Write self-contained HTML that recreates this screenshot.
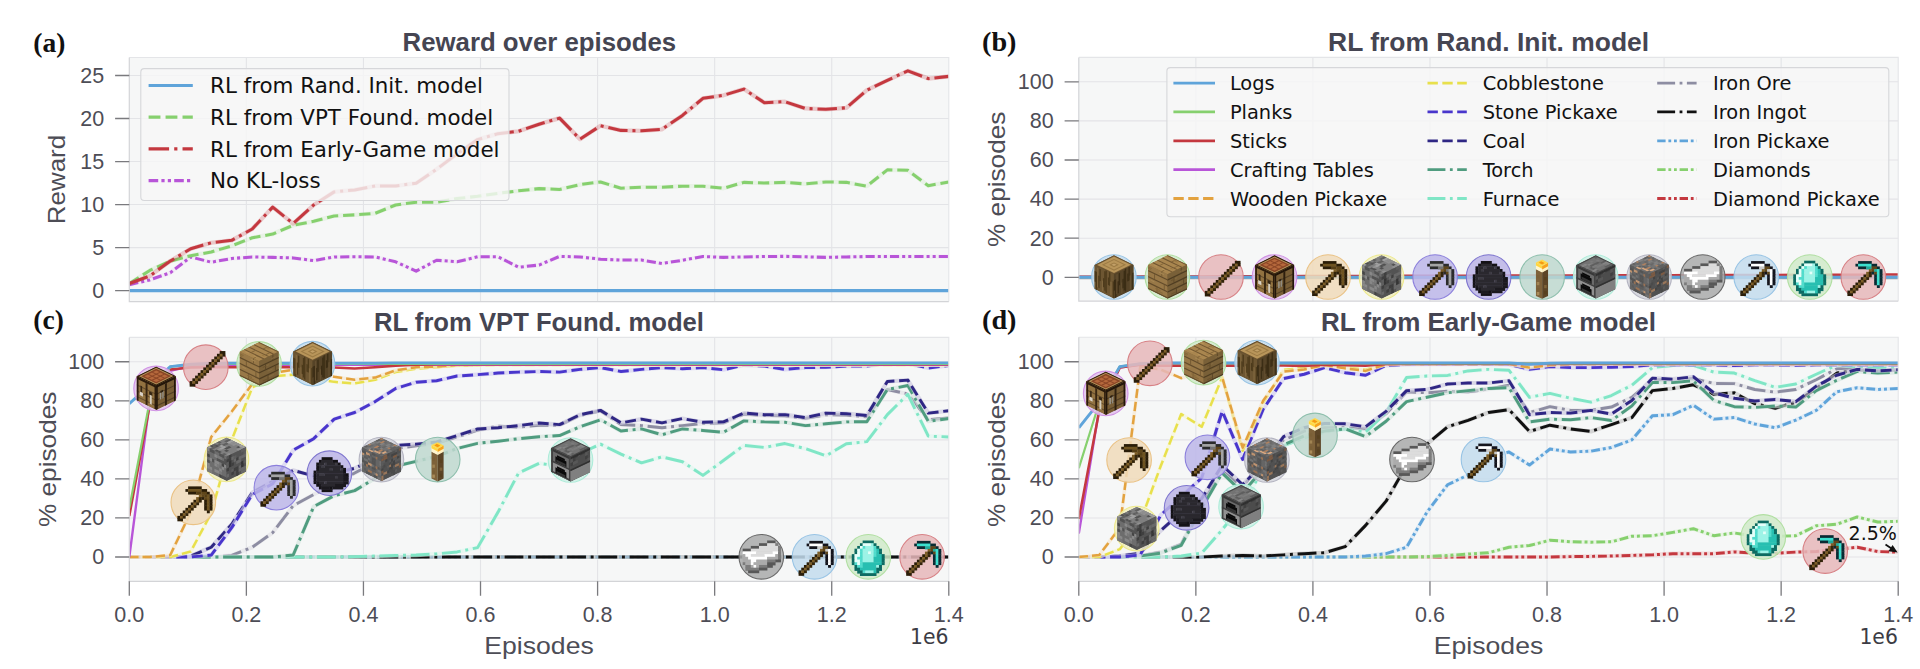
<!DOCTYPE html>
<html lang="en"><head><meta charset="utf-8"><title>RL fine-tuning results</title>
<style>html,body{margin:0;padding:0;background:#fff}svg{display:block}</style></head>
<body>
<svg width="1920" height="669" viewBox="0 0 1920 669">
<defs>
<clipPath id="ca"><rect x="129.3" y="57.5" width="819.5" height="244.1"/></clipPath>
<clipPath id="cb"><rect x="1078.8" y="57.4" width="819.4" height="243.8"/></clipPath>
<clipPath id="cc"><rect x="129.3" y="337.4" width="819.5" height="243.9"/></clipPath>
<clipPath id="cd"><rect x="1078.8" y="337.3" width="819.4" height="244"/></clipPath>
<g id="i-logs"><polygon points="0,-21.6 19.45,-12.1 19.45,11.7 0,21.4 -19.25,11.7 -19.25,-12.1" fill="#624d2d"/><g transform="matrix(1.2031 -0.5938 1.2031 0.5813 -19.250 -12.100)"><rect x="0" y="0" width="16.08" height="16.08" fill="#6b5330"/><rect x="1" y="1" width="14.08" height="14.08" fill="#b8955a"/><rect x="3" y="3" width="10.08" height="10.08" fill="#9c7b45"/><rect x="4" y="4" width="8.08" height="8.08" fill="#b8955a"/><rect x="6" y="6" width="4.08" height="4.08" fill="#9c7b45"/><rect x="7" y="7" width="2.08" height="2.08" fill="#c2a068"/></g><g transform="matrix(1.2031 0.5813 0.0000 1.4875 -19.250 -12.100)"><rect x="0" y="0" width="16.08" height="16.08" fill="#6d5632"/><rect x="0" y="4" width="1.08" height="7.08" fill="#4c3a1b"/><rect x="1" y="4" width="1.08" height="12.08" fill="#4c3a1b"/><rect x="2" y="1" width="1.08" height="13.08" fill="#80673f"/><rect x="3" y="6" width="1.08" height="8.08" fill="#4c3a1b"/><rect x="4" y="1" width="1.08" height="8.08" fill="#4c3a1b"/><rect x="6" y="8" width="1.08" height="7.08" fill="#80673f"/><rect x="7" y="6" width="1.08" height="6.08" fill="#4c3a1b"/><rect x="8" y="1" width="1.08" height="13.08" fill="#4c3a1b"/><rect x="9" y="0" width="1.08" height="15.08" fill="#4c3a1b"/><rect x="11" y="4" width="1.08" height="5.08" fill="#4c3a1b"/><rect x="12" y="0" width="1.08" height="9.08" fill="#4c3a1b"/><rect x="13" y="6" width="1.08" height="9.08" fill="#80673f"/><rect x="15" y="5" width="1.08" height="11.08" fill="#4c3a1b"/></g><g transform="matrix(1.2156 -0.5813 0.0000 1.5125 0.000 -2.800)"><rect x="0" y="0" width="16.08" height="16.08" fill="#554327"/><rect x="0" y="4" width="1.08" height="7.08" fill="#3b2d15"/><rect x="1" y="4" width="1.08" height="12.08" fill="#3b2d15"/><rect x="2" y="1" width="1.08" height="13.08" fill="#645031"/><rect x="3" y="6" width="1.08" height="8.08" fill="#3b2d15"/><rect x="4" y="1" width="1.08" height="8.08" fill="#3b2d15"/><rect x="6" y="8" width="1.08" height="7.08" fill="#645031"/><rect x="7" y="6" width="1.08" height="6.08" fill="#3b2d15"/><rect x="8" y="1" width="1.08" height="13.08" fill="#3b2d15"/><rect x="9" y="0" width="1.08" height="15.08" fill="#3b2d15"/><rect x="11" y="4" width="1.08" height="5.08" fill="#3b2d15"/><rect x="12" y="0" width="1.08" height="9.08" fill="#3b2d15"/><rect x="13" y="6" width="1.08" height="9.08" fill="#645031"/><rect x="15" y="5" width="1.08" height="11.08" fill="#3b2d15"/></g></g>
<g id="i-planks"><polygon points="0,-21.6 19.45,-12.1 19.45,11.7 0,21.4 -19.25,11.7 -19.25,-12.1" fill="#886c3f"/><g transform="matrix(1.2031 -0.5938 1.2031 0.5813 -19.250 -12.100)"><rect x="0" y="0" width="16.08" height="16.08" fill="#a9864f"/><rect x="3.4" y="0" width="0.88" height="16.08" fill="#6f5530"/><rect x="7.4" y="0" width="0.88" height="16.08" fill="#6f5530"/><rect x="11.4" y="0" width="0.88" height="16.08" fill="#6f5530"/><rect x="15.4" y="0" width="0.88" height="16.08" fill="#6f5530"/><rect x="0" y="11" width="3.48" height="0.68" fill="#7d6036"/><rect x="4" y="5" width="3.48" height="0.68" fill="#7d6036"/><rect x="8" y="13" width="3.48" height="0.68" fill="#7d6036"/><rect x="12" y="7" width="3.48" height="0.68" fill="#7d6036"/><rect x="2" y="2" width="0.78" height="3.08" fill="#b8945a"/><rect x="14" y="7" width="0.78" height="3.08" fill="#977642"/><rect x="6" y="12" width="0.78" height="2.08" fill="#977642"/><rect x="13" y="0" width="0.78" height="3.08" fill="#b8945a"/><rect x="14" y="11" width="0.78" height="3.08" fill="#b8945a"/><rect x="2" y="9" width="0.78" height="3.08" fill="#b8945a"/></g><g transform="matrix(1.2031 0.5813 0.0000 1.4875 -19.250 -12.100)"><rect x="0" y="0" width="16.08" height="16.08" fill="#987847"/><rect x="0" y="3.4" width="16.08" height="0.88" fill="#634c2b"/><rect x="0" y="7.4" width="16.08" height="0.88" fill="#634c2b"/><rect x="0" y="11.4" width="16.08" height="0.88" fill="#634c2b"/><rect x="0" y="15.4" width="16.08" height="0.88" fill="#634c2b"/><rect x="11" y="0" width="0.68" height="3.48" fill="#705630"/><rect x="5" y="4" width="0.68" height="3.48" fill="#705630"/><rect x="13" y="8" width="0.68" height="3.48" fill="#705630"/><rect x="7" y="12" width="0.68" height="3.48" fill="#705630"/><rect x="0" y="2" width="2.08" height="0.78" fill="#876a3b"/><rect x="2" y="9" width="3.08" height="0.78" fill="#a58551"/><rect x="9" y="1" width="4.08" height="0.78" fill="#a58551"/><rect x="6" y="13" width="4.08" height="0.78" fill="#876a3b"/><rect x="8" y="14" width="4.08" height="0.78" fill="#876a3b"/><rect x="0" y="1" width="3.08" height="0.78" fill="#876a3b"/></g><g transform="matrix(1.2156 -0.5813 0.0000 1.5125 0.000 -2.800)"><rect x="0" y="0" width="16.08" height="16.08" fill="#796038"/><rect x="0" y="3.4" width="16.08" height="0.88" fill="#4f3d22"/><rect x="0" y="7.4" width="16.08" height="0.88" fill="#4f3d22"/><rect x="0" y="11.4" width="16.08" height="0.88" fill="#4f3d22"/><rect x="0" y="15.4" width="16.08" height="0.88" fill="#4f3d22"/><rect x="11" y="0" width="0.68" height="3.48" fill="#5a4526"/><rect x="5" y="4" width="0.68" height="3.48" fill="#5a4526"/><rect x="13" y="8" width="0.68" height="3.48" fill="#5a4526"/><rect x="7" y="12" width="0.68" height="3.48" fill="#5a4526"/><rect x="3" y="5" width="3.08" height="0.78" fill="#6c542f"/><rect x="10" y="2" width="4.08" height="0.78" fill="#846a40"/><rect x="7" y="9" width="4.08" height="0.78" fill="#846a40"/><rect x="3" y="14" width="4.08" height="0.78" fill="#6c542f"/><rect x="6" y="5" width="2.08" height="0.78" fill="#846a40"/><rect x="8" y="13" width="4.08" height="0.78" fill="#846a40"/></g></g>
<g id="i-sticks"><rect x="13.88" y="-16.14" width="5.71" height="3.18" fill="#2a1d08"/><rect x="11.15" y="-13.42" width="2.98" height="3.18" fill="#2a1d08"/><rect x="13.88" y="-13.42" width="2.98" height="3.18" fill="#7d5e27"/><rect x="16.62" y="-13.42" width="2.98" height="2.83" fill="#2a1d08"/><rect x="8.43" y="-10.69" width="2.98" height="3.18" fill="#2a1d08"/><rect x="11.15" y="-10.69" width="2.98" height="3.18" fill="#7d5e27"/><rect x="13.88" y="-10.69" width="2.98" height="2.83" fill="#33240a"/><rect x="5.7" y="-7.96" width="2.98" height="3.18" fill="#2a1d08"/><rect x="8.43" y="-7.96" width="2.98" height="3.18" fill="#7d5e27"/><rect x="11.15" y="-7.96" width="2.98" height="2.83" fill="#33240a"/><rect x="2.96" y="-5.22" width="2.98" height="3.18" fill="#2a1d08"/><rect x="5.7" y="-5.22" width="2.98" height="3.18" fill="#7d5e27"/><rect x="8.43" y="-5.22" width="2.98" height="2.83" fill="#33240a"/><rect x="0.24" y="-2.49" width="2.98" height="3.18" fill="#2a1d08"/><rect x="2.96" y="-2.49" width="2.98" height="3.18" fill="#7d5e27"/><rect x="5.7" y="-2.49" width="2.98" height="2.83" fill="#33240a"/><rect x="-2.49" y="0.24" width="2.98" height="3.18" fill="#2a1d08"/><rect x="0.24" y="0.24" width="2.98" height="3.18" fill="#7d5e27"/><rect x="2.96" y="0.24" width="2.98" height="2.83" fill="#33240a"/><rect x="-5.22" y="2.96" width="2.98" height="3.18" fill="#2a1d08"/><rect x="-2.49" y="2.96" width="2.98" height="3.18" fill="#7d5e27"/><rect x="0.24" y="2.96" width="2.98" height="2.83" fill="#33240a"/><rect x="-7.96" y="5.7" width="2.98" height="3.18" fill="#2a1d08"/><rect x="-5.22" y="5.7" width="2.98" height="3.18" fill="#7d5e27"/><rect x="-2.49" y="5.7" width="2.98" height="2.83" fill="#33240a"/><rect x="-10.69" y="8.43" width="2.98" height="3.18" fill="#2a1d08"/><rect x="-7.96" y="8.43" width="2.98" height="3.18" fill="#7d5e27"/><rect x="-5.22" y="8.43" width="2.98" height="2.83" fill="#33240a"/><rect x="-13.42" y="11.15" width="2.98" height="3.18" fill="#2a1d08"/><rect x="-10.69" y="11.15" width="2.98" height="3.18" fill="#7d5e27"/><rect x="-7.96" y="11.15" width="2.98" height="2.83" fill="#33240a"/><rect x="-16.14" y="13.88" width="2.98" height="3.18" fill="#2a1d08"/><rect x="-13.42" y="13.88" width="2.98" height="3.18" fill="#7d5e27"/><rect x="-10.69" y="13.88" width="2.98" height="2.83" fill="#33240a"/><rect x="-16.14" y="16.62" width="5.71" height="2.83" fill="#2a1d08"/></g>
<g id="i-crafting"><polygon points="0,-21.6 19.45,-12.1 19.45,11.7 0,21.4 -19.25,11.7 -19.25,-12.1" fill="#83663a"/><g transform="matrix(1.2031 -0.5938 1.2031 0.5813 -19.250 -12.100)"><rect x="0" y="0" width="16.08" height="16.08" fill="#2e1d0d"/><rect x="0.9" y="0.9" width="14.28" height="14.28" fill="#b8955a"/><rect x="1.8" y="1.8" width="12.48" height="12.48" fill="#8a4526"/><rect x="3.1" y="3.1" width="9.88" height="9.88" fill="#b5683c"/><rect x="3.1" y="5.9" width="9.88" height="0.88" fill="#8a4526"/><rect x="5.9" y="3.1" width="0.88" height="9.88" fill="#8a4526"/><rect x="3.1" y="9.3" width="9.88" height="0.88" fill="#8a4526"/><rect x="9.3" y="3.1" width="0.88" height="9.88" fill="#8a4526"/></g><g transform="matrix(1.2031 0.5813 0.0000 1.4875 -19.250 -12.100)"><rect x="0" y="0" width="16.08" height="16.08" fill="#927240"/><rect x="0" y="0" width="16.08" height="1.58" fill="#2b1b0c"/><rect x="0" y="5.4" width="16.08" height="0.78" fill="#644d2d"/><rect x="0" y="9.4" width="16.08" height="0.78" fill="#644d2d"/><rect x="0" y="13.2" width="16.08" height="0.78" fill="#644d2d"/><rect x="0" y="0" width="1.38" height="16.08" fill="#2b1b0c"/><rect x="14.7" y="0" width="1.38" height="16.08" fill="#2b1b0c"/><rect x="7.3" y="1.5" width="1.58" height="14.58" fill="#372511"/><rect x="3" y="5" width="1.38" height="4.28" fill="#372714"/><rect x="2.4" y="9.2" width="2.68" height="2.48" fill="#dad3c7"/><rect x="10.2" y="6" width="2.68" height="2.28" fill="#372714"/><rect x="10.8" y="8.2" width="1.58" height="6.08" fill="#d4cdbf"/></g><g transform="matrix(1.2156 -0.5813 0.0000 1.5125 0.000 -2.800)"><rect x="0" y="0" width="16.08" height="16.08" fill="#785d35"/><rect x="0" y="0" width="16.08" height="1.58" fill="#23160a"/><rect x="0" y="5.4" width="16.08" height="0.78" fill="#523f25"/><rect x="0" y="9.4" width="16.08" height="0.78" fill="#523f25"/><rect x="0" y="13.2" width="16.08" height="0.78" fill="#523f25"/><rect x="0" y="0" width="1.38" height="16.08" fill="#23160a"/><rect x="14.7" y="0" width="1.38" height="16.08" fill="#23160a"/><rect x="7.3" y="1.5" width="1.58" height="14.58" fill="#2d1e0e"/><rect x="3" y="6" width="1.28" height="4.58" fill="#9c978c"/><rect x="5" y="6" width="1.28" height="4.58" fill="#8f8a7f"/><rect x="3.6" y="5" width="2.08" height="1.28" fill="#2d2011"/></g></g>
<g id="i-wpick"><rect x="-5.2" y="-15.92" width="13.65" height="3.13" fill="#2a1d08"/><rect x="-7.88" y="-13.24" width="2.93" height="2.78" fill="#2a1d08"/><rect x="-5.2" y="-13.24" width="13.65" height="3.13" fill="#6f5421"/><rect x="8.2" y="-13.24" width="5.61" height="3.13" fill="#2a1d08"/><rect x="-5.2" y="-10.56" width="8.29" height="2.78" fill="#2a1d08"/><rect x="2.84" y="-10.56" width="5.61" height="3.13" fill="#543e16"/><rect x="8.2" y="-10.56" width="5.61" height="3.13" fill="#5f461a"/><rect x="13.56" y="-10.56" width="2.93" height="3.13" fill="#2a1d08"/><rect x="5.52" y="-7.88" width="2.93" height="3.13" fill="#7d5e27"/><rect x="8.2" y="-7.88" width="2.93" height="3.13" fill="#5f461a"/><rect x="10.88" y="-7.88" width="2.93" height="3.13" fill="#543e16"/><rect x="13.56" y="-7.88" width="2.93" height="3.13" fill="#6f5421"/><rect x="16.24" y="-7.88" width="2.93" height="3.13" fill="#2a1d08"/><rect x="2.84" y="-5.2" width="2.93" height="3.13" fill="#7d5e27"/><rect x="5.52" y="-5.2" width="2.93" height="3.13" fill="#33240a"/><rect x="8.2" y="-5.2" width="2.93" height="2.78" fill="#2a1d08"/><rect x="10.88" y="-5.2" width="2.93" height="3.13" fill="#5f461a"/><rect x="13.56" y="-5.2" width="2.93" height="3.13" fill="#6f5421"/><rect x="16.24" y="-5.2" width="2.93" height="3.13" fill="#2a1d08"/><rect x="0.16" y="-2.52" width="2.93" height="3.13" fill="#2a1d08"/><rect x="2.84" y="-2.52" width="2.93" height="3.13" fill="#7d5e27"/><rect x="5.52" y="-2.52" width="2.93" height="2.78" fill="#33240a"/><rect x="10.88" y="-2.52" width="2.93" height="3.13" fill="#2a1d08"/><rect x="13.56" y="-2.52" width="2.93" height="3.13" fill="#6f5421"/><rect x="16.24" y="-2.52" width="2.93" height="3.13" fill="#2a1d08"/><rect x="-2.52" y="0.16" width="2.93" height="3.13" fill="#2a1d08"/><rect x="0.16" y="0.16" width="2.93" height="3.13" fill="#7d5e27"/><rect x="2.84" y="0.16" width="2.93" height="2.78" fill="#33240a"/><rect x="10.88" y="0.16" width="2.93" height="3.13" fill="#2a1d08"/><rect x="13.56" y="0.16" width="2.93" height="3.13" fill="#6f5421"/><rect x="16.24" y="0.16" width="2.93" height="3.13" fill="#2a1d08"/><rect x="-5.2" y="2.84" width="2.93" height="3.13" fill="#2a1d08"/><rect x="-2.52" y="2.84" width="2.93" height="3.13" fill="#7d5e27"/><rect x="0.16" y="2.84" width="2.93" height="2.78" fill="#33240a"/><rect x="10.88" y="2.84" width="2.93" height="3.13" fill="#2a1d08"/><rect x="13.56" y="2.84" width="2.93" height="3.13" fill="#6f5421"/><rect x="16.24" y="2.84" width="2.93" height="3.13" fill="#2a1d08"/><rect x="-7.88" y="5.52" width="2.93" height="3.13" fill="#2a1d08"/><rect x="-5.2" y="5.52" width="2.93" height="3.13" fill="#7d5e27"/><rect x="-2.52" y="5.52" width="2.93" height="2.78" fill="#33240a"/><rect x="10.88" y="5.52" width="2.93" height="2.78" fill="#2a1d08"/><rect x="13.56" y="5.52" width="2.93" height="3.13" fill="#6f5421"/><rect x="16.24" y="5.52" width="2.93" height="2.78" fill="#2a1d08"/><rect x="-10.56" y="8.2" width="2.93" height="3.13" fill="#2a1d08"/><rect x="-7.88" y="8.2" width="2.93" height="3.13" fill="#7d5e27"/><rect x="-5.2" y="8.2" width="2.93" height="2.78" fill="#33240a"/><rect x="13.56" y="8.2" width="2.93" height="2.78" fill="#2a1d08"/><rect x="-13.24" y="10.88" width="2.93" height="3.13" fill="#2a1d08"/><rect x="-10.56" y="10.88" width="2.93" height="3.13" fill="#7d5e27"/><rect x="-7.88" y="10.88" width="2.93" height="2.78" fill="#33240a"/><rect x="-15.92" y="13.56" width="2.93" height="3.13" fill="#2a1d08"/><rect x="-13.24" y="13.56" width="2.93" height="3.13" fill="#7d5e27"/><rect x="-10.56" y="13.56" width="2.93" height="2.78" fill="#33240a"/><rect x="-15.92" y="16.24" width="5.61" height="2.78" fill="#2a1d08"/></g>
<g id="i-cobble"><polygon points="0,-21.6 19.45,-12.1 19.45,11.7 0,21.4 -19.25,11.7 -19.25,-12.1" fill="#626262"/><g transform="matrix(1.2031 -0.5938 1.2031 0.5813 -19.250 -12.100)"><rect x="0" y="0" width="16.08" height="16.08" fill="#7f7f7f"/><rect x="0" y="0" width="2.08" height="2.08" fill="#a1a1a1"/><rect x="2" y="0" width="2.08" height="2.08" fill="#515151"/><rect x="4" y="0" width="2.08" height="2.08" fill="#606060"/><rect x="8" y="0" width="2.08" height="2.08" fill="#606060"/><rect x="0" y="2" width="4.08" height="2.08" fill="#606060"/><rect x="4" y="2" width="2.08" height="2.08" fill="#515151"/><rect x="6" y="2" width="2.08" height="2.08" fill="#606060"/><rect x="12" y="2" width="4.08" height="2.08" fill="#606060"/><rect x="6" y="4" width="2.08" height="2.08" fill="#a1a1a1"/><rect x="8" y="4" width="2.08" height="2.08" fill="#606060"/><rect x="10" y="4" width="2.08" height="2.08" fill="#606060"/><rect x="12" y="4" width="4.08" height="2.08" fill="#a1a1a1"/><rect x="0" y="6" width="2.08" height="2.08" fill="#515151"/><rect x="2" y="6" width="2.08" height="2.08" fill="#909090"/><rect x="4" y="6" width="4.08" height="2.08" fill="#a1a1a1"/><rect x="12" y="6" width="2.08" height="2.08" fill="#909090"/><rect x="14" y="6" width="2.08" height="2.08" fill="#909090"/><rect x="0" y="8" width="2.08" height="2.08" fill="#515151"/><rect x="6" y="8" width="2.08" height="2.08" fill="#515151"/><rect x="8" y="8" width="2.08" height="2.08" fill="#515151"/><rect x="12" y="8" width="4.08" height="2.08" fill="#909090"/><rect x="4" y="10" width="2.08" height="2.08" fill="#515151"/><rect x="14" y="10" width="2.08" height="2.08" fill="#909090"/><rect x="0" y="12" width="2.08" height="2.08" fill="#606060"/><rect x="12" y="12" width="2.08" height="2.08" fill="#515151"/><rect x="14" y="12" width="2.08" height="2.08" fill="#a1a1a1"/><rect x="2" y="14" width="2.08" height="2.08" fill="#909090"/><rect x="10" y="14" width="4.08" height="2.08" fill="#909090"/><rect x="14" y="14" width="2.08" height="2.08" fill="#a1a1a1"/></g><g transform="matrix(1.2031 0.5813 0.0000 1.4875 -19.250 -12.100)"><rect x="0" y="0" width="16.08" height="16.08" fill="#6d6d6d"/><rect x="0" y="0" width="2.08" height="2.08" fill="#898989"/><rect x="2" y="0" width="4.08" height="2.08" fill="#525252"/><rect x="10" y="0" width="2.08" height="2.08" fill="#525252"/><rect x="12" y="0" width="2.08" height="2.08" fill="#525252"/><rect x="6" y="2" width="2.08" height="2.08" fill="#898989"/><rect x="8" y="2" width="4.08" height="2.08" fill="#7a7a7a"/><rect x="14" y="2" width="2.08" height="2.08" fill="#525252"/><rect x="0" y="4" width="2.08" height="2.08" fill="#454545"/><rect x="8" y="4" width="4.08" height="2.08" fill="#525252"/><rect x="12" y="4" width="4.08" height="2.08" fill="#525252"/><rect x="2" y="6" width="2.08" height="2.08" fill="#898989"/><rect x="4" y="6" width="2.08" height="2.08" fill="#525252"/><rect x="6" y="6" width="4.08" height="2.08" fill="#898989"/><rect x="10" y="6" width="2.08" height="2.08" fill="#7a7a7a"/><rect x="12" y="6" width="2.08" height="2.08" fill="#454545"/><rect x="14" y="6" width="2.08" height="2.08" fill="#898989"/><rect x="0" y="8" width="2.08" height="2.08" fill="#525252"/><rect x="6" y="8" width="2.08" height="2.08" fill="#898989"/><rect x="8" y="8" width="2.08" height="2.08" fill="#7a7a7a"/><rect x="12" y="8" width="2.08" height="2.08" fill="#898989"/><rect x="0" y="10" width="2.08" height="2.08" fill="#898989"/><rect x="10" y="10" width="2.08" height="2.08" fill="#898989"/><rect x="0" y="12" width="2.08" height="2.08" fill="#898989"/><rect x="2" y="12" width="2.08" height="2.08" fill="#898989"/><rect x="6" y="12" width="4.08" height="2.08" fill="#898989"/><rect x="10" y="12" width="2.08" height="2.08" fill="#7a7a7a"/><rect x="0" y="14" width="4.08" height="2.08" fill="#7a7a7a"/><rect x="10" y="14" width="2.08" height="2.08" fill="#454545"/><rect x="12" y="14" width="4.08" height="2.08" fill="#525252"/></g><g transform="matrix(1.2156 -0.5813 0.0000 1.5125 0.000 -2.800)"><rect x="0" y="0" width="16.08" height="16.08" fill="#535353"/><rect x="2" y="0" width="2.08" height="2.08" fill="#3f3f3f"/><rect x="12" y="0" width="4.08" height="2.08" fill="#5e5e5e"/><rect x="0" y="2" width="4.08" height="2.08" fill="#3f3f3f"/><rect x="4" y="2" width="2.08" height="2.08" fill="#696969"/><rect x="6" y="2" width="2.08" height="2.08" fill="#5e5e5e"/><rect x="14" y="2" width="2.08" height="2.08" fill="#5e5e5e"/><rect x="0" y="4" width="2.08" height="2.08" fill="#5e5e5e"/><rect x="2" y="4" width="2.08" height="2.08" fill="#353535"/><rect x="6" y="4" width="2.08" height="2.08" fill="#696969"/><rect x="8" y="4" width="2.08" height="2.08" fill="#3f3f3f"/><rect x="10" y="4" width="2.08" height="2.08" fill="#696969"/><rect x="12" y="4" width="4.08" height="2.08" fill="#696969"/><rect x="0" y="6" width="2.08" height="2.08" fill="#5e5e5e"/><rect x="2" y="6" width="2.08" height="2.08" fill="#353535"/><rect x="4" y="6" width="2.08" height="2.08" fill="#3f3f3f"/><rect x="8" y="6" width="4.08" height="2.08" fill="#696969"/><rect x="0" y="8" width="2.08" height="2.08" fill="#3f3f3f"/><rect x="12" y="8" width="2.08" height="2.08" fill="#353535"/><rect x="14" y="8" width="2.08" height="2.08" fill="#5e5e5e"/><rect x="4" y="10" width="2.08" height="2.08" fill="#5e5e5e"/><rect x="6" y="10" width="4.08" height="2.08" fill="#3f3f3f"/><rect x="10" y="10" width="2.08" height="2.08" fill="#696969"/><rect x="12" y="10" width="2.08" height="2.08" fill="#353535"/><rect x="0" y="12" width="2.08" height="2.08" fill="#696969"/><rect x="4" y="12" width="2.08" height="2.08" fill="#3f3f3f"/><rect x="8" y="12" width="2.08" height="2.08" fill="#3f3f3f"/><rect x="10" y="12" width="2.08" height="2.08" fill="#696969"/><rect x="12" y="12" width="4.08" height="2.08" fill="#696969"/><rect x="8" y="14" width="2.08" height="2.08" fill="#3f3f3f"/><rect x="12" y="14" width="4.08" height="2.08" fill="#696969"/></g></g>
<g id="i-spick"><rect x="-5.2" y="-15.92" width="13.65" height="3.13" fill="#2b2b2b"/><rect x="-7.88" y="-13.24" width="2.93" height="2.78" fill="#2b2b2b"/><rect x="-5.2" y="-13.24" width="13.65" height="3.13" fill="#a4a4a4"/><rect x="8.2" y="-13.24" width="5.61" height="3.13" fill="#2b2b2b"/><rect x="-5.2" y="-10.56" width="8.29" height="2.78" fill="#2b2b2b"/><rect x="2.84" y="-10.56" width="5.61" height="3.13" fill="#747474"/><rect x="8.2" y="-10.56" width="5.61" height="3.13" fill="#5f461a"/><rect x="13.56" y="-10.56" width="2.93" height="3.13" fill="#2b2b2b"/><rect x="5.52" y="-7.88" width="2.93" height="3.13" fill="#7d5e27"/><rect x="8.2" y="-7.88" width="2.93" height="3.13" fill="#5f461a"/><rect x="10.88" y="-7.88" width="2.93" height="3.13" fill="#747474"/><rect x="13.56" y="-7.88" width="2.93" height="3.13" fill="#a4a4a4"/><rect x="16.24" y="-7.88" width="2.93" height="3.13" fill="#2b2b2b"/><rect x="2.84" y="-5.2" width="2.93" height="3.13" fill="#7d5e27"/><rect x="5.52" y="-5.2" width="2.93" height="3.13" fill="#33240a"/><rect x="8.2" y="-5.2" width="2.93" height="2.78" fill="#2b2b2b"/><rect x="10.88" y="-5.2" width="2.93" height="3.13" fill="#5f461a"/><rect x="13.56" y="-5.2" width="2.93" height="3.13" fill="#a4a4a4"/><rect x="16.24" y="-5.2" width="2.93" height="3.13" fill="#2b2b2b"/><rect x="0.16" y="-2.52" width="2.93" height="3.13" fill="#2a1d08"/><rect x="2.84" y="-2.52" width="2.93" height="3.13" fill="#7d5e27"/><rect x="5.52" y="-2.52" width="2.93" height="2.78" fill="#33240a"/><rect x="10.88" y="-2.52" width="2.93" height="3.13" fill="#2b2b2b"/><rect x="13.56" y="-2.52" width="2.93" height="3.13" fill="#a4a4a4"/><rect x="16.24" y="-2.52" width="2.93" height="3.13" fill="#2b2b2b"/><rect x="-2.52" y="0.16" width="2.93" height="3.13" fill="#2a1d08"/><rect x="0.16" y="0.16" width="2.93" height="3.13" fill="#7d5e27"/><rect x="2.84" y="0.16" width="2.93" height="2.78" fill="#33240a"/><rect x="10.88" y="0.16" width="2.93" height="3.13" fill="#2b2b2b"/><rect x="13.56" y="0.16" width="2.93" height="3.13" fill="#a4a4a4"/><rect x="16.24" y="0.16" width="2.93" height="3.13" fill="#2b2b2b"/><rect x="-5.2" y="2.84" width="2.93" height="3.13" fill="#2a1d08"/><rect x="-2.52" y="2.84" width="2.93" height="3.13" fill="#7d5e27"/><rect x="0.16" y="2.84" width="2.93" height="2.78" fill="#33240a"/><rect x="10.88" y="2.84" width="2.93" height="3.13" fill="#2b2b2b"/><rect x="13.56" y="2.84" width="2.93" height="3.13" fill="#a4a4a4"/><rect x="16.24" y="2.84" width="2.93" height="3.13" fill="#2b2b2b"/><rect x="-7.88" y="5.52" width="2.93" height="3.13" fill="#2a1d08"/><rect x="-5.2" y="5.52" width="2.93" height="3.13" fill="#7d5e27"/><rect x="-2.52" y="5.52" width="2.93" height="2.78" fill="#33240a"/><rect x="10.88" y="5.52" width="2.93" height="2.78" fill="#2b2b2b"/><rect x="13.56" y="5.52" width="2.93" height="3.13" fill="#a4a4a4"/><rect x="16.24" y="5.52" width="2.93" height="2.78" fill="#2b2b2b"/><rect x="-10.56" y="8.2" width="2.93" height="3.13" fill="#2a1d08"/><rect x="-7.88" y="8.2" width="2.93" height="3.13" fill="#7d5e27"/><rect x="-5.2" y="8.2" width="2.93" height="2.78" fill="#33240a"/><rect x="13.56" y="8.2" width="2.93" height="2.78" fill="#2b2b2b"/><rect x="-13.24" y="10.88" width="2.93" height="3.13" fill="#2a1d08"/><rect x="-10.56" y="10.88" width="2.93" height="3.13" fill="#7d5e27"/><rect x="-7.88" y="10.88" width="2.93" height="2.78" fill="#33240a"/><rect x="-15.92" y="13.56" width="2.93" height="3.13" fill="#2a1d08"/><rect x="-13.24" y="13.56" width="2.93" height="3.13" fill="#7d5e27"/><rect x="-10.56" y="13.56" width="2.93" height="2.78" fill="#33240a"/><rect x="-15.92" y="16.24" width="5.61" height="2.78" fill="#2a1d08"/></g>
<g id="i-coal"><rect x="-7.78" y="-16.02" width="10.97" height="3.13" fill="#141216"/><rect x="-10.46" y="-13.34" width="2.93" height="3.13" fill="#141216"/><rect x="-7.78" y="-13.34" width="10.97" height="3.13" fill="#2a282e"/><rect x="2.94" y="-13.34" width="5.61" height="3.13" fill="#141216"/><rect x="-13.14" y="-10.66" width="2.93" height="3.13" fill="#141216"/><rect x="-10.46" y="-10.66" width="5.61" height="3.13" fill="#2a282e"/><rect x="-5.1" y="-10.66" width="2.93" height="3.13" fill="#3c3a42"/><rect x="-2.42" y="-10.66" width="8.29" height="3.13" fill="#2a282e"/><rect x="5.62" y="-10.66" width="2.93" height="3.13" fill="#3c3a42"/><rect x="8.3" y="-10.66" width="2.93" height="3.13" fill="#141216"/><rect x="-13.14" y="-7.98" width="2.93" height="3.13" fill="#141216"/><rect x="-10.46" y="-7.98" width="2.93" height="3.13" fill="#2a282e"/><rect x="-7.78" y="-7.98" width="2.93" height="3.13" fill="#3c3a42"/><rect x="-5.1" y="-7.98" width="16.33" height="3.13" fill="#2a282e"/><rect x="10.98" y="-7.98" width="2.93" height="3.13" fill="#141216"/><rect x="-13.14" y="-5.3" width="2.93" height="3.13" fill="#141216"/><rect x="-10.46" y="-5.3" width="10.97" height="3.13" fill="#2a282e"/><rect x="0.26" y="-5.3" width="2.93" height="3.13" fill="#3c3a42"/><rect x="2.94" y="-5.3" width="8.29" height="3.13" fill="#2a282e"/><rect x="10.98" y="-5.3" width="2.93" height="3.13" fill="#3c3a42"/><rect x="13.66" y="-5.3" width="2.93" height="3.13" fill="#141216"/><rect x="-15.82" y="-2.62" width="2.93" height="3.13" fill="#141216"/><rect x="-13.14" y="-2.62" width="27.05" height="3.13" fill="#2a282e"/><rect x="13.66" y="-2.62" width="2.93" height="3.13" fill="#141216"/><rect x="-15.82" y="0.06" width="2.93" height="3.13" fill="#141216"/><rect x="-13.14" y="0.06" width="2.93" height="3.13" fill="#2a282e"/><rect x="-10.46" y="0.06" width="5.61" height="3.13" fill="#3c3a42"/><rect x="-5.1" y="0.06" width="19.01" height="3.13" fill="#2a282e"/><rect x="13.66" y="0.06" width="2.93" height="3.13" fill="#1c1a1f"/><rect x="16.34" y="0.06" width="2.93" height="3.13" fill="#141216"/><rect x="-15.82" y="2.74" width="2.93" height="3.13" fill="#141216"/><rect x="-13.14" y="2.74" width="19.01" height="3.13" fill="#2a282e"/><rect x="5.62" y="2.74" width="2.93" height="3.13" fill="#3c3a42"/><rect x="8.3" y="2.74" width="5.61" height="3.13" fill="#2a282e"/><rect x="13.66" y="2.74" width="5.61" height="3.13" fill="#1c1a1f"/><rect x="-15.82" y="5.42" width="2.93" height="3.13" fill="#141216"/><rect x="-13.14" y="5.42" width="27.05" height="3.13" fill="#2a282e"/><rect x="13.66" y="5.42" width="5.61" height="3.13" fill="#1c1a1f"/><rect x="-15.82" y="8.1" width="2.93" height="2.78" fill="#141216"/><rect x="-13.14" y="8.1" width="2.93" height="3.13" fill="#1c1a1f"/><rect x="-10.46" y="8.1" width="5.61" height="3.13" fill="#2a282e"/><rect x="-5.1" y="8.1" width="2.93" height="3.13" fill="#3c3a42"/><rect x="-2.42" y="8.1" width="16.33" height="3.13" fill="#2a282e"/><rect x="13.66" y="8.1" width="5.61" height="3.13" fill="#1c1a1f"/><rect x="-13.14" y="10.78" width="2.93" height="2.78" fill="#141216"/><rect x="-10.46" y="10.78" width="2.93" height="3.13" fill="#1c1a1f"/><rect x="-7.78" y="10.78" width="13.65" height="3.13" fill="#2a282e"/><rect x="5.62" y="10.78" width="10.97" height="3.13" fill="#1c1a1f"/><rect x="-10.46" y="13.46" width="2.93" height="2.78" fill="#141216"/><rect x="-7.78" y="13.46" width="8.29" height="3.13" fill="#1c1a1f"/><rect x="0.26" y="13.46" width="2.93" height="3.13" fill="#141216"/><rect x="2.94" y="13.46" width="10.97" height="2.78" fill="#1c1a1f"/><rect x="-7.78" y="16.14" width="10.97" height="2.78" fill="#141216"/></g>
<g id="i-torch"><polygon points="-6.2,-8 0,-5 0,21.8 -6.2,19" fill="#7e623a"/><polygon points="0,-5 5.9,-8 5.9,19 0,21.8" fill="#5c4527"/><rect x="-5.4" y="-2" width="2.6" height="3.2" fill="#7a5f36"/><rect x="-5.4" y="5" width="2.6" height="3.2" fill="#a08352"/><rect x="-5.4" y="11" width="2.6" height="3.2" fill="#7a5f36"/><rect x="-5.4" y="15" width="2.6" height="3.2" fill="#a88a58"/><rect x="2" y="0" width="2.6" height="3.2" fill="#57411f"/><rect x="2" y="8" width="2.6" height="3.2" fill="#7d6238"/><rect x="2" y="14" width="2.6" height="3.2" fill="#57411f"/><polygon points="-6.2,-14.5 0,-10.9 0,-4.6 -6.2,-7.8" fill="#fff6cf"/><polygon points="0,-10.9 5.9,-14.2 5.9,-7.8 0,-4.6" fill="#fff0c0"/><polygon points="-6.2,-14.5 0,-10.9 0,-8.2 -6.2,-11.4" fill="#ffd640"/><polygon points="0,-10.9 5.9,-14.2 5.9,-10.8 0,-7.6" fill="#f6a21c"/><polygon points="0,-17.4 5.9,-14.2 0,-10.9 -6.2,-14.5" fill="#ffd84a"/><polygon points="-1,-15.8 2.6,-14 0,-12.4 -3.4,-14.2" fill="#f59a12"/></g>
<g id="i-furnace"><polygon points="0,-21.6 19.45,-12.1 19.45,11.7 0,21.4 -19.25,11.7 -19.25,-12.1" fill="#606060"/><g transform="matrix(1.2031 -0.5938 1.2031 0.5813 -19.250 -12.100)"><rect x="0" y="0" width="16.08" height="16.08" fill="#474747"/><rect x="1" y="1" width="14.08" height="14.08" fill="#737373"/><rect x="13.25" y="1" width="1.83" height="1.83" fill="#5e5e5e"/><rect x="1" y="2.75" width="1.83" height="1.83" fill="#868686"/><rect x="2.75" y="2.75" width="1.83" height="1.83" fill="#868686"/><rect x="8" y="2.75" width="1.83" height="1.83" fill="#7c7c7c"/><rect x="4.5" y="4.5" width="1.83" height="1.83" fill="#868686"/><rect x="6.25" y="4.5" width="1.83" height="1.83" fill="#7c7c7c"/><rect x="11.5" y="4.5" width="1.83" height="1.83" fill="#7c7c7c"/><rect x="1" y="6.25" width="1.83" height="1.83" fill="#7c7c7c"/><rect x="4.5" y="6.25" width="3.58" height="1.83" fill="#5e5e5e"/><rect x="8" y="6.25" width="3.58" height="1.83" fill="#5e5e5e"/><rect x="2.75" y="8" width="1.83" height="1.83" fill="#5e5e5e"/><rect x="4.5" y="8" width="1.83" height="1.83" fill="#7c7c7c"/><rect x="6.25" y="8" width="1.83" height="1.83" fill="#7c7c7c"/><rect x="11.5" y="8" width="1.83" height="1.83" fill="#5e5e5e"/><rect x="13.25" y="8" width="1.83" height="1.83" fill="#5e5e5e"/><rect x="2.75" y="9.75" width="1.83" height="1.83" fill="#5e5e5e"/><rect x="6.25" y="9.75" width="1.83" height="1.83" fill="#7c7c7c"/><rect x="8" y="9.75" width="3.58" height="1.83" fill="#7c7c7c"/><rect x="11.5" y="9.75" width="1.83" height="1.83" fill="#868686"/><rect x="13.25" y="9.75" width="1.83" height="1.83" fill="#868686"/><rect x="1" y="11.5" width="3.58" height="1.83" fill="#868686"/><rect x="11.5" y="11.5" width="1.83" height="1.83" fill="#7c7c7c"/><rect x="13.25" y="11.5" width="1.83" height="1.83" fill="#868686"/><rect x="2.75" y="13.25" width="1.83" height="1.83" fill="#5e5e5e"/><rect x="9.75" y="13.25" width="1.83" height="1.83" fill="#5e5e5e"/><rect x="11.5" y="13.25" width="3.58" height="1.83" fill="#5e5e5e"/></g><g transform="matrix(1.2031 0.5813 0.0000 1.4875 -19.250 -12.100)"><rect x="0" y="0" width="16.08" height="16.08" fill="#6b6b6b"/><rect x="0" y="0" width="16.08" height="1.68" fill="#383838"/><rect x="0" y="0" width="1.48" height="16.08" fill="#424242"/><rect x="14.6" y="0" width="1.48" height="16.08" fill="#424242"/><rect x="0" y="8" width="16.08" height="1.28" fill="#3e3e3e"/><rect x="1.4" y="9.2" width="13.28" height="6.88" fill="#919191"/><rect x="0" y="15" width="16.08" height="1.08" fill="#424242"/><rect x="3.5" y="4.2" width="9.08" height="3.68" fill="#0a0a0a"/><rect x="4.8" y="3" width="6.48" height="1.48" fill="#0a0a0a"/><rect x="4.2" y="6.2" width="7.68" height="1.68" fill="#343434"/><rect x="3.5" y="11.6" width="9.08" height="3.68" fill="#0a0a0a"/><rect x="4.8" y="10.4" width="6.48" height="1.48" fill="#0a0a0a"/><rect x="4.4" y="13.8" width="7.28" height="1.48" fill="#343434"/></g><g transform="matrix(1.2156 -0.5813 0.0000 1.5125 0.000 -2.800)"><rect x="0" y="0" width="16.08" height="16.08" fill="#4c4c4c"/><rect x="0" y="0" width="2.08" height="2.08" fill="#575757"/><rect x="2" y="0" width="4.08" height="2.08" fill="#3f3f3f"/><rect x="6" y="0" width="2.08" height="2.08" fill="#575757"/><rect x="8" y="0" width="4.08" height="2.08" fill="#3f3f3f"/><rect x="12" y="0" width="2.08" height="2.08" fill="#575757"/><rect x="14" y="0" width="2.08" height="2.08" fill="#575757"/><rect x="0" y="2" width="2.08" height="2.08" fill="#575757"/><rect x="2" y="2" width="2.08" height="2.08" fill="#3f3f3f"/><rect x="12" y="2" width="2.08" height="2.08" fill="#575757"/><rect x="0" y="4" width="2.08" height="2.08" fill="#3f3f3f"/><rect x="2" y="4" width="4.08" height="2.08" fill="#575757"/><rect x="12" y="4" width="2.08" height="2.08" fill="#3f3f3f"/><rect x="14" y="6" width="2.08" height="2.08" fill="#575757"/><rect x="0" y="9.2" width="16.08" height="6.88" fill="#808080"/><rect x="0" y="8.2" width="16.08" height="1.08" fill="#313131"/><rect x="0" y="0" width="16.08" height="1.48" fill="#303030"/></g></g>
<g id="i-ore"><polygon points="0,-21.6 19.45,-12.1 19.45,11.7 0,21.4 -19.25,11.7 -19.25,-12.1" fill="#5b5b5b"/><g transform="matrix(1.2031 -0.5938 1.2031 0.5813 -19.250 -12.100)"><rect x="0" y="0" width="16.08" height="16.08" fill="#737373"/><rect x="1.6" y="0" width="1.68" height="1.68" fill="#606060"/><rect x="4.8" y="0" width="1.68" height="1.68" fill="#b08260"/><rect x="6.4" y="0" width="3.28" height="1.68" fill="#828282"/><rect x="11.2" y="0" width="3.28" height="1.68" fill="#606060"/><rect x="14.4" y="0" width="1.68" height="1.68" fill="#b08260"/><rect x="3.2" y="1.6" width="1.68" height="1.68" fill="#696969"/><rect x="4.8" y="1.6" width="1.68" height="1.68" fill="#696969"/><rect x="9.6" y="1.6" width="3.28" height="1.68" fill="#828282"/><rect x="12.8" y="1.6" width="1.68" height="1.68" fill="#696969"/><rect x="1.6" y="3.2" width="1.68" height="1.68" fill="#828282"/><rect x="8" y="3.2" width="3.28" height="1.68" fill="#696969"/><rect x="11.2" y="3.2" width="3.28" height="1.68" fill="#b08260"/><rect x="14.4" y="3.2" width="1.68" height="1.68" fill="#696969"/><rect x="0" y="4.8" width="1.68" height="1.68" fill="#d9a880"/><rect x="1.6" y="4.8" width="1.68" height="1.68" fill="#606060"/><rect x="4.8" y="4.8" width="3.28" height="1.68" fill="#b08260"/><rect x="8" y="4.8" width="1.68" height="1.68" fill="#696969"/><rect x="9.6" y="4.8" width="1.68" height="1.68" fill="#828282"/><rect x="11.2" y="4.8" width="1.68" height="1.68" fill="#828282"/><rect x="12.8" y="4.8" width="1.68" height="1.68" fill="#696969"/><rect x="0" y="6.4" width="1.68" height="1.68" fill="#d9a880"/><rect x="1.6" y="6.4" width="1.68" height="1.68" fill="#828282"/><rect x="3.2" y="6.4" width="1.68" height="1.68" fill="#606060"/><rect x="6.4" y="6.4" width="1.68" height="1.68" fill="#606060"/><rect x="1.6" y="8" width="1.68" height="1.68" fill="#d9a880"/><rect x="3.2" y="8" width="1.68" height="1.68" fill="#606060"/><rect x="4.8" y="8" width="1.68" height="1.68" fill="#696969"/><rect x="6.4" y="8" width="1.68" height="1.68" fill="#828282"/><rect x="8" y="8" width="1.68" height="1.68" fill="#696969"/><rect x="9.6" y="8" width="1.68" height="1.68" fill="#696969"/><rect x="11.2" y="8" width="3.28" height="1.68" fill="#828282"/><rect x="14.4" y="8" width="1.68" height="1.68" fill="#696969"/><rect x="1.6" y="9.6" width="1.68" height="1.68" fill="#d9a880"/><rect x="3.2" y="9.6" width="3.28" height="1.68" fill="#b08260"/><rect x="9.6" y="9.6" width="3.28" height="1.68" fill="#828282"/><rect x="0" y="11.2" width="1.68" height="1.68" fill="#696969"/><rect x="1.6" y="11.2" width="1.68" height="1.68" fill="#d9a880"/><rect x="4.8" y="11.2" width="1.68" height="1.68" fill="#606060"/><rect x="9.6" y="11.2" width="1.68" height="1.68" fill="#b08260"/><rect x="11.2" y="11.2" width="1.68" height="1.68" fill="#696969"/><rect x="12.8" y="11.2" width="1.68" height="1.68" fill="#828282"/><rect x="14.4" y="11.2" width="1.68" height="1.68" fill="#b08260"/><rect x="0" y="12.8" width="3.28" height="1.68" fill="#606060"/><rect x="3.2" y="12.8" width="3.28" height="1.68" fill="#d9a880"/><rect x="6.4" y="12.8" width="1.68" height="1.68" fill="#606060"/><rect x="9.6" y="12.8" width="1.68" height="1.68" fill="#606060"/><rect x="11.2" y="12.8" width="3.28" height="1.68" fill="#606060"/><rect x="14.4" y="12.8" width="1.68" height="1.68" fill="#828282"/><rect x="0" y="14.4" width="3.28" height="1.68" fill="#696969"/><rect x="9.6" y="14.4" width="3.28" height="1.68" fill="#606060"/><rect x="12.8" y="14.4" width="3.28" height="1.68" fill="#606060"/></g><g transform="matrix(1.2031 0.5813 0.0000 1.4875 -19.250 -12.100)"><rect x="0" y="0" width="16.08" height="16.08" fill="#656565"/><rect x="0" y="0" width="3.28" height="1.68" fill="#5c5c5c"/><rect x="8" y="0" width="3.28" height="1.68" fill="#545454"/><rect x="11.2" y="0" width="3.28" height="1.68" fill="#5c5c5c"/><rect x="14.4" y="0" width="1.68" height="1.68" fill="#5c5c5c"/><rect x="0" y="1.6" width="1.68" height="1.68" fill="#545454"/><rect x="1.6" y="1.6" width="1.68" height="1.68" fill="#545454"/><rect x="3.2" y="1.6" width="3.28" height="1.68" fill="#be9370"/><rect x="6.4" y="1.6" width="1.68" height="1.68" fill="#5c5c5c"/><rect x="11.2" y="1.6" width="1.68" height="1.68" fill="#9a7254"/><rect x="12.8" y="1.6" width="1.68" height="1.68" fill="#5c5c5c"/><rect x="14.4" y="1.6" width="1.68" height="1.68" fill="#5c5c5c"/><rect x="0" y="3.2" width="1.68" height="1.68" fill="#be9370"/><rect x="4.8" y="3.2" width="1.68" height="1.68" fill="#5c5c5c"/><rect x="8" y="3.2" width="3.28" height="1.68" fill="#545454"/><rect x="14.4" y="3.2" width="1.68" height="1.68" fill="#727272"/><rect x="0" y="4.8" width="1.68" height="1.68" fill="#727272"/><rect x="1.6" y="4.8" width="3.28" height="1.68" fill="#5c5c5c"/><rect x="4.8" y="4.8" width="1.68" height="1.68" fill="#727272"/><rect x="8" y="4.8" width="1.68" height="1.68" fill="#545454"/><rect x="9.6" y="4.8" width="1.68" height="1.68" fill="#545454"/><rect x="14.4" y="4.8" width="1.68" height="1.68" fill="#727272"/><rect x="0" y="6.4" width="1.68" height="1.68" fill="#5c5c5c"/><rect x="1.6" y="6.4" width="3.28" height="1.68" fill="#727272"/><rect x="4.8" y="6.4" width="3.28" height="1.68" fill="#5c5c5c"/><rect x="8" y="6.4" width="3.28" height="1.68" fill="#545454"/><rect x="0" y="8" width="1.68" height="1.68" fill="#545454"/><rect x="1.6" y="8" width="3.28" height="1.68" fill="#545454"/><rect x="4.8" y="8" width="3.28" height="1.68" fill="#be9370"/><rect x="8" y="8" width="1.68" height="1.68" fill="#727272"/><rect x="9.6" y="8" width="1.68" height="1.68" fill="#5c5c5c"/><rect x="11.2" y="8" width="1.68" height="1.68" fill="#9a7254"/><rect x="12.8" y="8" width="1.68" height="1.68" fill="#545454"/><rect x="14.4" y="8" width="1.68" height="1.68" fill="#5c5c5c"/><rect x="0" y="9.6" width="1.68" height="1.68" fill="#727272"/><rect x="1.6" y="9.6" width="1.68" height="1.68" fill="#545454"/><rect x="3.2" y="9.6" width="1.68" height="1.68" fill="#9a7254"/><rect x="4.8" y="9.6" width="1.68" height="1.68" fill="#545454"/><rect x="8" y="9.6" width="3.28" height="1.68" fill="#545454"/><rect x="12.8" y="9.6" width="3.28" height="1.68" fill="#727272"/><rect x="8" y="11.2" width="3.28" height="1.68" fill="#5c5c5c"/><rect x="14.4" y="11.2" width="1.68" height="1.68" fill="#727272"/><rect x="1.6" y="12.8" width="1.68" height="1.68" fill="#5c5c5c"/><rect x="4.8" y="12.8" width="3.28" height="1.68" fill="#9a7254"/><rect x="9.6" y="12.8" width="1.68" height="1.68" fill="#727272"/><rect x="11.2" y="12.8" width="1.68" height="1.68" fill="#be9370"/><rect x="3.2" y="14.4" width="3.28" height="1.68" fill="#545454"/><rect x="6.4" y="14.4" width="1.68" height="1.68" fill="#5c5c5c"/><rect x="9.6" y="14.4" width="3.28" height="1.68" fill="#545454"/><rect x="12.8" y="14.4" width="3.28" height="1.68" fill="#727272"/></g><g transform="matrix(1.2156 -0.5813 0.0000 1.5125 0.000 -2.800)"><rect x="0" y="0" width="16.08" height="16.08" fill="#515151"/><rect x="0" y="0" width="1.68" height="1.68" fill="#5b5b5b"/><rect x="1.6" y="0" width="3.28" height="1.68" fill="#7c5b44"/><rect x="4.8" y="0" width="1.68" height="1.68" fill="#4a4a4a"/><rect x="11.2" y="0" width="1.68" height="1.68" fill="#5b5b5b"/><rect x="14.4" y="0" width="1.68" height="1.68" fill="#7c5b44"/><rect x="0" y="1.6" width="1.68" height="1.68" fill="#7c5b44"/><rect x="1.6" y="1.6" width="3.28" height="1.68" fill="#7c5b44"/><rect x="8" y="1.6" width="3.28" height="1.68" fill="#444444"/><rect x="11.2" y="1.6" width="1.68" height="1.68" fill="#444444"/><rect x="0" y="3.2" width="3.28" height="1.68" fill="#5b5b5b"/><rect x="3.2" y="3.2" width="1.68" height="1.68" fill="#444444"/><rect x="9.6" y="3.2" width="3.28" height="1.68" fill="#7c5b44"/><rect x="12.8" y="3.2" width="1.68" height="1.68" fill="#5b5b5b"/><rect x="14.4" y="3.2" width="1.68" height="1.68" fill="#5b5b5b"/><rect x="0" y="4.8" width="1.68" height="1.68" fill="#5b5b5b"/><rect x="6.4" y="4.8" width="1.68" height="1.68" fill="#5b5b5b"/><rect x="8" y="4.8" width="1.68" height="1.68" fill="#444444"/><rect x="9.6" y="4.8" width="3.28" height="1.68" fill="#5b5b5b"/><rect x="12.8" y="4.8" width="1.68" height="1.68" fill="#444444"/><rect x="1.6" y="6.4" width="1.68" height="1.68" fill="#4a4a4a"/><rect x="6.4" y="6.4" width="1.68" height="1.68" fill="#4a4a4a"/><rect x="9.6" y="6.4" width="1.68" height="1.68" fill="#444444"/><rect x="11.2" y="6.4" width="3.28" height="1.68" fill="#5b5b5b"/><rect x="14.4" y="6.4" width="1.68" height="1.68" fill="#5b5b5b"/><rect x="0" y="8" width="1.68" height="1.68" fill="#444444"/><rect x="4.8" y="8" width="1.68" height="1.68" fill="#5b5b5b"/><rect x="6.4" y="8" width="1.68" height="1.68" fill="#99765a"/><rect x="8" y="8" width="3.28" height="1.68" fill="#444444"/><rect x="0" y="9.6" width="1.68" height="1.68" fill="#7c5b44"/><rect x="6.4" y="9.6" width="3.28" height="1.68" fill="#444444"/><rect x="9.6" y="9.6" width="1.68" height="1.68" fill="#5b5b5b"/><rect x="11.2" y="9.6" width="3.28" height="1.68" fill="#99765a"/><rect x="14.4" y="9.6" width="1.68" height="1.68" fill="#5b5b5b"/><rect x="1.6" y="11.2" width="3.28" height="1.68" fill="#99765a"/><rect x="4.8" y="11.2" width="1.68" height="1.68" fill="#444444"/><rect x="6.4" y="11.2" width="3.28" height="1.68" fill="#4a4a4a"/><rect x="14.4" y="11.2" width="1.68" height="1.68" fill="#7c5b44"/><rect x="0" y="12.8" width="1.68" height="1.68" fill="#99765a"/><rect x="8" y="12.8" width="3.28" height="1.68" fill="#4a4a4a"/><rect x="11.2" y="12.8" width="1.68" height="1.68" fill="#5b5b5b"/><rect x="0" y="14.4" width="1.68" height="1.68" fill="#99765a"/><rect x="9.6" y="14.4" width="1.68" height="1.68" fill="#4a4a4a"/></g></g>
<g id="i-ingot"><rect x="5.84" y="-16.32" width="8.41" height="3.17" fill="#585858"/><rect x="-2.32" y="-13.6" width="8.41" height="3.17" fill="#585858"/><rect x="5.84" y="-13.6" width="8.41" height="3.17" fill="#dcdcdc"/><rect x="14" y="-13.6" width="2.97" height="3.17" fill="#7c7c7c"/><rect x="-10.48" y="-10.88" width="8.41" height="3.17" fill="#585858"/><rect x="-2.32" y="-10.88" width="19.29" height="3.17" fill="#dcdcdc"/><rect x="16.72" y="-10.88" width="2.97" height="3.17" fill="#7c7c7c"/><rect x="-18.64" y="-8.16" width="8.41" height="3.17" fill="#585858"/><rect x="-10.48" y="-8.16" width="27.45" height="3.17" fill="#dcdcdc"/><rect x="16.72" y="-8.16" width="2.97" height="3.17" fill="#7c7c7c"/><rect x="-18.64" y="-5.44" width="13.85" height="3.17" fill="#ffffff"/><rect x="-5.04" y="-5.44" width="16.57" height="3.17" fill="#dcdcdc"/><rect x="11.28" y="-5.44" width="5.69" height="3.17" fill="#ffffff"/><rect x="16.72" y="-5.44" width="2.97" height="3.17" fill="#7c7c7c"/><rect x="-18.64" y="-2.72" width="2.97" height="3.17" fill="#ababab"/><rect x="-15.92" y="-2.72" width="5.69" height="3.17" fill="#ffffff"/><rect x="-10.48" y="-2.72" width="13.85" height="3.17" fill="#dcdcdc"/><rect x="3.12" y="-2.72" width="11.13" height="3.17" fill="#ffffff"/><rect x="14" y="-2.72" width="2.97" height="3.17" fill="#ababab"/><rect x="16.72" y="-2.72" width="2.97" height="3.17" fill="#7c7c7c"/><rect x="-18.64" y="0" width="5.69" height="3.17" fill="#ababab"/><rect x="-13.2" y="0" width="19.29" height="3.17" fill="#ffffff"/><rect x="5.84" y="0" width="11.13" height="3.17" fill="#ababab"/><rect x="16.72" y="0" width="2.97" height="3.17" fill="#7c7c7c"/><rect x="-18.64" y="2.72" width="8.41" height="3.17" fill="#ababab"/><rect x="-10.48" y="2.72" width="5.69" height="3.17" fill="#ffffff"/><rect x="-5.04" y="2.72" width="11.13" height="3.17" fill="#ababab"/><rect x="5.84" y="2.72" width="8.41" height="3.17" fill="#7c7c7c"/><rect x="14" y="2.72" width="5.69" height="2.82" fill="#585858"/><rect x="-18.64" y="5.44" width="2.97" height="2.82" fill="#7c7c7c"/><rect x="-15.92" y="5.44" width="5.69" height="3.17" fill="#ababab"/><rect x="-10.48" y="5.44" width="2.97" height="3.17" fill="#ffffff"/><rect x="-7.76" y="5.44" width="13.85" height="3.17" fill="#ababab"/><rect x="5.84" y="5.44" width="8.41" height="3.17" fill="#585858"/><rect x="-15.92" y="8.16" width="5.69" height="3.17" fill="#7c7c7c"/><rect x="-10.48" y="8.16" width="2.97" height="3.17" fill="#ababab"/><rect x="-7.76" y="8.16" width="2.97" height="3.17" fill="#ffffff"/><rect x="-5.04" y="8.16" width="2.97" height="3.17" fill="#ababab"/><rect x="-2.32" y="8.16" width="8.41" height="3.17" fill="#7c7c7c"/><rect x="5.84" y="8.16" width="5.69" height="2.82" fill="#585858"/><rect x="-15.92" y="10.88" width="13.85" height="3.17" fill="#7c7c7c"/><rect x="-2.32" y="10.88" width="8.41" height="2.82" fill="#585858"/><rect x="-13.2" y="13.6" width="11.13" height="2.82" fill="#585858"/></g>
<g id="i-ipick"><rect x="-5.2" y="-15.92" width="13.65" height="3.13" fill="#14141c"/><rect x="-7.88" y="-13.24" width="2.93" height="2.78" fill="#14141c"/><rect x="-5.2" y="-13.24" width="13.65" height="3.13" fill="#ffffff"/><rect x="8.2" y="-13.24" width="5.61" height="3.13" fill="#14141c"/><rect x="-5.2" y="-10.56" width="8.29" height="2.78" fill="#14141c"/><rect x="2.84" y="-10.56" width="5.61" height="3.13" fill="#c9c9c9"/><rect x="8.2" y="-10.56" width="5.61" height="3.13" fill="#5f461a"/><rect x="13.56" y="-10.56" width="2.93" height="3.13" fill="#14141c"/><rect x="5.52" y="-7.88" width="2.93" height="3.13" fill="#7d5e27"/><rect x="8.2" y="-7.88" width="2.93" height="3.13" fill="#5f461a"/><rect x="10.88" y="-7.88" width="2.93" height="3.13" fill="#c9c9c9"/><rect x="13.56" y="-7.88" width="2.93" height="3.13" fill="#ffffff"/><rect x="16.24" y="-7.88" width="2.93" height="3.13" fill="#14141c"/><rect x="2.84" y="-5.2" width="2.93" height="3.13" fill="#7d5e27"/><rect x="5.52" y="-5.2" width="2.93" height="3.13" fill="#33240a"/><rect x="8.2" y="-5.2" width="2.93" height="2.78" fill="#14141c"/><rect x="10.88" y="-5.2" width="2.93" height="3.13" fill="#5f461a"/><rect x="13.56" y="-5.2" width="2.93" height="3.13" fill="#ffffff"/><rect x="16.24" y="-5.2" width="2.93" height="3.13" fill="#14141c"/><rect x="0.16" y="-2.52" width="2.93" height="3.13" fill="#2a1d08"/><rect x="2.84" y="-2.52" width="2.93" height="3.13" fill="#7d5e27"/><rect x="5.52" y="-2.52" width="2.93" height="2.78" fill="#33240a"/><rect x="10.88" y="-2.52" width="2.93" height="3.13" fill="#14141c"/><rect x="13.56" y="-2.52" width="2.93" height="3.13" fill="#ffffff"/><rect x="16.24" y="-2.52" width="2.93" height="3.13" fill="#14141c"/><rect x="-2.52" y="0.16" width="2.93" height="3.13" fill="#2a1d08"/><rect x="0.16" y="0.16" width="2.93" height="3.13" fill="#7d5e27"/><rect x="2.84" y="0.16" width="2.93" height="2.78" fill="#33240a"/><rect x="10.88" y="0.16" width="2.93" height="3.13" fill="#14141c"/><rect x="13.56" y="0.16" width="2.93" height="3.13" fill="#ffffff"/><rect x="16.24" y="0.16" width="2.93" height="3.13" fill="#14141c"/><rect x="-5.2" y="2.84" width="2.93" height="3.13" fill="#2a1d08"/><rect x="-2.52" y="2.84" width="2.93" height="3.13" fill="#7d5e27"/><rect x="0.16" y="2.84" width="2.93" height="2.78" fill="#33240a"/><rect x="10.88" y="2.84" width="2.93" height="3.13" fill="#14141c"/><rect x="13.56" y="2.84" width="2.93" height="3.13" fill="#ffffff"/><rect x="16.24" y="2.84" width="2.93" height="3.13" fill="#14141c"/><rect x="-7.88" y="5.52" width="2.93" height="3.13" fill="#2a1d08"/><rect x="-5.2" y="5.52" width="2.93" height="3.13" fill="#7d5e27"/><rect x="-2.52" y="5.52" width="2.93" height="2.78" fill="#33240a"/><rect x="10.88" y="5.52" width="2.93" height="2.78" fill="#14141c"/><rect x="13.56" y="5.52" width="2.93" height="3.13" fill="#ffffff"/><rect x="16.24" y="5.52" width="2.93" height="2.78" fill="#14141c"/><rect x="-10.56" y="8.2" width="2.93" height="3.13" fill="#2a1d08"/><rect x="-7.88" y="8.2" width="2.93" height="3.13" fill="#7d5e27"/><rect x="-5.2" y="8.2" width="2.93" height="2.78" fill="#33240a"/><rect x="13.56" y="8.2" width="2.93" height="2.78" fill="#14141c"/><rect x="-13.24" y="10.88" width="2.93" height="3.13" fill="#2a1d08"/><rect x="-10.56" y="10.88" width="2.93" height="3.13" fill="#7d5e27"/><rect x="-7.88" y="10.88" width="2.93" height="2.78" fill="#33240a"/><rect x="-15.92" y="13.56" width="2.93" height="3.13" fill="#2a1d08"/><rect x="-13.24" y="13.56" width="2.93" height="3.13" fill="#7d5e27"/><rect x="-10.56" y="13.56" width="2.93" height="2.78" fill="#33240a"/><rect x="-15.92" y="16.24" width="5.61" height="2.78" fill="#2a1d08"/></g>
<g id="i-diamond"><rect x="-5.64" y="-16.28" width="11.13" height="3.17" fill="#0c6b62"/><rect x="-8.36" y="-13.56" width="2.97" height="3.17" fill="#0c6b62"/><rect x="-5.64" y="-13.56" width="8.41" height="3.17" fill="#e4fffa"/><rect x="2.52" y="-13.56" width="2.97" height="3.17" fill="#9cf3e7"/><rect x="5.24" y="-13.56" width="2.97" height="3.17" fill="#0c6b62"/><rect x="-11.08" y="-10.84" width="2.97" height="3.17" fill="#0c6b62"/><rect x="-8.36" y="-10.84" width="2.97" height="3.17" fill="#e4fffa"/><rect x="-5.64" y="-10.84" width="2.97" height="3.17" fill="#4fdccd"/><rect x="-2.92" y="-10.84" width="8.41" height="3.17" fill="#9cf3e7"/><rect x="5.24" y="-10.84" width="2.97" height="3.17" fill="#4fdccd"/><rect x="7.96" y="-10.84" width="2.97" height="3.17" fill="#0c6b62"/><rect x="-13.8" y="-8.12" width="2.97" height="3.17" fill="#0c6b62"/><rect x="-11.08" y="-8.12" width="2.97" height="3.17" fill="#e4fffa"/><rect x="-8.36" y="-8.12" width="2.97" height="3.17" fill="#4fdccd"/><rect x="-5.64" y="-8.12" width="11.13" height="3.17" fill="#9cf3e7"/><rect x="5.24" y="-8.12" width="2.97" height="3.17" fill="#4fdccd"/><rect x="7.96" y="-8.12" width="2.97" height="3.17" fill="#27bfb1"/><rect x="10.68" y="-8.12" width="2.97" height="3.17" fill="#0c6b62"/><rect x="-13.8" y="-5.4" width="2.97" height="3.17" fill="#0c6b62"/><rect x="-11.08" y="-5.4" width="2.97" height="3.17" fill="#e4fffa"/><rect x="-8.36" y="-5.4" width="2.97" height="3.17" fill="#4fdccd"/><rect x="-5.64" y="-5.4" width="5.69" height="3.17" fill="#9cf3e7"/><rect x="-0.2" y="-5.4" width="2.97" height="3.17" fill="#e4fffa"/><rect x="2.52" y="-5.4" width="2.97" height="3.17" fill="#9cf3e7"/><rect x="5.24" y="-5.4" width="2.97" height="3.17" fill="#4fdccd"/><rect x="7.96" y="-5.4" width="2.97" height="3.17" fill="#27bfb1"/><rect x="10.68" y="-5.4" width="2.97" height="3.17" fill="#0c6b62"/><rect x="-16.52" y="-2.68" width="2.97" height="3.17" fill="#0c6b62"/><rect x="-13.8" y="-2.68" width="5.69" height="3.17" fill="#e4fffa"/><rect x="-8.36" y="-2.68" width="2.97" height="3.17" fill="#4fdccd"/><rect x="-5.64" y="-2.68" width="11.13" height="3.17" fill="#9cf3e7"/><rect x="5.24" y="-2.68" width="2.97" height="3.17" fill="#4fdccd"/><rect x="7.96" y="-2.68" width="5.69" height="3.17" fill="#27bfb1"/><rect x="13.4" y="-2.68" width="2.97" height="3.17" fill="#0c6b62"/><rect x="-16.52" y="0.04" width="2.97" height="3.17" fill="#0c6b62"/><rect x="-13.8" y="0.04" width="2.97" height="3.17" fill="#e4fffa"/><rect x="-11.08" y="0.04" width="5.69" height="3.17" fill="#4fdccd"/><rect x="-5.64" y="0.04" width="11.13" height="3.17" fill="#9cf3e7"/><rect x="5.24" y="0.04" width="8.41" height="3.17" fill="#27bfb1"/><rect x="13.4" y="0.04" width="2.97" height="3.17" fill="#0c6b62"/><rect x="-16.52" y="2.76" width="2.97" height="3.17" fill="#0c6b62"/><rect x="-13.8" y="2.76" width="5.69" height="3.17" fill="#e4fffa"/><rect x="-8.36" y="2.76" width="2.97" height="3.17" fill="#4fdccd"/><rect x="-5.64" y="2.76" width="11.13" height="3.17" fill="#9cf3e7"/><rect x="5.24" y="2.76" width="8.41" height="3.17" fill="#27bfb1"/><rect x="13.4" y="2.76" width="2.97" height="3.17" fill="#0c6b62"/><rect x="-16.52" y="5.48" width="2.97" height="2.82" fill="#0c6b62"/><rect x="-13.8" y="5.48" width="2.97" height="3.17" fill="#4fdccd"/><rect x="-11.08" y="5.48" width="2.97" height="3.17" fill="#e4fffa"/><rect x="-8.36" y="5.48" width="2.97" height="3.17" fill="#4fdccd"/><rect x="-5.64" y="5.48" width="19.29" height="3.17" fill="#27bfb1"/><rect x="13.4" y="5.48" width="2.97" height="2.82" fill="#0c6b62"/><rect x="-13.8" y="8.2" width="2.97" height="3.17" fill="#0c6b62"/><rect x="-11.08" y="8.2" width="5.69" height="3.17" fill="#4fdccd"/><rect x="-5.64" y="8.2" width="13.85" height="3.17" fill="#27bfb1"/><rect x="7.96" y="8.2" width="2.97" height="3.17" fill="#9cf3e7"/><rect x="10.68" y="8.2" width="2.97" height="3.17" fill="#0c6b62"/><rect x="-13.8" y="10.92" width="5.69" height="3.17" fill="#0c6b62"/><rect x="-8.36" y="10.92" width="16.57" height="3.17" fill="#27bfb1"/><rect x="7.96" y="10.92" width="5.69" height="3.17" fill="#0c6b62"/><rect x="-11.08" y="13.64" width="5.69" height="3.17" fill="#0c6b62"/><rect x="-5.64" y="13.64" width="2.97" height="3.17" fill="#4fdccd"/><rect x="-2.92" y="13.64" width="8.41" height="3.17" fill="#9cf3e7"/><rect x="5.24" y="13.64" width="2.97" height="3.17" fill="#27bfb1"/><rect x="7.96" y="13.64" width="2.97" height="2.82" fill="#0c6b62"/><rect x="-8.36" y="16.36" width="16.57" height="2.82" fill="#0c6b62"/></g>
<g id="i-dpick"><rect x="-5.2" y="-15.92" width="13.65" height="3.13" fill="#0a2b33"/><rect x="-7.88" y="-13.24" width="2.93" height="2.78" fill="#0a2b33"/><rect x="-5.2" y="-13.24" width="13.65" height="3.13" fill="#3be0cf"/><rect x="8.2" y="-13.24" width="5.61" height="3.13" fill="#0a2b33"/><rect x="-5.2" y="-10.56" width="8.29" height="2.78" fill="#0a2b33"/><rect x="2.84" y="-10.56" width="5.61" height="3.13" fill="#20a99b"/><rect x="8.2" y="-10.56" width="5.61" height="3.13" fill="#5f461a"/><rect x="13.56" y="-10.56" width="2.93" height="3.13" fill="#0a2b33"/><rect x="5.52" y="-7.88" width="2.93" height="3.13" fill="#7d5e27"/><rect x="8.2" y="-7.88" width="2.93" height="3.13" fill="#5f461a"/><rect x="10.88" y="-7.88" width="2.93" height="3.13" fill="#20a99b"/><rect x="13.56" y="-7.88" width="2.93" height="3.13" fill="#3be0cf"/><rect x="16.24" y="-7.88" width="2.93" height="3.13" fill="#0a2b33"/><rect x="2.84" y="-5.2" width="2.93" height="3.13" fill="#7d5e27"/><rect x="5.52" y="-5.2" width="2.93" height="3.13" fill="#33240a"/><rect x="8.2" y="-5.2" width="2.93" height="2.78" fill="#0a2b33"/><rect x="10.88" y="-5.2" width="2.93" height="3.13" fill="#5f461a"/><rect x="13.56" y="-5.2" width="2.93" height="3.13" fill="#3be0cf"/><rect x="16.24" y="-5.2" width="2.93" height="3.13" fill="#0a2b33"/><rect x="0.16" y="-2.52" width="2.93" height="3.13" fill="#2a1d08"/><rect x="2.84" y="-2.52" width="2.93" height="3.13" fill="#7d5e27"/><rect x="5.52" y="-2.52" width="2.93" height="2.78" fill="#33240a"/><rect x="10.88" y="-2.52" width="2.93" height="3.13" fill="#0a2b33"/><rect x="13.56" y="-2.52" width="2.93" height="3.13" fill="#3be0cf"/><rect x="16.24" y="-2.52" width="2.93" height="3.13" fill="#0a2b33"/><rect x="-2.52" y="0.16" width="2.93" height="3.13" fill="#2a1d08"/><rect x="0.16" y="0.16" width="2.93" height="3.13" fill="#7d5e27"/><rect x="2.84" y="0.16" width="2.93" height="2.78" fill="#33240a"/><rect x="10.88" y="0.16" width="2.93" height="3.13" fill="#0a2b33"/><rect x="13.56" y="0.16" width="2.93" height="3.13" fill="#3be0cf"/><rect x="16.24" y="0.16" width="2.93" height="3.13" fill="#0a2b33"/><rect x="-5.2" y="2.84" width="2.93" height="3.13" fill="#2a1d08"/><rect x="-2.52" y="2.84" width="2.93" height="3.13" fill="#7d5e27"/><rect x="0.16" y="2.84" width="2.93" height="2.78" fill="#33240a"/><rect x="10.88" y="2.84" width="2.93" height="3.13" fill="#0a2b33"/><rect x="13.56" y="2.84" width="2.93" height="3.13" fill="#3be0cf"/><rect x="16.24" y="2.84" width="2.93" height="3.13" fill="#0a2b33"/><rect x="-7.88" y="5.52" width="2.93" height="3.13" fill="#2a1d08"/><rect x="-5.2" y="5.52" width="2.93" height="3.13" fill="#7d5e27"/><rect x="-2.52" y="5.52" width="2.93" height="2.78" fill="#33240a"/><rect x="10.88" y="5.52" width="2.93" height="2.78" fill="#0a2b33"/><rect x="13.56" y="5.52" width="2.93" height="3.13" fill="#3be0cf"/><rect x="16.24" y="5.52" width="2.93" height="2.78" fill="#0a2b33"/><rect x="-10.56" y="8.2" width="2.93" height="3.13" fill="#2a1d08"/><rect x="-7.88" y="8.2" width="2.93" height="3.13" fill="#7d5e27"/><rect x="-5.2" y="8.2" width="2.93" height="2.78" fill="#33240a"/><rect x="13.56" y="8.2" width="2.93" height="2.78" fill="#0a2b33"/><rect x="-13.24" y="10.88" width="2.93" height="3.13" fill="#2a1d08"/><rect x="-10.56" y="10.88" width="2.93" height="3.13" fill="#7d5e27"/><rect x="-7.88" y="10.88" width="2.93" height="2.78" fill="#33240a"/><rect x="-15.92" y="13.56" width="2.93" height="3.13" fill="#2a1d08"/><rect x="-13.24" y="13.56" width="2.93" height="3.13" fill="#7d5e27"/><rect x="-10.56" y="13.56" width="2.93" height="2.78" fill="#33240a"/><rect x="-15.92" y="16.24" width="5.61" height="2.78" fill="#2a1d08"/></g>
</defs>
<rect width="1920" height="669" fill="#ffffff"/>
<rect x="129.3" y="57.5" width="819.5" height="244.1" fill="#f6f7f7"/>
<path d="M246.37 57.5V301.6M363.44 57.5V301.6M480.51 57.5V301.6M597.59 57.5V301.6M714.66 57.5V301.6M831.73 57.5V301.6M129.3 290.6H948.8M129.3 247.58H948.8M129.3 204.56H948.8M129.3 161.54H948.8M129.3 118.52H948.8M129.3 75.5H948.8" stroke="#e3e4e7" stroke-width="1.1" fill="none"/>
<g clip-path="url(#ca)">
<polyline points="129.3,284.66 149.79,279.93 170.28,272.7 190.76,256.96 211.25,262.21 231.74,258.51 252.23,256.96 272.71,257.39 293.2,257.9 313.69,260.66 334.18,256.96 354.66,256.79 375.15,256.96 395.64,261.78 416.12,271.15 436.61,260.23 457.1,261.78 477.59,256.79 498.07,256.79 518.56,267.2 539.05,265.05 559.54,256.36 580.03,256.96 600.51,259.2 621,260.06 641.49,260.06 661.97,263.5 682.46,260.23 702.95,256.53 723.44,257.39 743.92,256.96 764.41,256.53 784.9,256.36 805.39,256.79 825.88,257.39 846.36,256.96 866.85,256.53 887.34,256.53 907.83,256.53 928.31,256.53 948.8,256.53" fill="none" stroke="#b855d8" stroke-opacity="0.06" stroke-width="4.25" stroke-linejoin="round"/><polyline points="129.3,284.66 149.79,279.93 170.28,272.7 190.76,256.96 211.25,262.21 231.74,258.51 252.23,256.96 272.71,257.39 293.2,257.9 313.69,260.66 334.18,256.96 354.66,256.79 375.15,256.96 395.64,261.78 416.12,271.15 436.61,260.23 457.1,261.78 477.59,256.79 498.07,256.79 518.56,267.2 539.05,265.05 559.54,256.36 580.03,256.96 600.51,259.2 621,260.06 641.49,260.06 661.97,263.5 682.46,260.23 702.95,256.53 723.44,257.39 743.92,256.96 764.41,256.53 784.9,256.36 805.39,256.79 825.88,257.39 846.36,256.96 866.85,256.53 887.34,256.53 907.83,256.53 928.31,256.53 948.8,256.53" fill="none" stroke="#b855d8" stroke-width="3.05" stroke-dasharray="9.15 3.05 3.05 3.05 3.05 3.05" stroke-linejoin="round"/>
<polyline points="129.3,283.63 149.79,270.47 170.28,261.09 190.76,255.67 211.25,251.97 231.74,245.86 252.23,237.77 272.71,234.07 293.2,225.3 313.69,221.34 334.18,215.92 354.66,214.88 375.15,213.34 395.64,204.99 416.12,202.15 436.61,202.15 457.1,198.54 477.59,196.3 498.07,193.37 518.56,190.79 539.05,188.64 559.54,189.42 580.03,184.6 600.51,181.93 621,188.3 641.49,187.18 661.97,187.18 682.46,186.15 702.95,186.15 723.44,188.3 743.92,182.36 764.41,183.05 784.9,182.36 805.39,183.91 825.88,181.93 846.36,182.36 866.85,186.15 887.34,169.89 907.83,170.32 928.31,185.72 948.8,181.93" fill="none" stroke="#86d06e" stroke-opacity="0.12" stroke-width="4.25" stroke-linejoin="round"/><polyline points="129.3,283.63 149.79,270.47 170.28,261.09 190.76,255.67 211.25,251.97 231.74,245.86 252.23,237.77 272.71,234.07 293.2,225.3 313.69,221.34 334.18,215.92 354.66,214.88 375.15,213.34 395.64,204.99 416.12,202.15 436.61,202.15 457.1,198.54 477.59,196.3 498.07,193.37 518.56,190.79 539.05,188.64 559.54,189.42 580.03,184.6 600.51,181.93 621,188.3 641.49,187.18 661.97,187.18 682.46,186.15 702.95,186.15 723.44,188.3 743.92,182.36 764.41,183.05 784.9,182.36 805.39,183.91 825.88,181.93 846.36,182.36 866.85,186.15 887.34,169.89 907.83,170.32 928.31,185.72 948.8,181.93" fill="none" stroke="#86d06e" stroke-width="3.05" stroke-dasharray="11.29 4.88" stroke-linejoin="round"/>
<polyline points="129.3,283.63 149.79,275.97 170.28,261.09 190.76,248.7 211.25,242.76 231.74,240.35 252.23,229 272.71,207.14 293.2,223.57 313.69,204.99 334.18,191.91 354.66,189.93 375.15,185.98 395.64,185.98 416.12,183.14 436.61,169.28 457.1,153.8 477.59,139.6 498.07,133.66 518.56,131.25 539.05,124.2 559.54,118.09 580.03,139.17 600.51,125.75 621,130.39 641.49,130.82 661.97,129.28 682.46,115.42 702.95,98.3 723.44,95.29 743.92,89.09 764.41,102.69 784.9,101.66 805.39,108.45 825.88,109.31 846.36,107.77 866.85,90.21 887.34,80.32 907.83,70.85 928.31,78.6 948.8,76.36" fill="none" stroke="#c4383f" stroke-opacity="0.24" stroke-width="4.25" stroke-linejoin="round"/><polyline points="129.3,283.63 149.79,275.97 170.28,261.09 190.76,248.7 211.25,242.76 231.74,240.35 252.23,229 272.71,207.14 293.2,223.57 313.69,204.99 334.18,191.91 354.66,189.93 375.15,185.98 395.64,185.98 416.12,183.14 436.61,169.28 457.1,153.8 477.59,139.6 498.07,133.66 518.56,131.25 539.05,124.2 559.54,118.09 580.03,139.17 600.51,125.75 621,130.39 641.49,130.82 661.97,129.28 682.46,115.42 702.95,98.3 723.44,95.29 743.92,89.09 764.41,102.69 784.9,101.66 805.39,108.45 825.88,109.31 846.36,107.77 866.85,90.21 887.34,80.32 907.83,70.85 928.31,78.6 948.8,76.36" fill="none" stroke="#c4383f" stroke-width="3.05" stroke-dasharray="19.52 4.88 3.05 4.88" stroke-linejoin="round"/>
<polyline points="129.3,290.6 149.79,290.6 170.28,290.6 190.76,290.6 211.25,290.6 231.74,290.6 252.23,290.6 272.71,290.6 293.2,290.6 313.69,290.6 334.18,290.6 354.66,290.6 375.15,290.6 395.64,290.6 416.12,290.6 436.61,290.6 457.1,290.6 477.59,290.6 498.07,290.6 518.56,290.6 539.05,290.6 559.54,290.6 580.03,290.6 600.51,290.6 621,290.6 641.49,290.6 661.97,290.6 682.46,290.6 702.95,290.6 723.44,290.6 743.92,290.6 764.41,290.6 784.9,290.6 805.39,290.6 825.88,290.6 846.36,290.6 866.85,290.6 887.34,290.6 907.83,290.6 928.31,290.6 948.8,290.6" fill="none" stroke="#5fa4da" stroke-width="3.05" stroke-linejoin="round"/>
</g>
<path d="M129.3 57.5H948.8V301.6" fill="none" stroke="#e4e5e8" stroke-width="1.1"/>
<path d="M129.3 57.5V301.6H948.8" fill="none" stroke="#d3d4d7" stroke-width="1.2"/>
<path d="M115.1 290.6H129.3M115.1 247.58H129.3M115.1 204.56H129.3M115.1 161.54H129.3M115.1 118.52H129.3M115.1 75.5H129.3" stroke="#7a7a7e" stroke-width="1.3" fill="none"/>
<text x="104.1" y="297.9" text-anchor="end" font-family="'Liberation Sans', sans-serif" font-size="21.5" fill="#4d4d56">0</text>
<text x="104.1" y="254.88" text-anchor="end" font-family="'Liberation Sans', sans-serif" font-size="21.5" fill="#4d4d56">5</text>
<text x="104.1" y="211.86" text-anchor="end" font-family="'Liberation Sans', sans-serif" font-size="21.5" fill="#4d4d56">10</text>
<text x="104.1" y="168.84" text-anchor="end" font-family="'Liberation Sans', sans-serif" font-size="21.5" fill="#4d4d56">15</text>
<text x="104.1" y="125.82" text-anchor="end" font-family="'Liberation Sans', sans-serif" font-size="21.5" fill="#4d4d56">20</text>
<text x="104.1" y="82.8" text-anchor="end" font-family="'Liberation Sans', sans-serif" font-size="21.5" fill="#4d4d56">25</text>
<text transform="translate(64.5 179.55) rotate(-90)" text-anchor="middle" textLength="89.2" lengthAdjust="spacingAndGlyphs" font-family="'Liberation Sans', sans-serif" font-size="24.5" fill="#4d4d56">Reward</text>
<rect x="140.8" y="68.6" width="368.2" height="131.9" rx="3.5" fill="#f6f7f7" fill-opacity="0.82" stroke="#d6d7da" stroke-width="1.1"/>
<path d="M148.6 85.5H192.8" stroke="#5fa4da" stroke-width="3.2" fill="none"/>
<text x="210.1" y="93.1" font-family="'DejaVu Sans', 'Liberation Sans', sans-serif" font-size="21.4" fill="#111">RL from Rand. Init. model</text>
<path d="M148.6 117.2H192.8" stroke="#86d06e" stroke-width="3.2" stroke-dasharray="11.84 5.12" fill="none"/>
<text x="210.1" y="124.8" font-family="'DejaVu Sans', 'Liberation Sans', sans-serif" font-size="21.4" fill="#111">RL from VPT Found. model</text>
<path d="M148.6 148.9H192.8" stroke="#c4383f" stroke-width="3.2" stroke-dasharray="20.48 5.12 3.2 5.12" fill="none"/>
<text x="210.1" y="156.5" font-family="'DejaVu Sans', 'Liberation Sans', sans-serif" font-size="21.4" fill="#111">RL from Early-Game model</text>
<path d="M148.6 180.6H192.8" stroke="#b855d8" stroke-width="3.2" stroke-dasharray="9.6 3.2 3.2 3.2 3.2 3.2" fill="none"/>
<text x="210.1" y="188.2" font-family="'DejaVu Sans', 'Liberation Sans', sans-serif" font-size="21.4" fill="#111">No KL-loss</text>
<text x="539.4" y="51.4" text-anchor="middle" textLength="273.6" lengthAdjust="spacingAndGlyphs" font-family="'Liberation Sans', sans-serif" font-weight="bold" font-size="25" fill="#454552">Reward over episodes</text>
<text x="33.3" y="51.7" textLength="32.1" lengthAdjust="spacingAndGlyphs" font-family="'Liberation Serif', serif" font-weight="bold" font-size="27.8" fill="#111">(a)</text>
<rect x="1078.8" y="57.4" width="819.4" height="243.8" fill="#f6f7f7"/>
<path d="M1195.86 57.4V301.2M1312.91 57.4V301.2M1429.97 57.4V301.2M1547.03 57.4V301.2M1664.09 57.4V301.2M1781.14 57.4V301.2M1078.8 277.3H1898.2M1078.8 238.2H1898.2M1078.8 199.1H1898.2M1078.8 160H1898.2M1078.8 120.9H1898.2M1078.8 81.8H1898.2" stroke="#e3e4e7" stroke-width="1.1" fill="none"/>
<g clip-path="url(#cb)">
<polyline points="1078.8,277.3 1099.28,277.3 1119.77,277.3 1140.25,277.3 1160.74,277.3 1181.22,277.3 1201.71,277.3 1222.19,277.3 1242.68,277.3 1263.16,277.3 1283.65,277.3 1304.13,277.3 1324.62,277.3 1345.11,277.3 1365.59,277.3 1386.08,277.3 1406.56,277.3 1427.05,277.3 1447.53,277.3 1468.01,277.3 1488.5,277.3 1508.99,277.3 1529.47,277.3 1549.95,277.3 1570.44,277.3 1590.93,277.3 1611.41,277.3 1631.89,277.3 1652.38,277.3 1672.87,277.3 1693.35,277.3 1713.84,277.3 1734.32,277.3 1754.81,277.3 1775.29,277.3 1795.78,277.3 1816.26,277.3 1836.74,277.3 1857.23,277.3 1877.72,277.3 1898.2,277.3" fill="none" stroke="#ffffff" stroke-opacity="0.55" stroke-width="4.35" stroke-linejoin="round"/><polyline points="1078.8,277.3 1099.28,277.3 1119.77,277.3 1140.25,277.3 1160.74,277.3 1181.22,277.3 1201.71,277.3 1222.19,277.3 1242.68,277.3 1263.16,277.3 1283.65,277.3 1304.13,277.3 1324.62,277.3 1345.11,277.3 1365.59,277.3 1386.08,277.3 1406.56,277.3 1427.05,277.3 1447.53,277.3 1468.01,277.3 1488.5,277.3 1508.99,277.3 1529.47,277.3 1549.95,277.3 1570.44,277.3 1590.93,277.3 1611.41,277.3 1631.89,277.3 1652.38,277.3 1672.87,277.3 1693.35,277.3 1713.84,277.3 1734.32,277.3 1754.81,277.3 1775.29,277.3 1795.78,277.3 1816.26,277.3 1836.74,277.3 1857.23,277.3 1877.72,277.3 1898.2,277.3" fill="none" stroke="#c4383f" stroke-opacity="0.16" stroke-width="4.15" stroke-linejoin="round"/><polyline points="1078.8,277.3 1099.28,277.3 1119.77,277.3 1140.25,277.3 1160.74,277.3 1181.22,277.3 1201.71,277.3 1222.19,277.3 1242.68,277.3 1263.16,277.3 1283.65,277.3 1304.13,277.3 1324.62,277.3 1345.11,277.3 1365.59,277.3 1386.08,277.3 1406.56,277.3 1427.05,277.3 1447.53,277.3 1468.01,277.3 1488.5,277.3 1508.99,277.3 1529.47,277.3 1549.95,277.3 1570.44,277.3 1590.93,277.3 1611.41,277.3 1631.89,277.3 1652.38,277.3 1672.87,277.3 1693.35,277.3 1713.84,277.3 1734.32,277.3 1754.81,277.3 1775.29,277.3 1795.78,277.3 1816.26,277.3 1836.74,277.3 1857.23,277.3 1877.72,277.3 1898.2,277.3" fill="none" stroke="#c4383f" stroke-width="2.95" stroke-dasharray="8.85 2.95 2.95 2.95 2.95 2.95" stroke-linejoin="round"/>
<polyline points="1078.8,277.3 1099.28,277.3 1119.77,277.3 1140.25,277.3 1160.74,277.3 1181.22,277.3 1201.71,277.3 1222.19,277.3 1242.68,277.3 1263.16,277.3 1283.65,277.3 1304.13,277.3 1324.62,277.3 1345.11,277.3 1365.59,277.3 1386.08,277.3 1406.56,277.3 1427.05,277.3 1447.53,277.3 1468.01,277.3 1488.5,277.3 1508.99,277.3 1529.47,277.3 1549.95,277.3 1570.44,277.3 1590.93,277.3 1611.41,277.3 1631.89,277.3 1652.38,277.3 1672.87,277.3 1693.35,277.3 1713.84,277.3 1734.32,277.3 1754.81,277.3 1775.29,277.3 1795.78,277.3 1816.26,277.3 1836.74,277.3 1857.23,277.3 1877.72,277.3 1898.2,277.3" fill="none" stroke="#ffffff" stroke-opacity="0.55" stroke-width="4.35" stroke-linejoin="round"/><polyline points="1078.8,277.3 1099.28,277.3 1119.77,277.3 1140.25,277.3 1160.74,277.3 1181.22,277.3 1201.71,277.3 1222.19,277.3 1242.68,277.3 1263.16,277.3 1283.65,277.3 1304.13,277.3 1324.62,277.3 1345.11,277.3 1365.59,277.3 1386.08,277.3 1406.56,277.3 1427.05,277.3 1447.53,277.3 1468.01,277.3 1488.5,277.3 1508.99,277.3 1529.47,277.3 1549.95,277.3 1570.44,277.3 1590.93,277.3 1611.41,277.3 1631.89,277.3 1652.38,277.3 1672.87,277.3 1693.35,277.3 1713.84,277.3 1734.32,277.3 1754.81,277.3 1775.29,277.3 1795.78,277.3 1816.26,277.3 1836.74,277.3 1857.23,277.3 1877.72,277.3 1898.2,277.3" fill="none" stroke="#86d06e" stroke-opacity="0.16" stroke-width="4.15" stroke-linejoin="round"/><polyline points="1078.8,277.3 1099.28,277.3 1119.77,277.3 1140.25,277.3 1160.74,277.3 1181.22,277.3 1201.71,277.3 1222.19,277.3 1242.68,277.3 1263.16,277.3 1283.65,277.3 1304.13,277.3 1324.62,277.3 1345.11,277.3 1365.59,277.3 1386.08,277.3 1406.56,277.3 1427.05,277.3 1447.53,277.3 1468.01,277.3 1488.5,277.3 1508.99,277.3 1529.47,277.3 1549.95,277.3 1570.44,277.3 1590.93,277.3 1611.41,277.3 1631.89,277.3 1652.38,277.3 1672.87,277.3 1693.35,277.3 1713.84,277.3 1734.32,277.3 1754.81,277.3 1775.29,277.3 1795.78,277.3 1816.26,277.3 1836.74,277.3 1857.23,277.3 1877.72,277.3 1898.2,277.3" fill="none" stroke="#86d06e" stroke-width="2.95" stroke-dasharray="8.85 2.95 2.95 2.95 2.95 2.95" stroke-linejoin="round"/>
<polyline points="1078.8,277.3 1099.28,277.3 1119.77,277.3 1140.25,277.3 1160.74,277.3 1181.22,277.3 1201.71,277.3 1222.19,277.3 1242.68,277.3 1263.16,277.3 1283.65,277.3 1304.13,277.3 1324.62,277.3 1345.11,277.3 1365.59,277.3 1386.08,277.3 1406.56,277.3 1427.05,277.3 1447.53,277.3 1468.01,277.3 1488.5,277.3 1508.99,277.3 1529.47,277.3 1549.95,277.3 1570.44,277.3 1590.93,277.3 1611.41,277.3 1631.89,277.3 1652.38,277.3 1672.87,277.3 1693.35,277.3 1713.84,277.3 1734.32,277.3 1754.81,277.3 1775.29,277.3 1795.78,277.3 1816.26,277.3 1836.74,277.3 1857.23,277.3 1877.72,277.3 1898.2,277.3" fill="none" stroke="#ffffff" stroke-opacity="0.55" stroke-width="4.35" stroke-linejoin="round"/><polyline points="1078.8,277.3 1099.28,277.3 1119.77,277.3 1140.25,277.3 1160.74,277.3 1181.22,277.3 1201.71,277.3 1222.19,277.3 1242.68,277.3 1263.16,277.3 1283.65,277.3 1304.13,277.3 1324.62,277.3 1345.11,277.3 1365.59,277.3 1386.08,277.3 1406.56,277.3 1427.05,277.3 1447.53,277.3 1468.01,277.3 1488.5,277.3 1508.99,277.3 1529.47,277.3 1549.95,277.3 1570.44,277.3 1590.93,277.3 1611.41,277.3 1631.89,277.3 1652.38,277.3 1672.87,277.3 1693.35,277.3 1713.84,277.3 1734.32,277.3 1754.81,277.3 1775.29,277.3 1795.78,277.3 1816.26,277.3 1836.74,277.3 1857.23,277.3 1877.72,277.3 1898.2,277.3" fill="none" stroke="#5fa4da" stroke-opacity="0.16" stroke-width="4.15" stroke-linejoin="round"/><polyline points="1078.8,277.3 1099.28,277.3 1119.77,277.3 1140.25,277.3 1160.74,277.3 1181.22,277.3 1201.71,277.3 1222.19,277.3 1242.68,277.3 1263.16,277.3 1283.65,277.3 1304.13,277.3 1324.62,277.3 1345.11,277.3 1365.59,277.3 1386.08,277.3 1406.56,277.3 1427.05,277.3 1447.53,277.3 1468.01,277.3 1488.5,277.3 1508.99,277.3 1529.47,277.3 1549.95,277.3 1570.44,277.3 1590.93,277.3 1611.41,277.3 1631.89,277.3 1652.38,277.3 1672.87,277.3 1693.35,277.3 1713.84,277.3 1734.32,277.3 1754.81,277.3 1775.29,277.3 1795.78,277.3 1816.26,277.3 1836.74,277.3 1857.23,277.3 1877.72,277.3 1898.2,277.3" fill="none" stroke="#5fa4da" stroke-width="2.95" stroke-dasharray="8.85 2.95 2.95 2.95 2.95 2.95" stroke-linejoin="round"/>
<polyline points="1078.8,277.3 1099.28,277.3 1119.77,277.3 1140.25,277.3 1160.74,277.3 1181.22,277.3 1201.71,277.3 1222.19,277.3 1242.68,277.3 1263.16,277.3 1283.65,277.3 1304.13,277.3 1324.62,277.3 1345.11,277.3 1365.59,277.3 1386.08,277.3 1406.56,277.3 1427.05,277.3 1447.53,277.3 1468.01,277.3 1488.5,277.3 1508.99,277.3 1529.47,277.3 1549.95,277.3 1570.44,277.3 1590.93,277.3 1611.41,277.3 1631.89,277.3 1652.38,277.3 1672.87,277.3 1693.35,277.3 1713.84,277.3 1734.32,277.3 1754.81,277.3 1775.29,277.3 1795.78,277.3 1816.26,277.3 1836.74,277.3 1857.23,277.3 1877.72,277.3 1898.2,277.3" fill="none" stroke="#ffffff" stroke-opacity="0.55" stroke-width="4.35" stroke-linejoin="round"/><polyline points="1078.8,277.3 1099.28,277.3 1119.77,277.3 1140.25,277.3 1160.74,277.3 1181.22,277.3 1201.71,277.3 1222.19,277.3 1242.68,277.3 1263.16,277.3 1283.65,277.3 1304.13,277.3 1324.62,277.3 1345.11,277.3 1365.59,277.3 1386.08,277.3 1406.56,277.3 1427.05,277.3 1447.53,277.3 1468.01,277.3 1488.5,277.3 1508.99,277.3 1529.47,277.3 1549.95,277.3 1570.44,277.3 1590.93,277.3 1611.41,277.3 1631.89,277.3 1652.38,277.3 1672.87,277.3 1693.35,277.3 1713.84,277.3 1734.32,277.3 1754.81,277.3 1775.29,277.3 1795.78,277.3 1816.26,277.3 1836.74,277.3 1857.23,277.3 1877.72,277.3 1898.2,277.3" fill="none" stroke="#111111" stroke-opacity="0.16" stroke-width="4.15" stroke-linejoin="round"/><polyline points="1078.8,277.3 1099.28,277.3 1119.77,277.3 1140.25,277.3 1160.74,277.3 1181.22,277.3 1201.71,277.3 1222.19,277.3 1242.68,277.3 1263.16,277.3 1283.65,277.3 1304.13,277.3 1324.62,277.3 1345.11,277.3 1365.59,277.3 1386.08,277.3 1406.56,277.3 1427.05,277.3 1447.53,277.3 1468.01,277.3 1488.5,277.3 1508.99,277.3 1529.47,277.3 1549.95,277.3 1570.44,277.3 1590.93,277.3 1611.41,277.3 1631.89,277.3 1652.38,277.3 1672.87,277.3 1693.35,277.3 1713.84,277.3 1734.32,277.3 1754.81,277.3 1775.29,277.3 1795.78,277.3 1816.26,277.3 1836.74,277.3 1857.23,277.3 1877.72,277.3 1898.2,277.3" fill="none" stroke="#111111" stroke-width="2.95" stroke-dasharray="18.88 4.72 2.95 4.72" stroke-linejoin="round"/>
<polyline points="1078.8,277.3 1099.28,277.3 1119.77,277.3 1140.25,277.3 1160.74,277.3 1181.22,277.3 1201.71,277.3 1222.19,277.3 1242.68,277.3 1263.16,277.3 1283.65,277.3 1304.13,277.3 1324.62,277.3 1345.11,277.3 1365.59,277.3 1386.08,277.3 1406.56,277.3 1427.05,277.3 1447.53,277.3 1468.01,277.3 1488.5,277.3 1508.99,277.3 1529.47,277.3 1549.95,277.3 1570.44,277.3 1590.93,277.3 1611.41,277.3 1631.89,277.3 1652.38,277.3 1672.87,277.3 1693.35,277.3 1713.84,277.3 1734.32,277.3 1754.81,277.3 1775.29,277.3 1795.78,277.3 1816.26,277.3 1836.74,277.3 1857.23,277.3 1877.72,277.3 1898.2,277.3" fill="none" stroke="#ffffff" stroke-opacity="0.55" stroke-width="4.35" stroke-linejoin="round"/><polyline points="1078.8,277.3 1099.28,277.3 1119.77,277.3 1140.25,277.3 1160.74,277.3 1181.22,277.3 1201.71,277.3 1222.19,277.3 1242.68,277.3 1263.16,277.3 1283.65,277.3 1304.13,277.3 1324.62,277.3 1345.11,277.3 1365.59,277.3 1386.08,277.3 1406.56,277.3 1427.05,277.3 1447.53,277.3 1468.01,277.3 1488.5,277.3 1508.99,277.3 1529.47,277.3 1549.95,277.3 1570.44,277.3 1590.93,277.3 1611.41,277.3 1631.89,277.3 1652.38,277.3 1672.87,277.3 1693.35,277.3 1713.84,277.3 1734.32,277.3 1754.81,277.3 1775.29,277.3 1795.78,277.3 1816.26,277.3 1836.74,277.3 1857.23,277.3 1877.72,277.3 1898.2,277.3" fill="none" stroke="#8d8da2" stroke-opacity="0.16" stroke-width="4.15" stroke-linejoin="round"/><polyline points="1078.8,277.3 1099.28,277.3 1119.77,277.3 1140.25,277.3 1160.74,277.3 1181.22,277.3 1201.71,277.3 1222.19,277.3 1242.68,277.3 1263.16,277.3 1283.65,277.3 1304.13,277.3 1324.62,277.3 1345.11,277.3 1365.59,277.3 1386.08,277.3 1406.56,277.3 1427.05,277.3 1447.53,277.3 1468.01,277.3 1488.5,277.3 1508.99,277.3 1529.47,277.3 1549.95,277.3 1570.44,277.3 1590.93,277.3 1611.41,277.3 1631.89,277.3 1652.38,277.3 1672.87,277.3 1693.35,277.3 1713.84,277.3 1734.32,277.3 1754.81,277.3 1775.29,277.3 1795.78,277.3 1816.26,277.3 1836.74,277.3 1857.23,277.3 1877.72,277.3 1898.2,277.3" fill="none" stroke="#8d8da2" stroke-width="2.95" stroke-dasharray="18.88 4.72 2.95 4.72" stroke-linejoin="round"/>
<polyline points="1078.8,277.3 1099.28,277.3 1119.77,277.3 1140.25,277.3 1160.74,277.3 1181.22,277.3 1201.71,277.3 1222.19,277.3 1242.68,277.3 1263.16,277.3 1283.65,277.3 1304.13,277.3 1324.62,277.3 1345.11,277.3 1365.59,277.3 1386.08,277.3 1406.56,277.3 1427.05,277.3 1447.53,277.3 1468.01,277.3 1488.5,277.3 1508.99,277.3 1529.47,277.3 1549.95,277.3 1570.44,277.3 1590.93,277.3 1611.41,277.3 1631.89,277.3 1652.38,277.3 1672.87,277.3 1693.35,277.3 1713.84,277.3 1734.32,277.3 1754.81,277.3 1775.29,277.3 1795.78,277.3 1816.26,277.3 1836.74,277.3 1857.23,277.3 1877.72,277.3 1898.2,277.3" fill="none" stroke="#ffffff" stroke-opacity="0.55" stroke-width="4.35" stroke-linejoin="round"/><polyline points="1078.8,277.3 1099.28,277.3 1119.77,277.3 1140.25,277.3 1160.74,277.3 1181.22,277.3 1201.71,277.3 1222.19,277.3 1242.68,277.3 1263.16,277.3 1283.65,277.3 1304.13,277.3 1324.62,277.3 1345.11,277.3 1365.59,277.3 1386.08,277.3 1406.56,277.3 1427.05,277.3 1447.53,277.3 1468.01,277.3 1488.5,277.3 1508.99,277.3 1529.47,277.3 1549.95,277.3 1570.44,277.3 1590.93,277.3 1611.41,277.3 1631.89,277.3 1652.38,277.3 1672.87,277.3 1693.35,277.3 1713.84,277.3 1734.32,277.3 1754.81,277.3 1775.29,277.3 1795.78,277.3 1816.26,277.3 1836.74,277.3 1857.23,277.3 1877.72,277.3 1898.2,277.3" fill="none" stroke="#80e6c6" stroke-opacity="0.16" stroke-width="4.15" stroke-linejoin="round"/><polyline points="1078.8,277.3 1099.28,277.3 1119.77,277.3 1140.25,277.3 1160.74,277.3 1181.22,277.3 1201.71,277.3 1222.19,277.3 1242.68,277.3 1263.16,277.3 1283.65,277.3 1304.13,277.3 1324.62,277.3 1345.11,277.3 1365.59,277.3 1386.08,277.3 1406.56,277.3 1427.05,277.3 1447.53,277.3 1468.01,277.3 1488.5,277.3 1508.99,277.3 1529.47,277.3 1549.95,277.3 1570.44,277.3 1590.93,277.3 1611.41,277.3 1631.89,277.3 1652.38,277.3 1672.87,277.3 1693.35,277.3 1713.84,277.3 1734.32,277.3 1754.81,277.3 1775.29,277.3 1795.78,277.3 1816.26,277.3 1836.74,277.3 1857.23,277.3 1877.72,277.3 1898.2,277.3" fill="none" stroke="#80e6c6" stroke-width="2.95" stroke-dasharray="18.88 4.72 2.95 4.72" stroke-linejoin="round"/>
<polyline points="1078.8,277.3 1099.28,277.3 1119.77,277.3 1140.25,277.3 1160.74,277.3 1181.22,277.3 1201.71,277.3 1222.19,277.3 1242.68,277.3 1263.16,277.3 1283.65,277.3 1304.13,277.3 1324.62,277.3 1345.11,277.3 1365.59,277.3 1386.08,277.3 1406.56,277.3 1427.05,277.3 1447.53,277.3 1468.01,277.3 1488.5,277.3 1508.99,277.3 1529.47,277.3 1549.95,277.3 1570.44,277.3 1590.93,277.3 1611.41,277.3 1631.89,277.3 1652.38,277.3 1672.87,277.3 1693.35,277.3 1713.84,277.3 1734.32,277.3 1754.81,277.3 1775.29,277.3 1795.78,277.3 1816.26,277.3 1836.74,277.3 1857.23,277.3 1877.72,277.3 1898.2,277.3" fill="none" stroke="#ffffff" stroke-opacity="0.55" stroke-width="4.35" stroke-linejoin="round"/><polyline points="1078.8,277.3 1099.28,277.3 1119.77,277.3 1140.25,277.3 1160.74,277.3 1181.22,277.3 1201.71,277.3 1222.19,277.3 1242.68,277.3 1263.16,277.3 1283.65,277.3 1304.13,277.3 1324.62,277.3 1345.11,277.3 1365.59,277.3 1386.08,277.3 1406.56,277.3 1427.05,277.3 1447.53,277.3 1468.01,277.3 1488.5,277.3 1508.99,277.3 1529.47,277.3 1549.95,277.3 1570.44,277.3 1590.93,277.3 1611.41,277.3 1631.89,277.3 1652.38,277.3 1672.87,277.3 1693.35,277.3 1713.84,277.3 1734.32,277.3 1754.81,277.3 1775.29,277.3 1795.78,277.3 1816.26,277.3 1836.74,277.3 1857.23,277.3 1877.72,277.3 1898.2,277.3" fill="none" stroke="#4f9c7f" stroke-opacity="0.16" stroke-width="4.15" stroke-linejoin="round"/><polyline points="1078.8,277.3 1099.28,277.3 1119.77,277.3 1140.25,277.3 1160.74,277.3 1181.22,277.3 1201.71,277.3 1222.19,277.3 1242.68,277.3 1263.16,277.3 1283.65,277.3 1304.13,277.3 1324.62,277.3 1345.11,277.3 1365.59,277.3 1386.08,277.3 1406.56,277.3 1427.05,277.3 1447.53,277.3 1468.01,277.3 1488.5,277.3 1508.99,277.3 1529.47,277.3 1549.95,277.3 1570.44,277.3 1590.93,277.3 1611.41,277.3 1631.89,277.3 1652.38,277.3 1672.87,277.3 1693.35,277.3 1713.84,277.3 1734.32,277.3 1754.81,277.3 1775.29,277.3 1795.78,277.3 1816.26,277.3 1836.74,277.3 1857.23,277.3 1877.72,277.3 1898.2,277.3" fill="none" stroke="#4f9c7f" stroke-width="2.95" stroke-dasharray="18.88 4.72 2.95 4.72" stroke-linejoin="round"/>
<polyline points="1078.8,277.3 1099.28,277.3 1119.77,277.3 1140.25,277.3 1160.74,277.3 1181.22,277.3 1201.71,277.3 1222.19,277.3 1242.68,277.3 1263.16,277.3 1283.65,277.3 1304.13,277.3 1324.62,277.3 1345.11,277.3 1365.59,277.3 1386.08,277.3 1406.56,277.3 1427.05,277.3 1447.53,277.3 1468.01,277.3 1488.5,277.3 1508.99,277.3 1529.47,277.3 1549.95,277.3 1570.44,277.3 1590.93,277.3 1611.41,277.3 1631.89,277.3 1652.38,277.3 1672.87,277.3 1693.35,277.3 1713.84,277.3 1734.32,277.3 1754.81,277.3 1775.29,277.3 1795.78,277.3 1816.26,277.3 1836.74,277.3 1857.23,277.3 1877.72,277.3 1898.2,277.3" fill="none" stroke="#ffffff" stroke-opacity="0.55" stroke-width="4.35" stroke-linejoin="round"/><polyline points="1078.8,277.3 1099.28,277.3 1119.77,277.3 1140.25,277.3 1160.74,277.3 1181.22,277.3 1201.71,277.3 1222.19,277.3 1242.68,277.3 1263.16,277.3 1283.65,277.3 1304.13,277.3 1324.62,277.3 1345.11,277.3 1365.59,277.3 1386.08,277.3 1406.56,277.3 1427.05,277.3 1447.53,277.3 1468.01,277.3 1488.5,277.3 1508.99,277.3 1529.47,277.3 1549.95,277.3 1570.44,277.3 1590.93,277.3 1611.41,277.3 1631.89,277.3 1652.38,277.3 1672.87,277.3 1693.35,277.3 1713.84,277.3 1734.32,277.3 1754.81,277.3 1775.29,277.3 1795.78,277.3 1816.26,277.3 1836.74,277.3 1857.23,277.3 1877.72,277.3 1898.2,277.3" fill="none" stroke="#2f2784" stroke-opacity="0.16" stroke-width="4.15" stroke-linejoin="round"/><polyline points="1078.8,277.3 1099.28,277.3 1119.77,277.3 1140.25,277.3 1160.74,277.3 1181.22,277.3 1201.71,277.3 1222.19,277.3 1242.68,277.3 1263.16,277.3 1283.65,277.3 1304.13,277.3 1324.62,277.3 1345.11,277.3 1365.59,277.3 1386.08,277.3 1406.56,277.3 1427.05,277.3 1447.53,277.3 1468.01,277.3 1488.5,277.3 1508.99,277.3 1529.47,277.3 1549.95,277.3 1570.44,277.3 1590.93,277.3 1611.41,277.3 1631.89,277.3 1652.38,277.3 1672.87,277.3 1693.35,277.3 1713.84,277.3 1734.32,277.3 1754.81,277.3 1775.29,277.3 1795.78,277.3 1816.26,277.3 1836.74,277.3 1857.23,277.3 1877.72,277.3 1898.2,277.3" fill="none" stroke="#2f2784" stroke-width="2.95" stroke-dasharray="10.92 4.72" stroke-linejoin="round"/>
<polyline points="1078.8,277.3 1099.28,277.3 1119.77,277.3 1140.25,277.3 1160.74,277.3 1181.22,277.3 1201.71,277.3 1222.19,277.3 1242.68,277.3 1263.16,277.3 1283.65,277.3 1304.13,277.3 1324.62,277.3 1345.11,277.3 1365.59,277.3 1386.08,277.3 1406.56,277.3 1427.05,277.3 1447.53,277.3 1468.01,277.3 1488.5,277.3 1508.99,277.3 1529.47,277.3 1549.95,277.3 1570.44,277.3 1590.93,277.3 1611.41,277.3 1631.89,277.3 1652.38,277.3 1672.87,277.3 1693.35,277.3 1713.84,277.3 1734.32,277.3 1754.81,277.3 1775.29,277.3 1795.78,277.3 1816.26,277.3 1836.74,277.3 1857.23,277.3 1877.72,277.3 1898.2,277.3" fill="none" stroke="#ffffff" stroke-opacity="0.55" stroke-width="4.35" stroke-linejoin="round"/><polyline points="1078.8,277.3 1099.28,277.3 1119.77,277.3 1140.25,277.3 1160.74,277.3 1181.22,277.3 1201.71,277.3 1222.19,277.3 1242.68,277.3 1263.16,277.3 1283.65,277.3 1304.13,277.3 1324.62,277.3 1345.11,277.3 1365.59,277.3 1386.08,277.3 1406.56,277.3 1427.05,277.3 1447.53,277.3 1468.01,277.3 1488.5,277.3 1508.99,277.3 1529.47,277.3 1549.95,277.3 1570.44,277.3 1590.93,277.3 1611.41,277.3 1631.89,277.3 1652.38,277.3 1672.87,277.3 1693.35,277.3 1713.84,277.3 1734.32,277.3 1754.81,277.3 1775.29,277.3 1795.78,277.3 1816.26,277.3 1836.74,277.3 1857.23,277.3 1877.72,277.3 1898.2,277.3" fill="none" stroke="#4936cc" stroke-opacity="0.16" stroke-width="4.15" stroke-linejoin="round"/><polyline points="1078.8,277.3 1099.28,277.3 1119.77,277.3 1140.25,277.3 1160.74,277.3 1181.22,277.3 1201.71,277.3 1222.19,277.3 1242.68,277.3 1263.16,277.3 1283.65,277.3 1304.13,277.3 1324.62,277.3 1345.11,277.3 1365.59,277.3 1386.08,277.3 1406.56,277.3 1427.05,277.3 1447.53,277.3 1468.01,277.3 1488.5,277.3 1508.99,277.3 1529.47,277.3 1549.95,277.3 1570.44,277.3 1590.93,277.3 1611.41,277.3 1631.89,277.3 1652.38,277.3 1672.87,277.3 1693.35,277.3 1713.84,277.3 1734.32,277.3 1754.81,277.3 1775.29,277.3 1795.78,277.3 1816.26,277.3 1836.74,277.3 1857.23,277.3 1877.72,277.3 1898.2,277.3" fill="none" stroke="#4936cc" stroke-width="2.95" stroke-dasharray="10.92 4.72" stroke-linejoin="round"/>
<polyline points="1078.8,277.3 1099.28,277.3 1119.77,277.3 1140.25,277.3 1160.74,277.3 1181.22,277.3 1201.71,277.3 1222.19,277.3 1242.68,277.3 1263.16,277.3 1283.65,277.3 1304.13,277.3 1324.62,277.3 1345.11,277.3 1365.59,277.3 1386.08,277.3 1406.56,277.3 1427.05,277.3 1447.53,277.3 1468.01,277.3 1488.5,277.3 1508.99,277.3 1529.47,277.3 1549.95,277.3 1570.44,277.3 1590.93,277.3 1611.41,277.3 1631.89,277.3 1652.38,277.3 1672.87,277.3 1693.35,277.3 1713.84,277.3 1734.32,277.3 1754.81,277.3 1775.29,277.3 1795.78,277.3 1816.26,277.3 1836.74,277.3 1857.23,277.3 1877.72,277.3 1898.2,277.3" fill="none" stroke="#ffffff" stroke-opacity="0.55" stroke-width="3.9" stroke-linejoin="round"/><polyline points="1078.8,277.3 1099.28,277.3 1119.77,277.3 1140.25,277.3 1160.74,277.3 1181.22,277.3 1201.71,277.3 1222.19,277.3 1242.68,277.3 1263.16,277.3 1283.65,277.3 1304.13,277.3 1324.62,277.3 1345.11,277.3 1365.59,277.3 1386.08,277.3 1406.56,277.3 1427.05,277.3 1447.53,277.3 1468.01,277.3 1488.5,277.3 1508.99,277.3 1529.47,277.3 1549.95,277.3 1570.44,277.3 1590.93,277.3 1611.41,277.3 1631.89,277.3 1652.38,277.3 1672.87,277.3 1693.35,277.3 1713.84,277.3 1734.32,277.3 1754.81,277.3 1775.29,277.3 1795.78,277.3 1816.26,277.3 1836.74,277.3 1857.23,277.3 1877.72,277.3 1898.2,277.3" fill="none" stroke="#e8e04c" stroke-opacity="0.16" stroke-width="3.7" stroke-linejoin="round"/><polyline points="1078.8,277.3 1099.28,277.3 1119.77,277.3 1140.25,277.3 1160.74,277.3 1181.22,277.3 1201.71,277.3 1222.19,277.3 1242.68,277.3 1263.16,277.3 1283.65,277.3 1304.13,277.3 1324.62,277.3 1345.11,277.3 1365.59,277.3 1386.08,277.3 1406.56,277.3 1427.05,277.3 1447.53,277.3 1468.01,277.3 1488.5,277.3 1508.99,277.3 1529.47,277.3 1549.95,277.3 1570.44,277.3 1590.93,277.3 1611.41,277.3 1631.89,277.3 1652.38,277.3 1672.87,277.3 1693.35,277.3 1713.84,277.3 1734.32,277.3 1754.81,277.3 1775.29,277.3 1795.78,277.3 1816.26,277.3 1836.74,277.3 1857.23,277.3 1877.72,277.3 1898.2,277.3" fill="none" stroke="#e8e04c" stroke-width="2.5" stroke-dasharray="9.25 4" stroke-linejoin="round"/>
<polyline points="1078.8,277.3 1099.28,277.3 1119.77,277.3 1140.25,277.3 1160.74,277.3 1181.22,277.3 1201.71,277.3 1222.19,277.3 1242.68,277.3 1263.16,277.3 1283.65,277.3 1304.13,277.3 1324.62,277.3 1345.11,277.3 1365.59,277.3 1386.08,277.3 1406.56,277.3 1427.05,277.3 1447.53,277.3 1468.01,277.3 1488.5,277.3 1508.99,277.3 1529.47,277.3 1549.95,277.3 1570.44,277.3 1590.93,277.3 1611.41,277.3 1631.89,277.3 1652.38,277.3 1672.87,277.3 1693.35,277.3 1713.84,277.3 1734.32,277.3 1754.81,277.3 1775.29,277.3 1795.78,277.3 1816.26,277.3 1836.74,277.3 1857.23,277.3 1877.72,277.3 1898.2,277.3" fill="none" stroke="#ffffff" stroke-opacity="0.55" stroke-width="3.9" stroke-linejoin="round"/><polyline points="1078.8,277.3 1099.28,277.3 1119.77,277.3 1140.25,277.3 1160.74,277.3 1181.22,277.3 1201.71,277.3 1222.19,277.3 1242.68,277.3 1263.16,277.3 1283.65,277.3 1304.13,277.3 1324.62,277.3 1345.11,277.3 1365.59,277.3 1386.08,277.3 1406.56,277.3 1427.05,277.3 1447.53,277.3 1468.01,277.3 1488.5,277.3 1508.99,277.3 1529.47,277.3 1549.95,277.3 1570.44,277.3 1590.93,277.3 1611.41,277.3 1631.89,277.3 1652.38,277.3 1672.87,277.3 1693.35,277.3 1713.84,277.3 1734.32,277.3 1754.81,277.3 1775.29,277.3 1795.78,277.3 1816.26,277.3 1836.74,277.3 1857.23,277.3 1877.72,277.3 1898.2,277.3" fill="none" stroke="#e3a23f" stroke-opacity="0.16" stroke-width="3.7" stroke-linejoin="round"/><polyline points="1078.8,277.3 1099.28,277.3 1119.77,277.3 1140.25,277.3 1160.74,277.3 1181.22,277.3 1201.71,277.3 1222.19,277.3 1242.68,277.3 1263.16,277.3 1283.65,277.3 1304.13,277.3 1324.62,277.3 1345.11,277.3 1365.59,277.3 1386.08,277.3 1406.56,277.3 1427.05,277.3 1447.53,277.3 1468.01,277.3 1488.5,277.3 1508.99,277.3 1529.47,277.3 1549.95,277.3 1570.44,277.3 1590.93,277.3 1611.41,277.3 1631.89,277.3 1652.38,277.3 1672.87,277.3 1693.35,277.3 1713.84,277.3 1734.32,277.3 1754.81,277.3 1775.29,277.3 1795.78,277.3 1816.26,277.3 1836.74,277.3 1857.23,277.3 1877.72,277.3 1898.2,277.3" fill="none" stroke="#e3a23f" stroke-width="2.5" stroke-dasharray="9.25 4" stroke-linejoin="round"/>
<polyline points="1078.8,277.3 1099.28,277.3 1119.77,277.3 1140.25,277.3 1160.74,277.3 1181.22,277.3 1201.71,277.3 1222.19,277.3 1242.68,277.3 1263.16,277.3 1283.65,277.3 1304.13,277.3 1324.62,277.3 1345.11,277.3 1365.59,277.3 1386.08,277.3 1406.56,277.3 1427.05,277.3 1447.53,277.3 1468.01,277.3 1488.5,277.3 1508.99,277.3 1529.47,277.3 1549.95,277.3 1570.44,277.3 1590.93,277.3 1611.41,277.3 1631.89,277.3 1652.38,277.3 1672.87,277.3 1693.35,277.3 1713.84,277.3 1734.32,277.3 1754.81,277.3 1775.29,277.3 1795.78,277.3 1816.26,277.3 1836.74,277.3 1857.23,277.3 1877.72,277.3 1898.2,277.3" fill="none" stroke="#b855d8" stroke-width="2.4" stroke-linejoin="round"/>
<polyline points="1078.8,276.71 1099.28,276.66 1119.77,276.61 1140.25,276.55 1160.74,276.5 1181.22,276.44 1201.71,276.39 1222.19,276.34 1242.68,276.28 1263.16,276.23 1283.65,276.18 1304.13,276.12 1324.62,276.07 1345.11,276.01 1365.59,275.96 1386.08,275.91 1406.56,275.85 1427.05,275.8 1447.53,275.75 1468.01,275.69 1488.5,275.64 1508.99,275.58 1529.47,275.53 1549.95,275.48 1570.44,275.42 1590.93,275.37 1611.41,275.32 1631.89,275.26 1652.38,275.21 1672.87,275.15 1693.35,275.1 1713.84,275.05 1734.32,274.99 1754.81,274.94 1775.29,274.89 1795.78,274.83 1816.26,274.78 1836.74,274.72 1857.23,274.67 1877.72,274.62 1898.2,274.56" fill="none" stroke="#c4383f" stroke-width="2.5" stroke-linejoin="round"/>
<polyline points="1078.8,277.3 1099.28,277.3 1119.77,277.3 1140.25,277.3 1160.74,277.3 1181.22,277.3 1201.71,277.3 1222.19,277.3 1242.68,277.3 1263.16,277.3 1283.65,277.3 1304.13,277.3 1324.62,277.3 1345.11,277.3 1365.59,277.3 1386.08,277.3 1406.56,277.3 1427.05,277.3 1447.53,277.3 1468.01,277.3 1488.5,277.3 1508.99,277.3 1529.47,277.3 1549.95,277.3 1570.44,277.3 1590.93,277.3 1611.41,277.3 1631.89,277.3 1652.38,277.3 1672.87,277.3 1693.35,277.3 1713.84,277.3 1734.32,277.3 1754.81,277.3 1775.29,277.3 1795.78,277.3 1816.26,277.3 1836.74,277.3 1857.23,277.3 1877.72,277.3 1898.2,277.3" fill="none" stroke="#86d06e" stroke-width="2.2" stroke-linejoin="round"/>
<polyline points="1078.8,277.3 1099.28,277.3 1119.77,277.3 1140.25,277.3 1160.74,277.3 1181.22,277.3 1201.71,277.3 1222.19,277.3 1242.68,277.3 1263.16,277.3 1283.65,277.3 1304.13,277.3 1324.62,277.3 1345.11,277.3 1365.59,277.3 1386.08,277.3 1406.56,277.3 1427.05,277.3 1447.53,277.3 1468.01,277.3 1488.5,277.3 1508.99,277.3 1529.47,277.3 1549.95,277.3 1570.44,277.3 1590.93,277.3 1611.41,277.3 1631.89,277.3 1652.38,277.3 1672.87,277.3 1693.35,277.3 1713.84,277.3 1734.32,277.3 1754.81,277.3 1775.29,277.3 1795.78,277.3 1816.26,277.3 1836.74,277.3 1857.23,277.3 1877.72,277.3 1898.2,277.3" fill="none" stroke="#5fa4da" stroke-width="2.9" stroke-linejoin="round"/>
</g>
<path d="M1078.8 57.4H1898.2V301.2" fill="none" stroke="#e4e5e8" stroke-width="1.1"/>
<path d="M1078.8 57.4V301.2H1898.2" fill="none" stroke="#d3d4d7" stroke-width="1.2"/>
<path d="M1064.6 277.3H1078.8M1064.6 238.2H1078.8M1064.6 199.1H1078.8M1064.6 160H1078.8M1064.6 120.9H1078.8M1064.6 81.8H1078.8" stroke="#7a7a7e" stroke-width="1.3" fill="none"/>
<text x="1053.6" y="284.6" text-anchor="end" font-family="'Liberation Sans', sans-serif" font-size="21.5" fill="#4d4d56">0</text>
<text x="1053.6" y="245.5" text-anchor="end" font-family="'Liberation Sans', sans-serif" font-size="21.5" fill="#4d4d56">20</text>
<text x="1053.6" y="206.4" text-anchor="end" font-family="'Liberation Sans', sans-serif" font-size="21.5" fill="#4d4d56">40</text>
<text x="1053.6" y="167.3" text-anchor="end" font-family="'Liberation Sans', sans-serif" font-size="21.5" fill="#4d4d56">60</text>
<text x="1053.6" y="128.2" text-anchor="end" font-family="'Liberation Sans', sans-serif" font-size="21.5" fill="#4d4d56">80</text>
<text x="1053.6" y="89.1" text-anchor="end" font-family="'Liberation Sans', sans-serif" font-size="21.5" fill="#4d4d56">100</text>
<text transform="translate(1005.4 179.3) rotate(-90)" text-anchor="middle" textLength="135.4" lengthAdjust="spacingAndGlyphs" font-family="'Liberation Sans', sans-serif" font-size="24.5" fill="#4d4d56">% episodes</text>
<g transform="translate(1113.9 277)"><circle r="22.3" fill="#c4dced" fill-opacity="0.86" stroke="#98c4e5" stroke-width="1.1"/><use href="#i-logs"/></g>
<g transform="translate(1167.43 277)"><circle r="22.3" fill="#d1eaca" fill-opacity="0.86" stroke="#b1dfa2" stroke-width="1.1"/><use href="#i-planks"/></g>
<g transform="translate(1220.96 277)"><circle r="22.3" fill="#e6b8ba" fill-opacity="0.86" stroke="#d78185" stroke-width="1.1"/><use href="#i-sticks"/></g>
<g transform="translate(1274.49 277)"><circle r="22.3" fill="#e2c2ed" fill-opacity="0.86" stroke="#d093e4" stroke-width="1.1"/><use href="#i-crafting"/></g>
<g transform="translate(1328.02 277)"><circle r="22.3" fill="#f0dbba" fill-opacity="0.86" stroke="#eac285" stroke-width="1.1"/><use href="#i-wpick"/></g>
<g transform="translate(1381.55 277)"><circle r="22.3" fill="#f1efbf" fill-opacity="0.86" stroke="#ede98d" stroke-width="1.1"/><use href="#i-cobble"/></g>
<g transform="translate(1435.08 277)"><circle r="22.3" fill="#bdb7e9" fill-opacity="0.86" stroke="#8b7fdc" stroke-width="1.1"/><use href="#i-spick"/></g>
<g transform="translate(1488.61 277)"><circle r="22.3" fill="#bcb4e6" fill-opacity="0.86" stroke="#7f76cf" stroke-width="1.1"/><use href="#i-coal"/></g>
<g transform="translate(1542.14 277)"><circle r="22.3" fill="#bfd9cf" fill-opacity="0.86" stroke="#8ebfad" stroke-width="1.1"/><use href="#i-torch"/></g>
<g transform="translate(1595.67 277)"><circle r="22.3" fill="#cff1e7" fill-opacity="0.86" stroke="#adecd9" stroke-width="1.1"/><use href="#i-furnace"/></g>
<g transform="translate(1649.2 277)"><circle r="22.3" fill="#d3d4db" fill-opacity="0.86" stroke="#b5b5c2" stroke-width="1.1"/><use href="#i-ore"/></g>
<g transform="translate(1702.73 277)"><circle r="22.3" fill="#aaabab" fill-opacity="0.86" stroke="#686868" stroke-width="1.1"/><use href="#i-ingot"/></g>
<g transform="translate(1756.26 277)"><circle r="22.3" fill="#c4dced" fill-opacity="0.86" stroke="#98c4e5" stroke-width="1.1"/><use href="#i-ipick"/></g>
<g transform="translate(1809.79 277)"><circle r="22.3" fill="#d1eaca" fill-opacity="0.86" stroke="#b1dfa2" stroke-width="1.1"/><use href="#i-diamond"/></g>
<g transform="translate(1863.32 277)"><circle r="22.3" fill="#e6b8ba" fill-opacity="0.86" stroke="#d78185" stroke-width="1.1"/><use href="#i-dpick"/></g>
<rect x="1166.9" y="67.6" width="721.9" height="149.2" rx="3.5" fill="#f6f7f7" fill-opacity="0.82" stroke="#d6d7da" stroke-width="1.1"/>
<path d="M1173.4 83.1H1215" stroke="#5fa4da" stroke-width="2.8" fill="none"/>
<text x="1229.9" y="90.1" font-family="'DejaVu Sans', 'Liberation Sans', sans-serif" font-size="19.4" fill="#111">Logs</text>
<path d="M1173.4 111.95H1215" stroke="#86d06e" stroke-width="2.8" fill="none"/>
<text x="1229.9" y="118.95" font-family="'DejaVu Sans', 'Liberation Sans', sans-serif" font-size="19.4" fill="#111">Planks</text>
<path d="M1173.4 140.8H1215" stroke="#c4383f" stroke-width="2.8" fill="none"/>
<text x="1229.9" y="147.8" font-family="'DejaVu Sans', 'Liberation Sans', sans-serif" font-size="19.4" fill="#111">Sticks</text>
<path d="M1173.4 169.65H1215" stroke="#b855d8" stroke-width="2.8" fill="none"/>
<text x="1229.9" y="176.65" font-family="'DejaVu Sans', 'Liberation Sans', sans-serif" font-size="19.4" fill="#111">Crafting Tables</text>
<path d="M1173.4 198.5H1215" stroke="#e3a23f" stroke-width="2.8" stroke-dasharray="10.36 4.48" fill="none"/>
<text x="1229.9" y="205.5" font-family="'DejaVu Sans', 'Liberation Sans', sans-serif" font-size="19.4" fill="#111">Wooden Pickaxe</text>
<path d="M1427.5 83.1H1466.8" stroke="#e8e04c" stroke-width="2.8" stroke-dasharray="10.36 4.48" fill="none"/>
<text x="1482.7" y="90.1" font-family="'DejaVu Sans', 'Liberation Sans', sans-serif" font-size="19.4" fill="#111">Cobblestone</text>
<path d="M1427.5 111.95H1466.8" stroke="#4936cc" stroke-width="2.8" stroke-dasharray="10.36 4.48" fill="none"/>
<text x="1482.7" y="118.95" font-family="'DejaVu Sans', 'Liberation Sans', sans-serif" font-size="19.4" fill="#111">Stone Pickaxe</text>
<path d="M1427.5 140.8H1466.8" stroke="#2f2784" stroke-width="2.8" stroke-dasharray="10.36 4.48" fill="none"/>
<text x="1482.7" y="147.8" font-family="'DejaVu Sans', 'Liberation Sans', sans-serif" font-size="19.4" fill="#111">Coal</text>
<path d="M1427.5 169.65H1466.8" stroke="#4f9c7f" stroke-width="2.8" stroke-dasharray="17.92 4.48 2.8 4.48" fill="none"/>
<text x="1482.7" y="176.65" font-family="'DejaVu Sans', 'Liberation Sans', sans-serif" font-size="19.4" fill="#111">Torch</text>
<path d="M1427.5 198.5H1466.8" stroke="#80e6c6" stroke-width="2.8" stroke-dasharray="17.92 4.48 2.8 4.48" fill="none"/>
<text x="1482.7" y="205.5" font-family="'DejaVu Sans', 'Liberation Sans', sans-serif" font-size="19.4" fill="#111">Furnace</text>
<path d="M1657.2 83.1H1696.6" stroke="#8d8da2" stroke-width="2.8" stroke-dasharray="17.92 4.48 2.8 4.48" fill="none"/>
<text x="1713" y="90.1" font-family="'DejaVu Sans', 'Liberation Sans', sans-serif" font-size="19.4" fill="#111">Iron Ore</text>
<path d="M1657.2 111.95H1696.6" stroke="#111111" stroke-width="2.8" stroke-dasharray="17.92 4.48 2.8 4.48" fill="none"/>
<text x="1713" y="118.95" font-family="'DejaVu Sans', 'Liberation Sans', sans-serif" font-size="19.4" fill="#111">Iron Ingot</text>
<path d="M1657.2 140.8H1696.6" stroke="#5fa4da" stroke-width="2.8" stroke-dasharray="8.4 2.8 2.8 2.8 2.8 2.8" fill="none"/>
<text x="1713" y="147.8" font-family="'DejaVu Sans', 'Liberation Sans', sans-serif" font-size="19.4" fill="#111">Iron Pickaxe</text>
<path d="M1657.2 169.65H1696.6" stroke="#86d06e" stroke-width="2.8" stroke-dasharray="8.4 2.8 2.8 2.8 2.8 2.8" fill="none"/>
<text x="1713" y="176.65" font-family="'DejaVu Sans', 'Liberation Sans', sans-serif" font-size="19.4" fill="#111">Diamonds</text>
<path d="M1657.2 198.5H1696.6" stroke="#c4383f" stroke-width="2.8" stroke-dasharray="8.4 2.8 2.8 2.8 2.8 2.8" fill="none"/>
<text x="1713" y="205.5" font-family="'DejaVu Sans', 'Liberation Sans', sans-serif" font-size="19.4" fill="#111">Diamond Pickaxe</text>
<text x="1488.6" y="51.4" text-anchor="middle" textLength="321" lengthAdjust="spacingAndGlyphs" font-family="'Liberation Sans', sans-serif" font-weight="bold" font-size="25" fill="#454552">RL from Rand. Init. model</text>
<text x="982" y="51.4" textLength="34.5" lengthAdjust="spacingAndGlyphs" font-family="'Liberation Serif', serif" font-weight="bold" font-size="27.8" fill="#111">(b)</text>
<rect x="129.3" y="337.4" width="819.5" height="243.9" fill="#f6f7f7"/>
<path d="M246.37 337.4V581.3M363.44 337.4V581.3M480.51 337.4V581.3M597.59 337.4V581.3M714.66 337.4V581.3M831.73 337.4V581.3M129.3 557H948.8M129.3 517.95H948.8M129.3 478.9H948.8M129.3 439.85H948.8M129.3 400.8H948.8M129.3 361.75H948.8" stroke="#e3e4e7" stroke-width="1.1" fill="none"/>
<g clip-path="url(#cc)">
<polyline points="129.3,557 149.79,557 170.28,557 190.76,557 211.25,557 231.74,557 252.23,557 272.71,557 293.2,557 313.69,557 334.18,557 354.66,557 375.15,557 395.64,557 416.12,557 436.61,557 457.1,557 477.59,557 498.07,557 518.56,557 539.05,557 559.54,557 580.03,557 600.51,557 621,557 641.49,557 661.97,557 682.46,557 702.95,557 723.44,557 743.92,557 764.41,557 784.9,557 805.39,557 825.88,557 846.36,557 866.85,557 887.34,557 907.83,557 928.31,557 948.8,557" fill="none" stroke="#ffffff" stroke-opacity="0.55" stroke-width="4.35" stroke-linejoin="round"/><polyline points="129.3,557 149.79,557 170.28,557 190.76,557 211.25,557 231.74,557 252.23,557 272.71,557 293.2,557 313.69,557 334.18,557 354.66,557 375.15,557 395.64,557 416.12,557 436.61,557 457.1,557 477.59,557 498.07,557 518.56,557 539.05,557 559.54,557 580.03,557 600.51,557 621,557 641.49,557 661.97,557 682.46,557 702.95,557 723.44,557 743.92,557 764.41,557 784.9,557 805.39,557 825.88,557 846.36,557 866.85,557 887.34,557 907.83,557 928.31,557 948.8,557" fill="none" stroke="#c4383f" stroke-opacity="0.16" stroke-width="4.15" stroke-linejoin="round"/><polyline points="129.3,557 149.79,557 170.28,557 190.76,557 211.25,557 231.74,557 252.23,557 272.71,557 293.2,557 313.69,557 334.18,557 354.66,557 375.15,557 395.64,557 416.12,557 436.61,557 457.1,557 477.59,557 498.07,557 518.56,557 539.05,557 559.54,557 580.03,557 600.51,557 621,557 641.49,557 661.97,557 682.46,557 702.95,557 723.44,557 743.92,557 764.41,557 784.9,557 805.39,557 825.88,557 846.36,557 866.85,557 887.34,557 907.83,557 928.31,557 948.8,557" fill="none" stroke="#c4383f" stroke-width="2.95" stroke-dasharray="8.85 2.95 2.95 2.95 2.95 2.95" stroke-linejoin="round"/>
<polyline points="129.3,557 149.79,557 170.28,557 190.76,557 211.25,557 231.74,557 252.23,557 272.71,557 293.2,557 313.69,557 334.18,557 354.66,557 375.15,557 395.64,557 416.12,557 436.61,557 457.1,557 477.59,557 498.07,557 518.56,557 539.05,557 559.54,557 580.03,557 600.51,557 621,557 641.49,557 661.97,557 682.46,557 702.95,557 723.44,557 743.92,557 764.41,557 784.9,557 805.39,557 825.88,557 846.36,557 866.85,557 887.34,557 907.83,557 928.31,557 948.8,557" fill="none" stroke="#ffffff" stroke-opacity="0.55" stroke-width="4.35" stroke-linejoin="round"/><polyline points="129.3,557 149.79,557 170.28,557 190.76,557 211.25,557 231.74,557 252.23,557 272.71,557 293.2,557 313.69,557 334.18,557 354.66,557 375.15,557 395.64,557 416.12,557 436.61,557 457.1,557 477.59,557 498.07,557 518.56,557 539.05,557 559.54,557 580.03,557 600.51,557 621,557 641.49,557 661.97,557 682.46,557 702.95,557 723.44,557 743.92,557 764.41,557 784.9,557 805.39,557 825.88,557 846.36,557 866.85,557 887.34,557 907.83,557 928.31,557 948.8,557" fill="none" stroke="#86d06e" stroke-opacity="0.16" stroke-width="4.15" stroke-linejoin="round"/><polyline points="129.3,557 149.79,557 170.28,557 190.76,557 211.25,557 231.74,557 252.23,557 272.71,557 293.2,557 313.69,557 334.18,557 354.66,557 375.15,557 395.64,557 416.12,557 436.61,557 457.1,557 477.59,557 498.07,557 518.56,557 539.05,557 559.54,557 580.03,557 600.51,557 621,557 641.49,557 661.97,557 682.46,557 702.95,557 723.44,557 743.92,557 764.41,557 784.9,557 805.39,557 825.88,557 846.36,557 866.85,557 887.34,557 907.83,557 928.31,557 948.8,557" fill="none" stroke="#86d06e" stroke-width="2.95" stroke-dasharray="8.85 2.95 2.95 2.95 2.95 2.95" stroke-linejoin="round"/>
<polyline points="129.3,557 149.79,557 170.28,557 190.76,557 211.25,557 231.74,557 252.23,557 272.71,557 293.2,557 313.69,557 334.18,557 354.66,557 375.15,557 395.64,557 416.12,557 436.61,557 457.1,557 477.59,557 498.07,557 518.56,557 539.05,557 559.54,557 580.03,557 600.51,557 621,557 641.49,557 661.97,557 682.46,557 702.95,557 723.44,557 743.92,557 764.41,557 784.9,557 805.39,557 825.88,557 846.36,557 866.85,557 887.34,557 907.83,557 928.31,557 948.8,557" fill="none" stroke="#ffffff" stroke-opacity="0.55" stroke-width="4.35" stroke-linejoin="round"/><polyline points="129.3,557 149.79,557 170.28,557 190.76,557 211.25,557 231.74,557 252.23,557 272.71,557 293.2,557 313.69,557 334.18,557 354.66,557 375.15,557 395.64,557 416.12,557 436.61,557 457.1,557 477.59,557 498.07,557 518.56,557 539.05,557 559.54,557 580.03,557 600.51,557 621,557 641.49,557 661.97,557 682.46,557 702.95,557 723.44,557 743.92,557 764.41,557 784.9,557 805.39,557 825.88,557 846.36,557 866.85,557 887.34,557 907.83,557 928.31,557 948.8,557" fill="none" stroke="#5fa4da" stroke-opacity="0.16" stroke-width="4.15" stroke-linejoin="round"/><polyline points="129.3,557 149.79,557 170.28,557 190.76,557 211.25,557 231.74,557 252.23,557 272.71,557 293.2,557 313.69,557 334.18,557 354.66,557 375.15,557 395.64,557 416.12,557 436.61,557 457.1,557 477.59,557 498.07,557 518.56,557 539.05,557 559.54,557 580.03,557 600.51,557 621,557 641.49,557 661.97,557 682.46,557 702.95,557 723.44,557 743.92,557 764.41,557 784.9,557 805.39,557 825.88,557 846.36,557 866.85,557 887.34,557 907.83,557 928.31,557 948.8,557" fill="none" stroke="#5fa4da" stroke-width="2.95" stroke-dasharray="8.85 2.95 2.95 2.95 2.95 2.95" stroke-linejoin="round"/>
<polyline points="129.3,557 149.79,557 170.28,557 190.76,557 211.25,557 231.74,557 252.23,557 272.71,557 293.2,557 313.69,557 334.18,557 354.66,557 375.15,557 395.64,557 416.12,557 436.61,557 457.1,557 477.59,557 498.07,557 518.56,557 539.05,557 559.54,557 580.03,557 600.51,557 621,557 641.49,557 661.97,557 682.46,557 702.95,557 723.44,557 743.92,557 764.41,557 784.9,557 805.39,557 825.88,557 846.36,557 866.85,557 887.34,557 907.83,557 928.31,557 948.8,557" fill="none" stroke="#ffffff" stroke-opacity="0.55" stroke-width="4.35" stroke-linejoin="round"/><polyline points="129.3,557 149.79,557 170.28,557 190.76,557 211.25,557 231.74,557 252.23,557 272.71,557 293.2,557 313.69,557 334.18,557 354.66,557 375.15,557 395.64,557 416.12,557 436.61,557 457.1,557 477.59,557 498.07,557 518.56,557 539.05,557 559.54,557 580.03,557 600.51,557 621,557 641.49,557 661.97,557 682.46,557 702.95,557 723.44,557 743.92,557 764.41,557 784.9,557 805.39,557 825.88,557 846.36,557 866.85,557 887.34,557 907.83,557 928.31,557 948.8,557" fill="none" stroke="#111111" stroke-opacity="0.16" stroke-width="4.15" stroke-linejoin="round"/><polyline points="129.3,557 149.79,557 170.28,557 190.76,557 211.25,557 231.74,557 252.23,557 272.71,557 293.2,557 313.69,557 334.18,557 354.66,557 375.15,557 395.64,557 416.12,557 436.61,557 457.1,557 477.59,557 498.07,557 518.56,557 539.05,557 559.54,557 580.03,557 600.51,557 621,557 641.49,557 661.97,557 682.46,557 702.95,557 723.44,557 743.92,557 764.41,557 784.9,557 805.39,557 825.88,557 846.36,557 866.85,557 887.34,557 907.83,557 928.31,557 948.8,557" fill="none" stroke="#111111" stroke-width="2.95" stroke-dasharray="18.88 4.72 2.95 4.72" stroke-linejoin="round"/>
<polyline points="129.3,557 149.79,557 170.28,557 190.76,557 211.25,557 231.74,555.44 252.23,547.24 272.71,532.59 293.2,505.65 313.69,494.52 334.18,483.78 354.66,473.04 375.15,462.3 395.64,448.64 416.12,445.71 436.61,443.36 457.1,436.92 477.59,430.09 498.07,426.18 518.56,427.16 539.05,425.21 559.54,425.21 580.03,415.44 600.51,410.76 621,424.62 641.49,425.6 661.97,427.74 682.46,425.6 702.95,423.45 723.44,422.86 743.92,414.08 764.41,415.44 784.9,415.83 805.39,418.37 825.88,414.66 846.36,415.05 866.85,416.81 887.34,389.48 907.83,393.97 928.31,419.74 948.8,417.98" fill="none" stroke="#ffffff" stroke-opacity="0.55" stroke-width="4.35" stroke-linejoin="round"/><polyline points="129.3,557 149.79,557 170.28,557 190.76,557 211.25,557 231.74,555.44 252.23,547.24 272.71,532.59 293.2,505.65 313.69,494.52 334.18,483.78 354.66,473.04 375.15,462.3 395.64,448.64 416.12,445.71 436.61,443.36 457.1,436.92 477.59,430.09 498.07,426.18 518.56,427.16 539.05,425.21 559.54,425.21 580.03,415.44 600.51,410.76 621,424.62 641.49,425.6 661.97,427.74 682.46,425.6 702.95,423.45 723.44,422.86 743.92,414.08 764.41,415.44 784.9,415.83 805.39,418.37 825.88,414.66 846.36,415.05 866.85,416.81 887.34,389.48 907.83,393.97 928.31,419.74 948.8,417.98" fill="none" stroke="#8d8da2" stroke-opacity="0.16" stroke-width="4.15" stroke-linejoin="round"/><polyline points="129.3,557 149.79,557 170.28,557 190.76,557 211.25,557 231.74,555.44 252.23,547.24 272.71,532.59 293.2,505.65 313.69,494.52 334.18,483.78 354.66,473.04 375.15,462.3 395.64,448.64 416.12,445.71 436.61,443.36 457.1,436.92 477.59,430.09 498.07,426.18 518.56,427.16 539.05,425.21 559.54,425.21 580.03,415.44 600.51,410.76 621,424.62 641.49,425.6 661.97,427.74 682.46,425.6 702.95,423.45 723.44,422.86 743.92,414.08 764.41,415.44 784.9,415.83 805.39,418.37 825.88,414.66 846.36,415.05 866.85,416.81 887.34,389.48 907.83,393.97 928.31,419.74 948.8,417.98" fill="none" stroke="#8d8da2" stroke-width="2.95" stroke-dasharray="18.88 4.72 2.95 4.72" stroke-linejoin="round"/>
<polyline points="129.3,557 149.79,557 170.28,557 190.76,557 211.25,557 231.74,557 252.23,557 272.71,557 293.2,557 313.69,557 334.18,557 354.66,556.61 375.15,556.02 395.64,555.44 416.12,555.05 436.61,553.88 457.1,551.92 477.59,547.63 498.07,512.09 518.56,473.04 539.05,463.28 559.54,466.21 580.03,453.52 600.51,444.15 621,454.1 641.49,462.89 661.97,456.84 682.46,461.72 702.95,475.39 723.44,460.55 743.92,445.32 764.41,447.46 784.9,443.56 805.39,448.64 825.88,455.86 846.36,443.75 866.85,441.61 887.34,414.66 907.83,394.36 928.31,436.14 948.8,436.92" fill="none" stroke="#ffffff" stroke-opacity="0.55" stroke-width="4.35" stroke-linejoin="round"/><polyline points="129.3,557 149.79,557 170.28,557 190.76,557 211.25,557 231.74,557 252.23,557 272.71,557 293.2,557 313.69,557 334.18,557 354.66,556.61 375.15,556.02 395.64,555.44 416.12,555.05 436.61,553.88 457.1,551.92 477.59,547.63 498.07,512.09 518.56,473.04 539.05,463.28 559.54,466.21 580.03,453.52 600.51,444.15 621,454.1 641.49,462.89 661.97,456.84 682.46,461.72 702.95,475.39 723.44,460.55 743.92,445.32 764.41,447.46 784.9,443.56 805.39,448.64 825.88,455.86 846.36,443.75 866.85,441.61 887.34,414.66 907.83,394.36 928.31,436.14 948.8,436.92" fill="none" stroke="#80e6c6" stroke-opacity="0.16" stroke-width="4.15" stroke-linejoin="round"/><polyline points="129.3,557 149.79,557 170.28,557 190.76,557 211.25,557 231.74,557 252.23,557 272.71,557 293.2,557 313.69,557 334.18,557 354.66,556.61 375.15,556.02 395.64,555.44 416.12,555.05 436.61,553.88 457.1,551.92 477.59,547.63 498.07,512.09 518.56,473.04 539.05,463.28 559.54,466.21 580.03,453.52 600.51,444.15 621,454.1 641.49,462.89 661.97,456.84 682.46,461.72 702.95,475.39 723.44,460.55 743.92,445.32 764.41,447.46 784.9,443.56 805.39,448.64 825.88,455.86 846.36,443.75 866.85,441.61 887.34,414.66 907.83,394.36 928.31,436.14 948.8,436.92" fill="none" stroke="#80e6c6" stroke-width="2.95" stroke-dasharray="18.88 4.72 2.95 4.72" stroke-linejoin="round"/>
<polyline points="129.3,557 149.79,557 170.28,557 190.76,557 211.25,557 231.74,557 252.23,557 272.71,557 293.2,555.05 313.69,506.63 334.18,495.69 354.66,490.62 375.15,478.31 395.64,466.21 416.12,461.33 436.61,456.45 457.1,448.44 477.59,443.36 498.07,441.22 518.56,438.68 539.05,436.73 559.54,435.55 580.03,426.77 600.51,419.74 621,431.06 641.49,428.92 661.97,434.77 682.46,428.92 702.95,430.48 723.44,432.24 743.92,420.91 764.41,421.89 784.9,422.28 805.39,425.6 825.88,423.84 846.36,421.89 866.85,421.69 887.34,389.48 907.83,385.57 928.31,421.3 948.8,418.57" fill="none" stroke="#ffffff" stroke-opacity="0.55" stroke-width="4.35" stroke-linejoin="round"/><polyline points="129.3,557 149.79,557 170.28,557 190.76,557 211.25,557 231.74,557 252.23,557 272.71,557 293.2,555.05 313.69,506.63 334.18,495.69 354.66,490.62 375.15,478.31 395.64,466.21 416.12,461.33 436.61,456.45 457.1,448.44 477.59,443.36 498.07,441.22 518.56,438.68 539.05,436.73 559.54,435.55 580.03,426.77 600.51,419.74 621,431.06 641.49,428.92 661.97,434.77 682.46,428.92 702.95,430.48 723.44,432.24 743.92,420.91 764.41,421.89 784.9,422.28 805.39,425.6 825.88,423.84 846.36,421.89 866.85,421.69 887.34,389.48 907.83,385.57 928.31,421.3 948.8,418.57" fill="none" stroke="#4f9c7f" stroke-opacity="0.16" stroke-width="4.15" stroke-linejoin="round"/><polyline points="129.3,557 149.79,557 170.28,557 190.76,557 211.25,557 231.74,557 252.23,557 272.71,557 293.2,555.05 313.69,506.63 334.18,495.69 354.66,490.62 375.15,478.31 395.64,466.21 416.12,461.33 436.61,456.45 457.1,448.44 477.59,443.36 498.07,441.22 518.56,438.68 539.05,436.73 559.54,435.55 580.03,426.77 600.51,419.74 621,431.06 641.49,428.92 661.97,434.77 682.46,428.92 702.95,430.48 723.44,432.24 743.92,420.91 764.41,421.89 784.9,422.28 805.39,425.6 825.88,423.84 846.36,421.89 866.85,421.69 887.34,389.48 907.83,385.57 928.31,421.3 948.8,418.57" fill="none" stroke="#4f9c7f" stroke-width="2.95" stroke-dasharray="18.88 4.72 2.95 4.72" stroke-linejoin="round"/>
<polyline points="129.3,557 149.79,557 170.28,557 190.76,556.02 211.25,547.24 231.74,524.2 252.23,492.57 272.71,481.44 293.2,470.31 313.69,475.97 334.18,473.04 354.66,468.36 375.15,458.4 395.64,445.32 416.12,444.15 436.61,442 457.1,435.55 477.59,428.92 498.07,427.74 518.56,425.6 539.05,423.06 559.54,424.62 580.03,414.66 600.51,410.37 621,422.86 641.49,419.15 661.97,422.86 682.46,418.57 702.95,422.28 723.44,421.89 743.92,413.1 764.41,414.66 784.9,414.66 805.39,417.59 825.88,413.1 846.36,413.69 866.85,415.44 887.34,381.47 907.83,380.1 928.31,413.1 948.8,410.76" fill="none" stroke="#ffffff" stroke-opacity="0.55" stroke-width="4.35" stroke-linejoin="round"/><polyline points="129.3,557 149.79,557 170.28,557 190.76,556.02 211.25,547.24 231.74,524.2 252.23,492.57 272.71,481.44 293.2,470.31 313.69,475.97 334.18,473.04 354.66,468.36 375.15,458.4 395.64,445.32 416.12,444.15 436.61,442 457.1,435.55 477.59,428.92 498.07,427.74 518.56,425.6 539.05,423.06 559.54,424.62 580.03,414.66 600.51,410.37 621,422.86 641.49,419.15 661.97,422.86 682.46,418.57 702.95,422.28 723.44,421.89 743.92,413.1 764.41,414.66 784.9,414.66 805.39,417.59 825.88,413.1 846.36,413.69 866.85,415.44 887.34,381.47 907.83,380.1 928.31,413.1 948.8,410.76" fill="none" stroke="#2f2784" stroke-opacity="0.16" stroke-width="4.15" stroke-linejoin="round"/><polyline points="129.3,557 149.79,557 170.28,557 190.76,556.02 211.25,547.24 231.74,524.2 252.23,492.57 272.71,481.44 293.2,470.31 313.69,475.97 334.18,473.04 354.66,468.36 375.15,458.4 395.64,445.32 416.12,444.15 436.61,442 457.1,435.55 477.59,428.92 498.07,427.74 518.56,425.6 539.05,423.06 559.54,424.62 580.03,414.66 600.51,410.37 621,422.86 641.49,419.15 661.97,422.86 682.46,418.57 702.95,422.28 723.44,421.89 743.92,413.1 764.41,414.66 784.9,414.66 805.39,417.59 825.88,413.1 846.36,413.69 866.85,415.44 887.34,381.47 907.83,380.1 928.31,413.1 948.8,410.76" fill="none" stroke="#2f2784" stroke-width="2.95" stroke-dasharray="10.92 4.72" stroke-linejoin="round"/>
<polyline points="129.3,557 149.79,557 170.28,557 190.76,557 211.25,555.05 231.74,527.71 252.23,494.52 272.71,483.78 293.2,450.2 313.69,438.68 334.18,419.15 354.66,412.51 375.15,401.58 395.64,388.5 416.12,382.25 436.61,380.69 457.1,376 477.59,374.64 498.07,373.07 518.56,372.1 539.05,371.51 559.54,372.1 580.03,369.36 600.51,367.61 621,371.51 641.49,369.36 661.97,367.61 682.46,368.78 702.95,367.61 723.44,369.76 743.92,365.07 764.41,366.05 784.9,369.36 805.39,367.61 825.88,367.22 846.36,366.05 866.85,366.05 887.34,363.7 907.83,363.7 928.31,368 948.8,365.46" fill="none" stroke="#ffffff" stroke-opacity="0.55" stroke-width="4.35" stroke-linejoin="round"/><polyline points="129.3,557 149.79,557 170.28,557 190.76,557 211.25,555.05 231.74,527.71 252.23,494.52 272.71,483.78 293.2,450.2 313.69,438.68 334.18,419.15 354.66,412.51 375.15,401.58 395.64,388.5 416.12,382.25 436.61,380.69 457.1,376 477.59,374.64 498.07,373.07 518.56,372.1 539.05,371.51 559.54,372.1 580.03,369.36 600.51,367.61 621,371.51 641.49,369.36 661.97,367.61 682.46,368.78 702.95,367.61 723.44,369.76 743.92,365.07 764.41,366.05 784.9,369.36 805.39,367.61 825.88,367.22 846.36,366.05 866.85,366.05 887.34,363.7 907.83,363.7 928.31,368 948.8,365.46" fill="none" stroke="#4936cc" stroke-opacity="0.16" stroke-width="4.15" stroke-linejoin="round"/><polyline points="129.3,557 149.79,557 170.28,557 190.76,557 211.25,555.05 231.74,527.71 252.23,494.52 272.71,483.78 293.2,450.2 313.69,438.68 334.18,419.15 354.66,412.51 375.15,401.58 395.64,388.5 416.12,382.25 436.61,380.69 457.1,376 477.59,374.64 498.07,373.07 518.56,372.1 539.05,371.51 559.54,372.1 580.03,369.36 600.51,367.61 621,371.51 641.49,369.36 661.97,367.61 682.46,368.78 702.95,367.61 723.44,369.76 743.92,365.07 764.41,366.05 784.9,369.36 805.39,367.61 825.88,367.22 846.36,366.05 866.85,366.05 887.34,363.7 907.83,363.7 928.31,368 948.8,365.46" fill="none" stroke="#4936cc" stroke-width="2.95" stroke-dasharray="10.92 4.72" stroke-linejoin="round"/>
<polyline points="129.3,557 149.79,557 170.28,557 190.76,551.53 211.25,513.07 231.74,439.85 252.23,387.52 272.71,376.39 293.2,374.64 313.69,378.35 334.18,381.86 354.66,383.42 375.15,379.71 395.64,372.1 416.12,368.78 436.61,367.22 457.1,365.65 477.59,365.26 498.07,365.07 518.56,365.07 539.05,365.07 559.54,365.07 580.03,365.07 600.51,365.07 621,365.07 641.49,365.07 661.97,365.07 682.46,365.07 702.95,365.07 723.44,365.07 743.92,365.07 764.41,365.07 784.9,365.07 805.39,365.07 825.88,365.07 846.36,365.07 866.85,365.07 887.34,365.07 907.83,365.07 928.31,365.07 948.8,365.07" fill="none" stroke="#ffffff" stroke-opacity="0.55" stroke-width="3.9" stroke-linejoin="round"/><polyline points="129.3,557 149.79,557 170.28,557 190.76,551.53 211.25,513.07 231.74,439.85 252.23,387.52 272.71,376.39 293.2,374.64 313.69,378.35 334.18,381.86 354.66,383.42 375.15,379.71 395.64,372.1 416.12,368.78 436.61,367.22 457.1,365.65 477.59,365.26 498.07,365.07 518.56,365.07 539.05,365.07 559.54,365.07 580.03,365.07 600.51,365.07 621,365.07 641.49,365.07 661.97,365.07 682.46,365.07 702.95,365.07 723.44,365.07 743.92,365.07 764.41,365.07 784.9,365.07 805.39,365.07 825.88,365.07 846.36,365.07 866.85,365.07 887.34,365.07 907.83,365.07 928.31,365.07 948.8,365.07" fill="none" stroke="#e8e04c" stroke-opacity="0.16" stroke-width="3.7" stroke-linejoin="round"/><polyline points="129.3,557 149.79,557 170.28,557 190.76,551.53 211.25,513.07 231.74,439.85 252.23,387.52 272.71,376.39 293.2,374.64 313.69,378.35 334.18,381.86 354.66,383.42 375.15,379.71 395.64,372.1 416.12,368.78 436.61,367.22 457.1,365.65 477.59,365.26 498.07,365.07 518.56,365.07 539.05,365.07 559.54,365.07 580.03,365.07 600.51,365.07 621,365.07 641.49,365.07 661.97,365.07 682.46,365.07 702.95,365.07 723.44,365.07 743.92,365.07 764.41,365.07 784.9,365.07 805.39,365.07 825.88,365.07 846.36,365.07 866.85,365.07 887.34,365.07 907.83,365.07 928.31,365.07 948.8,365.07" fill="none" stroke="#e8e04c" stroke-width="2.5" stroke-dasharray="9.25 4" stroke-linejoin="round"/>
<polyline points="129.3,557 149.79,557 170.28,555.05 190.76,512.09 211.25,436.92 231.74,411.54 252.23,384.01 272.71,373.07 293.2,369.76 313.69,371.51 334.18,376.78 354.66,379.71 375.15,377.57 395.64,370.34 416.12,367.22 436.61,366.63 457.1,365.07 477.59,364.87 498.07,364.68 518.56,364.68 539.05,364.68 559.54,364.68 580.03,364.68 600.51,364.68 621,364.68 641.49,364.68 661.97,364.68 682.46,364.68 702.95,364.68 723.44,364.68 743.92,364.68 764.41,364.68 784.9,364.68 805.39,364.68 825.88,364.68 846.36,364.68 866.85,364.68 887.34,364.68 907.83,364.68 928.31,364.68 948.8,364.68" fill="none" stroke="#ffffff" stroke-opacity="0.55" stroke-width="3.9" stroke-linejoin="round"/><polyline points="129.3,557 149.79,557 170.28,555.05 190.76,512.09 211.25,436.92 231.74,411.54 252.23,384.01 272.71,373.07 293.2,369.76 313.69,371.51 334.18,376.78 354.66,379.71 375.15,377.57 395.64,370.34 416.12,367.22 436.61,366.63 457.1,365.07 477.59,364.87 498.07,364.68 518.56,364.68 539.05,364.68 559.54,364.68 580.03,364.68 600.51,364.68 621,364.68 641.49,364.68 661.97,364.68 682.46,364.68 702.95,364.68 723.44,364.68 743.92,364.68 764.41,364.68 784.9,364.68 805.39,364.68 825.88,364.68 846.36,364.68 866.85,364.68 887.34,364.68 907.83,364.68 928.31,364.68 948.8,364.68" fill="none" stroke="#e3a23f" stroke-opacity="0.16" stroke-width="3.7" stroke-linejoin="round"/><polyline points="129.3,557 149.79,557 170.28,555.05 190.76,512.09 211.25,436.92 231.74,411.54 252.23,384.01 272.71,373.07 293.2,369.76 313.69,371.51 334.18,376.78 354.66,379.71 375.15,377.57 395.64,370.34 416.12,367.22 436.61,366.63 457.1,365.07 477.59,364.87 498.07,364.68 518.56,364.68 539.05,364.68 559.54,364.68 580.03,364.68 600.51,364.68 621,364.68 641.49,364.68 661.97,364.68 682.46,364.68 702.95,364.68 723.44,364.68 743.92,364.68 764.41,364.68 784.9,364.68 805.39,364.68 825.88,364.68 846.36,364.68 866.85,364.68 887.34,364.68 907.83,364.68 928.31,364.68 948.8,364.68" fill="none" stroke="#e3a23f" stroke-width="2.5" stroke-dasharray="9.25 4" stroke-linejoin="round"/>
<polyline points="129.3,557 149.79,400.8 170.28,370.93 190.76,366.05 211.25,365.26 231.74,364.87 252.23,364.68 272.71,364.68 293.2,364.68 313.69,364.68 334.18,364.68 354.66,364.68 375.15,364.68 395.64,364.68 416.12,364.68 436.61,364.68 457.1,364.68 477.59,364.68 498.07,364.68 518.56,364.68 539.05,364.68 559.54,364.68 580.03,364.68 600.51,364.68 621,364.68 641.49,364.68 661.97,364.68 682.46,364.68 702.95,364.68 723.44,364.68 743.92,364.68 764.41,364.68 784.9,364.68 805.39,364.68 825.88,364.68 846.36,364.68 866.85,364.68 887.34,364.68 907.83,364.68 928.31,364.68 948.8,364.68" fill="none" stroke="#b855d8" stroke-width="2.4" stroke-linejoin="round"/>
<polyline points="129.3,516 149.79,404.71 170.28,369.56 190.76,367.61 211.25,367.22 231.74,367.22 252.23,367.22 272.71,367.22 293.2,367.22 313.69,367.22 334.18,367.41 354.66,368.58 375.15,367.22 395.64,365.65 416.12,364.68 436.61,364.29 457.1,364.29 477.59,364.29 498.07,364.29 518.56,364.29 539.05,364.29 559.54,364.29 580.03,364.29 600.51,364.29 621,364.29 641.49,364.29 661.97,364.29 682.46,364.29 702.95,364.29 723.44,364.29 743.92,364.29 764.41,364.29 784.9,364.29 805.39,364.29 825.88,364.29 846.36,364.29 866.85,364.29 887.34,364.29 907.83,364.29 928.31,364.29 948.8,364.29" fill="none" stroke="#c4383f" stroke-width="2.5" stroke-linejoin="round"/>
<polyline points="129.3,508.19 149.79,400.8 170.28,366.63 190.76,364.68 211.25,364.09 231.74,363.9 252.23,363.9 272.71,363.9 293.2,363.9 313.69,363.9 334.18,363.9 354.66,363.9 375.15,363.9 395.64,363.9 416.12,363.9 436.61,363.9 457.1,363.9 477.59,363.9 498.07,363.9 518.56,363.9 539.05,363.9 559.54,363.9 580.03,363.9 600.51,363.9 621,363.9 641.49,363.9 661.97,363.9 682.46,363.9 702.95,363.9 723.44,363.9 743.92,363.9 764.41,363.9 784.9,363.9 805.39,363.9 825.88,363.9 846.36,363.9 866.85,363.9 887.34,363.9 907.83,363.9 928.31,363.9 948.8,363.9" fill="none" stroke="#86d06e" stroke-width="2.2" stroke-linejoin="round"/>
<polyline points="129.3,403.73 149.79,385.18 170.28,366.63 190.76,364.29 211.25,363.31 231.74,363.12 252.23,363.12 272.71,363.12 293.2,363.12 313.69,363.12 334.18,363.12 354.66,363.12 375.15,363.12 395.64,362.92 416.12,362.92 436.61,362.92 457.1,362.92 477.59,362.92 498.07,362.92 518.56,362.92 539.05,362.92 559.54,362.92 580.03,362.92 600.51,362.92 621,362.92 641.49,362.92 661.97,362.92 682.46,362.92 702.95,362.92 723.44,362.92 743.92,362.92 764.41,362.92 784.9,362.92 805.39,362.92 825.88,362.92 846.36,362.92 866.85,362.92 887.34,362.92 907.83,362.92 928.31,362.92 948.8,362.92" fill="none" stroke="#5fa4da" stroke-width="2.9" stroke-linejoin="round"/>
</g>
<path d="M129.3 337.4H948.8V581.3" fill="none" stroke="#e4e5e8" stroke-width="1.1"/>
<path d="M129.3 337.4V581.3H948.8" fill="none" stroke="#d3d4d7" stroke-width="1.2"/>
<path d="M115.1 557H129.3M115.1 517.95H129.3M115.1 478.9H129.3M115.1 439.85H129.3M115.1 400.8H129.3M115.1 361.75H129.3M129.3 581.3V595.8M246.37 581.3V595.8M363.44 581.3V595.8M480.51 581.3V595.8M597.59 581.3V595.8M714.66 581.3V595.8M831.73 581.3V595.8M948.8 581.3V595.8" stroke="#7a7a7e" stroke-width="1.3" fill="none"/>
<text x="104.1" y="564.3" text-anchor="end" font-family="'Liberation Sans', sans-serif" font-size="21.5" fill="#4d4d56">0</text>
<text x="104.1" y="525.25" text-anchor="end" font-family="'Liberation Sans', sans-serif" font-size="21.5" fill="#4d4d56">20</text>
<text x="104.1" y="486.2" text-anchor="end" font-family="'Liberation Sans', sans-serif" font-size="21.5" fill="#4d4d56">40</text>
<text x="104.1" y="447.15" text-anchor="end" font-family="'Liberation Sans', sans-serif" font-size="21.5" fill="#4d4d56">60</text>
<text x="104.1" y="408.1" text-anchor="end" font-family="'Liberation Sans', sans-serif" font-size="21.5" fill="#4d4d56">80</text>
<text x="104.1" y="369.05" text-anchor="end" font-family="'Liberation Sans', sans-serif" font-size="21.5" fill="#4d4d56">100</text>
<text x="129.3" y="621.6" text-anchor="middle" font-family="'Liberation Sans', sans-serif" font-size="21.5" fill="#4d4d56">0.0</text>
<text x="246.37" y="621.6" text-anchor="middle" font-family="'Liberation Sans', sans-serif" font-size="21.5" fill="#4d4d56">0.2</text>
<text x="363.44" y="621.6" text-anchor="middle" font-family="'Liberation Sans', sans-serif" font-size="21.5" fill="#4d4d56">0.4</text>
<text x="480.51" y="621.6" text-anchor="middle" font-family="'Liberation Sans', sans-serif" font-size="21.5" fill="#4d4d56">0.6</text>
<text x="597.59" y="621.6" text-anchor="middle" font-family="'Liberation Sans', sans-serif" font-size="21.5" fill="#4d4d56">0.8</text>
<text x="714.66" y="621.6" text-anchor="middle" font-family="'Liberation Sans', sans-serif" font-size="21.5" fill="#4d4d56">1.0</text>
<text x="831.73" y="621.6" text-anchor="middle" font-family="'Liberation Sans', sans-serif" font-size="21.5" fill="#4d4d56">1.2</text>
<text x="948.8" y="621.6" text-anchor="middle" font-family="'Liberation Sans', sans-serif" font-size="21.5" fill="#4d4d56">1.4</text>
<text x="539.05" y="654.2" text-anchor="middle" textLength="109.5" lengthAdjust="spacingAndGlyphs" font-family="'Liberation Sans', sans-serif" font-size="24.5" fill="#4d4d56">Episodes</text>
<text x="948.5" y="644" text-anchor="end" font-family="'DejaVu Sans', 'Liberation Sans', sans-serif" font-size="20.4" fill="#3c3c44">1e6</text>
<text transform="translate(55.9 459.35) rotate(-90)" text-anchor="middle" textLength="135.4" lengthAdjust="spacingAndGlyphs" font-family="'Liberation Sans', sans-serif" font-size="24.5" fill="#4d4d56">% episodes</text>
<g transform="translate(156.1 388.4)"><circle r="22.3" fill="#e2c2ed" fill-opacity="0.86" stroke="#d093e4" stroke-width="1.1"/><use href="#i-crafting"/></g>
<g transform="translate(205.8 367.2)"><circle r="22.3" fill="#e6b8ba" fill-opacity="0.86" stroke="#d78185" stroke-width="1.1"/><use href="#i-sticks"/></g>
<g transform="translate(259.1 363.9)"><circle r="22.3" fill="#d1eaca" fill-opacity="0.86" stroke="#b1dfa2" stroke-width="1.1"/><use href="#i-planks"/></g>
<g transform="translate(312.5 363.7)"><circle r="22.3" fill="#c4dced" fill-opacity="0.86" stroke="#98c4e5" stroke-width="1.1"/><use href="#i-logs"/></g>
<g transform="translate(193.3 502.3)"><circle r="22.3" fill="#f0dbba" fill-opacity="0.86" stroke="#eac285" stroke-width="1.1"/><use href="#i-wpick"/></g>
<g transform="translate(226.5 459.4)"><circle r="22.3" fill="#f1efbf" fill-opacity="0.86" stroke="#ede98d" stroke-width="1.1"/><use href="#i-cobble"/></g>
<g transform="translate(276.4 487.7)"><circle r="22.3" fill="#bdb7e9" fill-opacity="0.86" stroke="#8b7fdc" stroke-width="1.1"/><use href="#i-spick"/></g>
<g transform="translate(329.4 473.2)"><circle r="22.3" fill="#bcb4e6" fill-opacity="0.86" stroke="#7f76cf" stroke-width="1.1"/><use href="#i-coal"/></g>
<g transform="translate(381.4 459.6)"><circle r="22.3" fill="#d3d4db" fill-opacity="0.86" stroke="#b5b5c2" stroke-width="1.1"/><use href="#i-ore"/></g>
<g transform="translate(437.7 459.6)"><circle r="22.3" fill="#bfd9cf" fill-opacity="0.86" stroke="#8ebfad" stroke-width="1.1"/><use href="#i-torch"/></g>
<g transform="translate(570.5 460)"><circle r="22.3" fill="#cff1e7" fill-opacity="0.86" stroke="#adecd9" stroke-width="1.1"/><use href="#i-furnace"/></g>
<g transform="translate(761.3 556.8)"><circle r="22.3" fill="#aaabab" fill-opacity="0.86" stroke="#686868" stroke-width="1.1"/><use href="#i-ingot"/></g>
<g transform="translate(814.5 556.8)"><circle r="22.3" fill="#c4dced" fill-opacity="0.86" stroke="#98c4e5" stroke-width="1.1"/><use href="#i-ipick"/></g>
<g transform="translate(868.3 556.8)"><circle r="22.3" fill="#d1eaca" fill-opacity="0.86" stroke="#b1dfa2" stroke-width="1.1"/><use href="#i-diamond"/></g>
<g transform="translate(922.1 556.8)"><circle r="22.3" fill="#e6b8ba" fill-opacity="0.86" stroke="#d78185" stroke-width="1.1"/><use href="#i-dpick"/></g>
<text x="539" y="331" text-anchor="middle" textLength="330" lengthAdjust="spacingAndGlyphs" font-family="'Liberation Sans', sans-serif" font-weight="bold" font-size="25" fill="#454552">RL from VPT Found. model</text>
<text x="33.3" y="328.75" textLength="30.5" lengthAdjust="spacingAndGlyphs" font-family="'Liberation Serif', serif" font-weight="bold" font-size="27.8" fill="#111">(c)</text>
<rect x="1078.8" y="337.3" width="819.4" height="244" fill="#f6f7f7"/>
<path d="M1195.86 337.3V581.3M1312.91 337.3V581.3M1429.97 337.3V581.3M1547.03 337.3V581.3M1664.09 337.3V581.3M1781.14 337.3V581.3M1078.8 557H1898.2M1078.8 517.95H1898.2M1078.8 478.9H1898.2M1078.8 439.85H1898.2M1078.8 400.8H1898.2M1078.8 361.75H1898.2" stroke="#e3e4e7" stroke-width="1.1" fill="none"/>
<g clip-path="url(#cd)">
<polyline points="1078.8,557 1099.28,557 1119.77,557 1140.25,557 1160.74,557 1181.22,557 1201.71,557 1222.19,557 1242.68,557 1263.16,557 1283.65,557 1304.13,557 1324.62,557 1345.11,557 1365.59,557 1386.08,557 1406.56,557 1427.05,557 1447.53,557 1468.01,557 1488.5,557 1508.99,557 1529.47,557 1549.95,557 1570.44,556.61 1590.93,556.41 1611.41,556.02 1631.89,555.44 1652.38,554.85 1672.87,553.68 1693.35,553.68 1713.84,553.68 1734.32,551.92 1754.81,553.1 1775.29,553.29 1795.78,552.12 1816.26,551.53 1836.74,549.39 1857.23,547.24 1877.72,551.53 1898.2,552.12" fill="none" stroke="#ffffff" stroke-opacity="0.55" stroke-width="4.35" stroke-linejoin="round"/><polyline points="1078.8,557 1099.28,557 1119.77,557 1140.25,557 1160.74,557 1181.22,557 1201.71,557 1222.19,557 1242.68,557 1263.16,557 1283.65,557 1304.13,557 1324.62,557 1345.11,557 1365.59,557 1386.08,557 1406.56,557 1427.05,557 1447.53,557 1468.01,557 1488.5,557 1508.99,557 1529.47,557 1549.95,557 1570.44,556.61 1590.93,556.41 1611.41,556.02 1631.89,555.44 1652.38,554.85 1672.87,553.68 1693.35,553.68 1713.84,553.68 1734.32,551.92 1754.81,553.1 1775.29,553.29 1795.78,552.12 1816.26,551.53 1836.74,549.39 1857.23,547.24 1877.72,551.53 1898.2,552.12" fill="none" stroke="#c4383f" stroke-opacity="0.16" stroke-width="4.15" stroke-linejoin="round"/><polyline points="1078.8,557 1099.28,557 1119.77,557 1140.25,557 1160.74,557 1181.22,557 1201.71,557 1222.19,557 1242.68,557 1263.16,557 1283.65,557 1304.13,557 1324.62,557 1345.11,557 1365.59,557 1386.08,557 1406.56,557 1427.05,557 1447.53,557 1468.01,557 1488.5,557 1508.99,557 1529.47,557 1549.95,557 1570.44,556.61 1590.93,556.41 1611.41,556.02 1631.89,555.44 1652.38,554.85 1672.87,553.68 1693.35,553.68 1713.84,553.68 1734.32,551.92 1754.81,553.1 1775.29,553.29 1795.78,552.12 1816.26,551.53 1836.74,549.39 1857.23,547.24 1877.72,551.53 1898.2,552.12" fill="none" stroke="#c4383f" stroke-width="2.95" stroke-dasharray="8.85 2.95 2.95 2.95 2.95 2.95" stroke-linejoin="round"/>
<polyline points="1078.8,557 1099.28,557 1119.77,557 1140.25,557 1160.74,557 1181.22,557 1201.71,557 1222.19,557 1242.68,557 1263.16,557 1283.65,557 1304.13,557 1324.62,557 1345.11,557 1365.59,557 1386.08,557 1406.56,557 1427.05,556.61 1447.53,555.44 1468.01,554.07 1488.5,552.7 1508.99,547.24 1529.47,545.48 1549.95,540.21 1570.44,541.77 1590.93,542.16 1611.41,541.77 1631.89,536.3 1652.38,535.72 1672.87,532.4 1693.35,528.69 1713.84,535.72 1734.32,532.98 1754.81,536.3 1775.29,536.3 1795.78,535.72 1816.26,525.76 1836.74,524.2 1857.23,516.97 1877.72,522.05 1898.2,521.27" fill="none" stroke="#ffffff" stroke-opacity="0.55" stroke-width="4.35" stroke-linejoin="round"/><polyline points="1078.8,557 1099.28,557 1119.77,557 1140.25,557 1160.74,557 1181.22,557 1201.71,557 1222.19,557 1242.68,557 1263.16,557 1283.65,557 1304.13,557 1324.62,557 1345.11,557 1365.59,557 1386.08,557 1406.56,557 1427.05,556.61 1447.53,555.44 1468.01,554.07 1488.5,552.7 1508.99,547.24 1529.47,545.48 1549.95,540.21 1570.44,541.77 1590.93,542.16 1611.41,541.77 1631.89,536.3 1652.38,535.72 1672.87,532.4 1693.35,528.69 1713.84,535.72 1734.32,532.98 1754.81,536.3 1775.29,536.3 1795.78,535.72 1816.26,525.76 1836.74,524.2 1857.23,516.97 1877.72,522.05 1898.2,521.27" fill="none" stroke="#86d06e" stroke-opacity="0.16" stroke-width="4.15" stroke-linejoin="round"/><polyline points="1078.8,557 1099.28,557 1119.77,557 1140.25,557 1160.74,557 1181.22,557 1201.71,557 1222.19,557 1242.68,557 1263.16,557 1283.65,557 1304.13,557 1324.62,557 1345.11,557 1365.59,557 1386.08,557 1406.56,557 1427.05,556.61 1447.53,555.44 1468.01,554.07 1488.5,552.7 1508.99,547.24 1529.47,545.48 1549.95,540.21 1570.44,541.77 1590.93,542.16 1611.41,541.77 1631.89,536.3 1652.38,535.72 1672.87,532.4 1693.35,528.69 1713.84,535.72 1734.32,532.98 1754.81,536.3 1775.29,536.3 1795.78,535.72 1816.26,525.76 1836.74,524.2 1857.23,516.97 1877.72,522.05 1898.2,521.27" fill="none" stroke="#86d06e" stroke-width="2.95" stroke-dasharray="8.85 2.95 2.95 2.95 2.95 2.95" stroke-linejoin="round"/>
<polyline points="1078.8,557 1099.28,557 1119.77,557 1140.25,557 1160.74,557 1181.22,557 1201.71,557 1222.19,557 1242.68,557 1263.16,557 1283.65,557 1304.13,557 1324.62,557 1345.11,557 1365.59,556.02 1386.08,553.68 1406.56,547.24 1427.05,512.09 1447.53,484.76 1468.01,475 1488.5,457.42 1508.99,451.96 1529.47,465.04 1549.95,449.03 1570.44,451.96 1590.93,451.17 1611.41,447.46 1631.89,439.85 1652.38,415.83 1672.87,414.66 1693.35,405.29 1713.84,419.15 1734.32,417.59 1754.81,424.03 1775.29,427.74 1795.78,420.13 1816.26,410.37 1836.74,391.82 1857.23,387.72 1877.72,389.48 1898.2,388.5" fill="none" stroke="#ffffff" stroke-opacity="0.55" stroke-width="4.35" stroke-linejoin="round"/><polyline points="1078.8,557 1099.28,557 1119.77,557 1140.25,557 1160.74,557 1181.22,557 1201.71,557 1222.19,557 1242.68,557 1263.16,557 1283.65,557 1304.13,557 1324.62,557 1345.11,557 1365.59,556.02 1386.08,553.68 1406.56,547.24 1427.05,512.09 1447.53,484.76 1468.01,475 1488.5,457.42 1508.99,451.96 1529.47,465.04 1549.95,449.03 1570.44,451.96 1590.93,451.17 1611.41,447.46 1631.89,439.85 1652.38,415.83 1672.87,414.66 1693.35,405.29 1713.84,419.15 1734.32,417.59 1754.81,424.03 1775.29,427.74 1795.78,420.13 1816.26,410.37 1836.74,391.82 1857.23,387.72 1877.72,389.48 1898.2,388.5" fill="none" stroke="#5fa4da" stroke-opacity="0.16" stroke-width="4.15" stroke-linejoin="round"/><polyline points="1078.8,557 1099.28,557 1119.77,557 1140.25,557 1160.74,557 1181.22,557 1201.71,557 1222.19,557 1242.68,557 1263.16,557 1283.65,557 1304.13,557 1324.62,557 1345.11,557 1365.59,556.02 1386.08,553.68 1406.56,547.24 1427.05,512.09 1447.53,484.76 1468.01,475 1488.5,457.42 1508.99,451.96 1529.47,465.04 1549.95,449.03 1570.44,451.96 1590.93,451.17 1611.41,447.46 1631.89,439.85 1652.38,415.83 1672.87,414.66 1693.35,405.29 1713.84,419.15 1734.32,417.59 1754.81,424.03 1775.29,427.74 1795.78,420.13 1816.26,410.37 1836.74,391.82 1857.23,387.72 1877.72,389.48 1898.2,388.5" fill="none" stroke="#5fa4da" stroke-width="2.95" stroke-dasharray="8.85 2.95 2.95 2.95 2.95 2.95" stroke-linejoin="round"/>
<polyline points="1078.8,557 1099.28,557 1119.77,557 1140.25,557 1160.74,557 1181.22,557 1201.71,557 1222.19,556.02 1242.68,555.44 1263.16,556.02 1283.65,554.85 1304.13,553.68 1324.62,552.7 1345.11,546.65 1365.59,525.37 1386.08,501.16 1406.56,465.23 1427.05,444.15 1447.53,426.77 1468.01,420.33 1488.5,412.51 1508.99,409.59 1529.47,431.45 1549.95,425.21 1570.44,428.92 1590.93,431.45 1611.41,424.62 1631.89,417.59 1652.38,390.65 1672.87,388.5 1693.35,384.79 1713.84,394.36 1734.32,392.79 1754.81,403.73 1775.29,408.22 1795.78,402.17 1816.26,388.5 1836.74,373.07 1857.23,369.76 1877.72,370.93 1898.2,369.76" fill="none" stroke="#ffffff" stroke-opacity="0.55" stroke-width="4.35" stroke-linejoin="round"/><polyline points="1078.8,557 1099.28,557 1119.77,557 1140.25,557 1160.74,557 1181.22,557 1201.71,557 1222.19,556.02 1242.68,555.44 1263.16,556.02 1283.65,554.85 1304.13,553.68 1324.62,552.7 1345.11,546.65 1365.59,525.37 1386.08,501.16 1406.56,465.23 1427.05,444.15 1447.53,426.77 1468.01,420.33 1488.5,412.51 1508.99,409.59 1529.47,431.45 1549.95,425.21 1570.44,428.92 1590.93,431.45 1611.41,424.62 1631.89,417.59 1652.38,390.65 1672.87,388.5 1693.35,384.79 1713.84,394.36 1734.32,392.79 1754.81,403.73 1775.29,408.22 1795.78,402.17 1816.26,388.5 1836.74,373.07 1857.23,369.76 1877.72,370.93 1898.2,369.76" fill="none" stroke="#111111" stroke-opacity="0.16" stroke-width="4.15" stroke-linejoin="round"/><polyline points="1078.8,557 1099.28,557 1119.77,557 1140.25,557 1160.74,557 1181.22,557 1201.71,557 1222.19,556.02 1242.68,555.44 1263.16,556.02 1283.65,554.85 1304.13,553.68 1324.62,552.7 1345.11,546.65 1365.59,525.37 1386.08,501.16 1406.56,465.23 1427.05,444.15 1447.53,426.77 1468.01,420.33 1488.5,412.51 1508.99,409.59 1529.47,431.45 1549.95,425.21 1570.44,428.92 1590.93,431.45 1611.41,424.62 1631.89,417.59 1652.38,390.65 1672.87,388.5 1693.35,384.79 1713.84,394.36 1734.32,392.79 1754.81,403.73 1775.29,408.22 1795.78,402.17 1816.26,388.5 1836.74,373.07 1857.23,369.76 1877.72,370.93 1898.2,369.76" fill="none" stroke="#111111" stroke-width="2.95" stroke-dasharray="18.88 4.72 2.95 4.72" stroke-linejoin="round"/>
<polyline points="1078.8,557 1099.28,557 1119.77,557 1140.25,556.02 1160.74,552.12 1181.22,544.31 1201.71,504.28 1222.19,471.09 1242.68,486.71 1263.16,461.33 1283.65,439.85 1304.13,431.06 1324.62,427.74 1345.11,427.74 1365.59,428.92 1386.08,413.69 1406.56,391.82 1427.05,392.79 1447.53,391.23 1468.01,391.82 1488.5,389.09 1508.99,385.18 1529.47,412.51 1549.95,406.66 1570.44,410.37 1590.93,410.37 1611.41,407.05 1631.89,397.29 1652.38,379.71 1672.87,379.71 1693.35,378.54 1713.84,383.42 1734.32,383.62 1754.81,389.48 1775.29,392.21 1795.78,389.48 1816.26,379.71 1836.74,368.78 1857.23,367.61 1877.72,369.36 1898.2,369.36" fill="none" stroke="#ffffff" stroke-opacity="0.55" stroke-width="4.35" stroke-linejoin="round"/><polyline points="1078.8,557 1099.28,557 1119.77,557 1140.25,556.02 1160.74,552.12 1181.22,544.31 1201.71,504.28 1222.19,471.09 1242.68,486.71 1263.16,461.33 1283.65,439.85 1304.13,431.06 1324.62,427.74 1345.11,427.74 1365.59,428.92 1386.08,413.69 1406.56,391.82 1427.05,392.79 1447.53,391.23 1468.01,391.82 1488.5,389.09 1508.99,385.18 1529.47,412.51 1549.95,406.66 1570.44,410.37 1590.93,410.37 1611.41,407.05 1631.89,397.29 1652.38,379.71 1672.87,379.71 1693.35,378.54 1713.84,383.42 1734.32,383.62 1754.81,389.48 1775.29,392.21 1795.78,389.48 1816.26,379.71 1836.74,368.78 1857.23,367.61 1877.72,369.36 1898.2,369.36" fill="none" stroke="#8d8da2" stroke-opacity="0.16" stroke-width="4.15" stroke-linejoin="round"/><polyline points="1078.8,557 1099.28,557 1119.77,557 1140.25,556.02 1160.74,552.12 1181.22,544.31 1201.71,504.28 1222.19,471.09 1242.68,486.71 1263.16,461.33 1283.65,439.85 1304.13,431.06 1324.62,427.74 1345.11,427.74 1365.59,428.92 1386.08,413.69 1406.56,391.82 1427.05,392.79 1447.53,391.23 1468.01,391.82 1488.5,389.09 1508.99,385.18 1529.47,412.51 1549.95,406.66 1570.44,410.37 1590.93,410.37 1611.41,407.05 1631.89,397.29 1652.38,379.71 1672.87,379.71 1693.35,378.54 1713.84,383.42 1734.32,383.62 1754.81,389.48 1775.29,392.21 1795.78,389.48 1816.26,379.71 1836.74,368.78 1857.23,367.61 1877.72,369.36 1898.2,369.36" fill="none" stroke="#8d8da2" stroke-width="2.95" stroke-dasharray="18.88 4.72 2.95 4.72" stroke-linejoin="round"/>
<polyline points="1078.8,557 1099.28,557 1119.77,557 1140.25,557 1160.74,557 1181.22,556.02 1201.71,553.1 1222.19,529.66 1242.68,504.28 1263.16,469.14 1283.65,445.71 1304.13,437.9 1324.62,432.04 1345.11,428.92 1365.59,432.24 1386.08,412.51 1406.56,377.57 1427.05,376 1447.53,375.42 1468.01,370.93 1488.5,369.36 1508.99,370.34 1529.47,397.29 1549.95,393.38 1570.44,398.26 1590.93,402.17 1611.41,395.53 1631.89,385.18 1652.38,367.61 1672.87,365.46 1693.35,365.46 1713.84,372.1 1734.32,373.07 1754.81,380.69 1775.29,387.33 1795.78,384.01 1816.26,374.25 1836.74,365.07 1857.23,366.63 1877.72,367.61 1898.2,367.61" fill="none" stroke="#ffffff" stroke-opacity="0.55" stroke-width="4.35" stroke-linejoin="round"/><polyline points="1078.8,557 1099.28,557 1119.77,557 1140.25,557 1160.74,557 1181.22,556.02 1201.71,553.1 1222.19,529.66 1242.68,504.28 1263.16,469.14 1283.65,445.71 1304.13,437.9 1324.62,432.04 1345.11,428.92 1365.59,432.24 1386.08,412.51 1406.56,377.57 1427.05,376 1447.53,375.42 1468.01,370.93 1488.5,369.36 1508.99,370.34 1529.47,397.29 1549.95,393.38 1570.44,398.26 1590.93,402.17 1611.41,395.53 1631.89,385.18 1652.38,367.61 1672.87,365.46 1693.35,365.46 1713.84,372.1 1734.32,373.07 1754.81,380.69 1775.29,387.33 1795.78,384.01 1816.26,374.25 1836.74,365.07 1857.23,366.63 1877.72,367.61 1898.2,367.61" fill="none" stroke="#80e6c6" stroke-opacity="0.16" stroke-width="4.15" stroke-linejoin="round"/><polyline points="1078.8,557 1099.28,557 1119.77,557 1140.25,557 1160.74,557 1181.22,556.02 1201.71,553.1 1222.19,529.66 1242.68,504.28 1263.16,469.14 1283.65,445.71 1304.13,437.9 1324.62,432.04 1345.11,428.92 1365.59,432.24 1386.08,412.51 1406.56,377.57 1427.05,376 1447.53,375.42 1468.01,370.93 1488.5,369.36 1508.99,370.34 1529.47,397.29 1549.95,393.38 1570.44,398.26 1590.93,402.17 1611.41,395.53 1631.89,385.18 1652.38,367.61 1672.87,365.46 1693.35,365.46 1713.84,372.1 1734.32,373.07 1754.81,380.69 1775.29,387.33 1795.78,384.01 1816.26,374.25 1836.74,365.07 1857.23,366.63 1877.72,367.61 1898.2,367.61" fill="none" stroke="#80e6c6" stroke-width="2.95" stroke-dasharray="18.88 4.72 2.95 4.72" stroke-linejoin="round"/>
<polyline points="1078.8,557 1099.28,557 1119.77,557 1140.25,556.02 1160.74,553.1 1181.22,545.28 1201.71,508.19 1222.19,473.04 1242.68,492.57 1263.16,469.14 1283.65,444.73 1304.13,435.94 1324.62,431.06 1345.11,428.92 1365.59,436.53 1386.08,421.3 1406.56,401.58 1427.05,397.29 1447.53,392.79 1468.01,390.65 1488.5,388.5 1508.99,387.72 1529.47,421.89 1549.95,419.15 1570.44,419.74 1590.93,417.59 1611.41,420.52 1631.89,405.88 1652.38,382.45 1672.87,382.45 1693.35,380.69 1713.84,400.41 1734.32,406.66 1754.81,407.44 1775.29,405.88 1795.78,407.05 1816.26,390.65 1836.74,380.3 1857.23,371.51 1877.72,373.07 1898.2,372.1" fill="none" stroke="#ffffff" stroke-opacity="0.55" stroke-width="4.35" stroke-linejoin="round"/><polyline points="1078.8,557 1099.28,557 1119.77,557 1140.25,556.02 1160.74,553.1 1181.22,545.28 1201.71,508.19 1222.19,473.04 1242.68,492.57 1263.16,469.14 1283.65,444.73 1304.13,435.94 1324.62,431.06 1345.11,428.92 1365.59,436.53 1386.08,421.3 1406.56,401.58 1427.05,397.29 1447.53,392.79 1468.01,390.65 1488.5,388.5 1508.99,387.72 1529.47,421.89 1549.95,419.15 1570.44,419.74 1590.93,417.59 1611.41,420.52 1631.89,405.88 1652.38,382.45 1672.87,382.45 1693.35,380.69 1713.84,400.41 1734.32,406.66 1754.81,407.44 1775.29,405.88 1795.78,407.05 1816.26,390.65 1836.74,380.3 1857.23,371.51 1877.72,373.07 1898.2,372.1" fill="none" stroke="#4f9c7f" stroke-opacity="0.16" stroke-width="4.15" stroke-linejoin="round"/><polyline points="1078.8,557 1099.28,557 1119.77,557 1140.25,556.02 1160.74,553.1 1181.22,545.28 1201.71,508.19 1222.19,473.04 1242.68,492.57 1263.16,469.14 1283.65,444.73 1304.13,435.94 1324.62,431.06 1345.11,428.92 1365.59,436.53 1386.08,421.3 1406.56,401.58 1427.05,397.29 1447.53,392.79 1468.01,390.65 1488.5,388.5 1508.99,387.72 1529.47,421.89 1549.95,419.15 1570.44,419.74 1590.93,417.59 1611.41,420.52 1631.89,405.88 1652.38,382.45 1672.87,382.45 1693.35,380.69 1713.84,400.41 1734.32,406.66 1754.81,407.44 1775.29,405.88 1795.78,407.05 1816.26,390.65 1836.74,380.3 1857.23,371.51 1877.72,373.07 1898.2,372.1" fill="none" stroke="#4f9c7f" stroke-width="2.95" stroke-dasharray="18.88 4.72 2.95 4.72" stroke-linejoin="round"/>
<polyline points="1078.8,557 1099.28,557 1119.77,556.02 1140.25,553.1 1160.74,530.64 1181.22,512.09 1201.71,498.43 1222.19,465.23 1242.68,484.76 1263.16,463.28 1283.65,436.53 1304.13,427.74 1324.62,423.45 1345.11,423.84 1365.59,426.77 1386.08,411.34 1406.56,390.65 1427.05,389.48 1447.53,384.01 1468.01,383.03 1488.5,383.03 1508.99,380.69 1529.47,414.66 1549.95,412.51 1570.44,413.1 1590.93,410.37 1611.41,414.08 1631.89,400.41 1652.38,378.15 1672.87,379.13 1693.35,376.78 1713.84,392.79 1734.32,398.26 1754.81,401 1775.29,399.43 1795.78,401.58 1816.26,386.16 1836.74,375.22 1857.23,369.36 1877.72,370.93 1898.2,369.76" fill="none" stroke="#ffffff" stroke-opacity="0.55" stroke-width="4.35" stroke-linejoin="round"/><polyline points="1078.8,557 1099.28,557 1119.77,556.02 1140.25,553.1 1160.74,530.64 1181.22,512.09 1201.71,498.43 1222.19,465.23 1242.68,484.76 1263.16,463.28 1283.65,436.53 1304.13,427.74 1324.62,423.45 1345.11,423.84 1365.59,426.77 1386.08,411.34 1406.56,390.65 1427.05,389.48 1447.53,384.01 1468.01,383.03 1488.5,383.03 1508.99,380.69 1529.47,414.66 1549.95,412.51 1570.44,413.1 1590.93,410.37 1611.41,414.08 1631.89,400.41 1652.38,378.15 1672.87,379.13 1693.35,376.78 1713.84,392.79 1734.32,398.26 1754.81,401 1775.29,399.43 1795.78,401.58 1816.26,386.16 1836.74,375.22 1857.23,369.36 1877.72,370.93 1898.2,369.76" fill="none" stroke="#2f2784" stroke-opacity="0.16" stroke-width="4.15" stroke-linejoin="round"/><polyline points="1078.8,557 1099.28,557 1119.77,556.02 1140.25,553.1 1160.74,530.64 1181.22,512.09 1201.71,498.43 1222.19,465.23 1242.68,484.76 1263.16,463.28 1283.65,436.53 1304.13,427.74 1324.62,423.45 1345.11,423.84 1365.59,426.77 1386.08,411.34 1406.56,390.65 1427.05,389.48 1447.53,384.01 1468.01,383.03 1488.5,383.03 1508.99,380.69 1529.47,414.66 1549.95,412.51 1570.44,413.1 1590.93,410.37 1611.41,414.08 1631.89,400.41 1652.38,378.15 1672.87,379.13 1693.35,376.78 1713.84,392.79 1734.32,398.26 1754.81,401 1775.29,399.43 1795.78,401.58 1816.26,386.16 1836.74,375.22 1857.23,369.36 1877.72,370.93 1898.2,369.76" fill="none" stroke="#2f2784" stroke-width="2.95" stroke-dasharray="10.92 4.72" stroke-linejoin="round"/>
<polyline points="1078.8,557 1099.28,557 1119.77,557 1140.25,555.05 1160.74,515.02 1181.22,496.47 1201.71,477.92 1222.19,411.15 1242.68,459.38 1263.16,409.2 1283.65,378.54 1304.13,374.25 1324.62,367.61 1345.11,372.68 1365.59,375.22 1386.08,365.46 1406.56,364.48 1427.05,364.29 1447.53,364.29 1468.01,364.29 1488.5,364.29 1508.99,364.48 1529.47,369.36 1549.95,366.63 1570.44,367.61 1590.93,367.61 1611.41,367.22 1631.89,366.63 1652.38,364.87 1672.87,364.87 1693.35,364.87 1713.84,364.87 1734.32,365.65 1754.81,364.87 1775.29,364.87 1795.78,365.26 1816.26,364.87 1836.74,364.87 1857.23,364.87 1877.72,364.87 1898.2,364.87" fill="none" stroke="#ffffff" stroke-opacity="0.55" stroke-width="4.35" stroke-linejoin="round"/><polyline points="1078.8,557 1099.28,557 1119.77,557 1140.25,555.05 1160.74,515.02 1181.22,496.47 1201.71,477.92 1222.19,411.15 1242.68,459.38 1263.16,409.2 1283.65,378.54 1304.13,374.25 1324.62,367.61 1345.11,372.68 1365.59,375.22 1386.08,365.46 1406.56,364.48 1427.05,364.29 1447.53,364.29 1468.01,364.29 1488.5,364.29 1508.99,364.48 1529.47,369.36 1549.95,366.63 1570.44,367.61 1590.93,367.61 1611.41,367.22 1631.89,366.63 1652.38,364.87 1672.87,364.87 1693.35,364.87 1713.84,364.87 1734.32,365.65 1754.81,364.87 1775.29,364.87 1795.78,365.26 1816.26,364.87 1836.74,364.87 1857.23,364.87 1877.72,364.87 1898.2,364.87" fill="none" stroke="#4936cc" stroke-opacity="0.16" stroke-width="4.15" stroke-linejoin="round"/><polyline points="1078.8,557 1099.28,557 1119.77,557 1140.25,555.05 1160.74,515.02 1181.22,496.47 1201.71,477.92 1222.19,411.15 1242.68,459.38 1263.16,409.2 1283.65,378.54 1304.13,374.25 1324.62,367.61 1345.11,372.68 1365.59,375.22 1386.08,365.46 1406.56,364.48 1427.05,364.29 1447.53,364.29 1468.01,364.29 1488.5,364.29 1508.99,364.48 1529.47,369.36 1549.95,366.63 1570.44,367.61 1590.93,367.61 1611.41,367.22 1631.89,366.63 1652.38,364.87 1672.87,364.87 1693.35,364.87 1713.84,364.87 1734.32,365.65 1754.81,364.87 1775.29,364.87 1795.78,365.26 1816.26,364.87 1836.74,364.87 1857.23,364.87 1877.72,364.87 1898.2,364.87" fill="none" stroke="#4936cc" stroke-width="2.95" stroke-dasharray="10.92 4.72" stroke-linejoin="round"/>
<polyline points="1078.8,557 1099.28,557 1119.77,549.19 1140.25,521.86 1160.74,466.01 1181.22,414.08 1201.71,426.77 1222.19,377.37 1242.68,450.78 1263.16,402.75 1283.65,369.76 1304.13,368 1324.62,364.29 1345.11,367.22 1365.59,369.76 1386.08,364.29 1406.56,363.9 1427.05,363.9 1447.53,363.9 1468.01,363.9 1488.5,363.9 1508.99,363.9 1529.47,367.02 1549.95,364.87 1570.44,364.09 1590.93,364.09 1611.41,364.09 1631.89,364.09 1652.38,364.09 1672.87,364.09 1693.35,364.09 1713.84,364.09 1734.32,364.09 1754.81,364.09 1775.29,364.09 1795.78,364.09 1816.26,364.09 1836.74,364.09 1857.23,364.09 1877.72,364.09 1898.2,364.09" fill="none" stroke="#ffffff" stroke-opacity="0.55" stroke-width="3.9" stroke-linejoin="round"/><polyline points="1078.8,557 1099.28,557 1119.77,549.19 1140.25,521.86 1160.74,466.01 1181.22,414.08 1201.71,426.77 1222.19,377.37 1242.68,450.78 1263.16,402.75 1283.65,369.76 1304.13,368 1324.62,364.29 1345.11,367.22 1365.59,369.76 1386.08,364.29 1406.56,363.9 1427.05,363.9 1447.53,363.9 1468.01,363.9 1488.5,363.9 1508.99,363.9 1529.47,367.02 1549.95,364.87 1570.44,364.09 1590.93,364.09 1611.41,364.09 1631.89,364.09 1652.38,364.09 1672.87,364.09 1693.35,364.09 1713.84,364.09 1734.32,364.09 1754.81,364.09 1775.29,364.09 1795.78,364.09 1816.26,364.09 1836.74,364.09 1857.23,364.09 1877.72,364.09 1898.2,364.09" fill="none" stroke="#e8e04c" stroke-opacity="0.16" stroke-width="3.7" stroke-linejoin="round"/><polyline points="1078.8,557 1099.28,557 1119.77,549.19 1140.25,521.86 1160.74,466.01 1181.22,414.08 1201.71,426.77 1222.19,377.37 1242.68,450.78 1263.16,402.75 1283.65,369.76 1304.13,368 1324.62,364.29 1345.11,367.22 1365.59,369.76 1386.08,364.29 1406.56,363.9 1427.05,363.9 1447.53,363.9 1468.01,363.9 1488.5,363.9 1508.99,363.9 1529.47,367.02 1549.95,364.87 1570.44,364.09 1590.93,364.09 1611.41,364.09 1631.89,364.09 1652.38,364.09 1672.87,364.09 1693.35,364.09 1713.84,364.09 1734.32,364.09 1754.81,364.09 1775.29,364.09 1795.78,364.09 1816.26,364.09 1836.74,364.09 1857.23,364.09 1877.72,364.09 1898.2,364.09" fill="none" stroke="#e8e04c" stroke-width="2.5" stroke-dasharray="9.25 4" stroke-linejoin="round"/>
<polyline points="1078.8,557 1099.28,555.05 1119.77,527.71 1140.25,366.63 1160.74,369.56 1181.22,378.15 1201.71,371.51 1222.19,377.37 1242.68,447.66 1263.16,400.8 1283.65,371.51 1304.13,369.56 1324.62,365.07 1345.11,368.39 1365.59,370.93 1386.08,364.29 1406.56,363.9 1427.05,363.9 1447.53,363.9 1468.01,363.9 1488.5,363.9 1508.99,363.9 1529.47,367.61 1549.95,365.07 1570.44,364.09 1590.93,364.09 1611.41,364.09 1631.89,364.09 1652.38,364.09 1672.87,364.09 1693.35,364.09 1713.84,364.09 1734.32,364.09 1754.81,364.09 1775.29,364.09 1795.78,364.09 1816.26,364.09 1836.74,364.09 1857.23,364.09 1877.72,364.09 1898.2,364.09" fill="none" stroke="#ffffff" stroke-opacity="0.55" stroke-width="3.9" stroke-linejoin="round"/><polyline points="1078.8,557 1099.28,555.05 1119.77,527.71 1140.25,366.63 1160.74,369.56 1181.22,378.15 1201.71,371.51 1222.19,377.37 1242.68,447.66 1263.16,400.8 1283.65,371.51 1304.13,369.56 1324.62,365.07 1345.11,368.39 1365.59,370.93 1386.08,364.29 1406.56,363.9 1427.05,363.9 1447.53,363.9 1468.01,363.9 1488.5,363.9 1508.99,363.9 1529.47,367.61 1549.95,365.07 1570.44,364.09 1590.93,364.09 1611.41,364.09 1631.89,364.09 1652.38,364.09 1672.87,364.09 1693.35,364.09 1713.84,364.09 1734.32,364.09 1754.81,364.09 1775.29,364.09 1795.78,364.09 1816.26,364.09 1836.74,364.09 1857.23,364.09 1877.72,364.09 1898.2,364.09" fill="none" stroke="#e3a23f" stroke-opacity="0.16" stroke-width="3.7" stroke-linejoin="round"/><polyline points="1078.8,557 1099.28,555.05 1119.77,527.71 1140.25,366.63 1160.74,369.56 1181.22,378.15 1201.71,371.51 1222.19,377.37 1242.68,447.66 1263.16,400.8 1283.65,371.51 1304.13,369.56 1324.62,365.07 1345.11,368.39 1365.59,370.93 1386.08,364.29 1406.56,363.9 1427.05,363.9 1447.53,363.9 1468.01,363.9 1488.5,363.9 1508.99,363.9 1529.47,367.61 1549.95,365.07 1570.44,364.09 1590.93,364.09 1611.41,364.09 1631.89,364.09 1652.38,364.09 1672.87,364.09 1693.35,364.09 1713.84,364.09 1734.32,364.09 1754.81,364.09 1775.29,364.09 1795.78,364.09 1816.26,364.09 1836.74,364.09 1857.23,364.09 1877.72,364.09 1898.2,364.09" fill="none" stroke="#e3a23f" stroke-width="2.5" stroke-dasharray="9.25 4" stroke-linejoin="round"/>
<polyline points="1078.8,533.57 1099.28,408.61 1119.77,367.61 1140.25,364.48 1160.74,364.09 1181.22,364.09 1201.71,364.09 1222.19,364.09 1242.68,364.09 1263.16,364.09 1283.65,364.09 1304.13,364.09 1324.62,364.09 1345.11,364.09 1365.59,364.09 1386.08,364.09 1406.56,364.09 1427.05,364.09 1447.53,364.09 1468.01,364.09 1488.5,364.09 1508.99,364.09 1529.47,364.09 1549.95,364.09 1570.44,364.09 1590.93,364.09 1611.41,364.09 1631.89,364.09 1652.38,364.09 1672.87,364.09 1693.35,364.09 1713.84,364.09 1734.32,364.09 1754.81,364.09 1775.29,364.09 1795.78,364.09 1816.26,364.09 1836.74,364.09 1857.23,364.09 1877.72,364.09 1898.2,364.09" fill="none" stroke="#b855d8" stroke-width="2.4" stroke-linejoin="round"/>
<polyline points="1078.8,518.93 1099.28,410.56 1119.77,367.61 1140.25,364.68 1160.74,365.65 1181.22,365.65 1201.71,365.65 1222.19,365.65 1242.68,365.65 1263.16,365.65 1283.65,365.46 1304.13,366.05 1324.62,364.87 1345.11,365.26 1365.59,365.65 1386.08,364.09 1406.56,363.7 1427.05,363.7 1447.53,363.7 1468.01,363.7 1488.5,363.7 1508.99,363.7 1529.47,363.7 1549.95,363.7 1570.44,363.7 1590.93,363.7 1611.41,363.7 1631.89,363.7 1652.38,363.7 1672.87,363.7 1693.35,363.7 1713.84,363.7 1734.32,363.7 1754.81,363.7 1775.29,363.7 1795.78,363.7 1816.26,363.7 1836.74,363.7 1857.23,363.7 1877.72,363.7 1898.2,363.7" fill="none" stroke="#c4383f" stroke-width="2.5" stroke-linejoin="round"/>
<polyline points="1078.8,468.16 1099.28,402.75 1119.77,366.63 1140.25,363.7 1160.74,363.51 1181.22,363.51 1201.71,363.51 1222.19,363.51 1242.68,363.51 1263.16,363.51 1283.65,363.51 1304.13,363.51 1324.62,363.51 1345.11,363.51 1365.59,363.51 1386.08,363.51 1406.56,363.51 1427.05,363.51 1447.53,363.51 1468.01,363.51 1488.5,363.51 1508.99,363.51 1529.47,363.51 1549.95,363.51 1570.44,363.51 1590.93,363.51 1611.41,363.51 1631.89,363.51 1652.38,363.51 1672.87,363.51 1693.35,363.51 1713.84,363.51 1734.32,363.51 1754.81,363.51 1775.29,363.51 1795.78,363.51 1816.26,363.51 1836.74,363.51 1857.23,363.51 1877.72,363.51 1898.2,363.51" fill="none" stroke="#86d06e" stroke-width="2.2" stroke-linejoin="round"/>
<polyline points="1078.8,427.74 1099.28,402.17 1119.77,366.63 1140.25,363.7 1160.74,362.92 1181.22,362.92 1201.71,362.92 1222.19,362.92 1242.68,362.92 1263.16,362.92 1283.65,362.92 1304.13,362.92 1324.62,362.92 1345.11,362.92 1365.59,362.92 1386.08,362.92 1406.56,362.92 1427.05,362.92 1447.53,362.92 1468.01,362.92 1488.5,362.92 1508.99,362.92 1529.47,364.29 1549.95,363.12 1570.44,362.92 1590.93,362.92 1611.41,362.92 1631.89,362.92 1652.38,362.92 1672.87,362.92 1693.35,362.92 1713.84,362.92 1734.32,362.92 1754.81,362.92 1775.29,362.92 1795.78,362.92 1816.26,362.92 1836.74,362.92 1857.23,362.92 1877.72,362.92 1898.2,362.92" fill="none" stroke="#5fa4da" stroke-width="2.9" stroke-linejoin="round"/>
</g>
<path d="M1078.8 337.3H1898.2V581.3" fill="none" stroke="#e4e5e8" stroke-width="1.1"/>
<path d="M1078.8 337.3V581.3H1898.2" fill="none" stroke="#d3d4d7" stroke-width="1.2"/>
<path d="M1064.6 557H1078.8M1064.6 517.95H1078.8M1064.6 478.9H1078.8M1064.6 439.85H1078.8M1064.6 400.8H1078.8M1064.6 361.75H1078.8M1078.8 581.3V595.8M1195.86 581.3V595.8M1312.91 581.3V595.8M1429.97 581.3V595.8M1547.03 581.3V595.8M1664.09 581.3V595.8M1781.14 581.3V595.8M1898.2 581.3V595.8" stroke="#7a7a7e" stroke-width="1.3" fill="none"/>
<text x="1053.6" y="564.3" text-anchor="end" font-family="'Liberation Sans', sans-serif" font-size="21.5" fill="#4d4d56">0</text>
<text x="1053.6" y="525.25" text-anchor="end" font-family="'Liberation Sans', sans-serif" font-size="21.5" fill="#4d4d56">20</text>
<text x="1053.6" y="486.2" text-anchor="end" font-family="'Liberation Sans', sans-serif" font-size="21.5" fill="#4d4d56">40</text>
<text x="1053.6" y="447.15" text-anchor="end" font-family="'Liberation Sans', sans-serif" font-size="21.5" fill="#4d4d56">60</text>
<text x="1053.6" y="408.1" text-anchor="end" font-family="'Liberation Sans', sans-serif" font-size="21.5" fill="#4d4d56">80</text>
<text x="1053.6" y="369.05" text-anchor="end" font-family="'Liberation Sans', sans-serif" font-size="21.5" fill="#4d4d56">100</text>
<text x="1078.8" y="621.6" text-anchor="middle" font-family="'Liberation Sans', sans-serif" font-size="21.5" fill="#4d4d56">0.0</text>
<text x="1195.86" y="621.6" text-anchor="middle" font-family="'Liberation Sans', sans-serif" font-size="21.5" fill="#4d4d56">0.2</text>
<text x="1312.91" y="621.6" text-anchor="middle" font-family="'Liberation Sans', sans-serif" font-size="21.5" fill="#4d4d56">0.4</text>
<text x="1429.97" y="621.6" text-anchor="middle" font-family="'Liberation Sans', sans-serif" font-size="21.5" fill="#4d4d56">0.6</text>
<text x="1547.03" y="621.6" text-anchor="middle" font-family="'Liberation Sans', sans-serif" font-size="21.5" fill="#4d4d56">0.8</text>
<text x="1664.09" y="621.6" text-anchor="middle" font-family="'Liberation Sans', sans-serif" font-size="21.5" fill="#4d4d56">1.0</text>
<text x="1781.14" y="621.6" text-anchor="middle" font-family="'Liberation Sans', sans-serif" font-size="21.5" fill="#4d4d56">1.2</text>
<text x="1898.2" y="621.6" text-anchor="middle" font-family="'Liberation Sans', sans-serif" font-size="21.5" fill="#4d4d56">1.4</text>
<text x="1488.5" y="654.2" text-anchor="middle" textLength="109.5" lengthAdjust="spacingAndGlyphs" font-family="'Liberation Sans', sans-serif" font-size="24.5" fill="#4d4d56">Episodes</text>
<text x="1897.9" y="644" text-anchor="end" font-family="'DejaVu Sans', 'Liberation Sans', sans-serif" font-size="20.4" fill="#3c3c44">1e6</text>
<text transform="translate(1005.4 459.3) rotate(-90)" text-anchor="middle" textLength="135.4" lengthAdjust="spacingAndGlyphs" font-family="'Liberation Sans', sans-serif" font-size="24.5" fill="#4d4d56">% episodes</text>
<g transform="translate(1105.7 393.4)"><circle r="22.3" fill="#e2c2ed" fill-opacity="0.86" stroke="#d093e4" stroke-width="1.1"/><use href="#i-crafting"/></g>
<g transform="translate(1149.9 363.3)"><circle r="22.3" fill="#e6b8ba" fill-opacity="0.86" stroke="#d78185" stroke-width="1.1"/><use href="#i-sticks"/></g>
<g transform="translate(1203.5 362.6)"><circle r="22.3" fill="#d1eaca" fill-opacity="0.86" stroke="#b1dfa2" stroke-width="1.1"/><use href="#i-planks"/></g>
<g transform="translate(1257 362.6)"><circle r="22.3" fill="#c4dced" fill-opacity="0.86" stroke="#98c4e5" stroke-width="1.1"/><use href="#i-logs"/></g>
<g transform="translate(1129.1 460)"><circle r="22.3" fill="#f0dbba" fill-opacity="0.86" stroke="#eac285" stroke-width="1.1"/><use href="#i-wpick"/></g>
<g transform="translate(1207.4 457.3)"><circle r="22.3" fill="#bdb7e9" fill-opacity="0.86" stroke="#8b7fdc" stroke-width="1.1"/><use href="#i-spick"/></g>
<g transform="translate(1266.9 460)"><circle r="22.3" fill="#d3d4db" fill-opacity="0.86" stroke="#b5b5c2" stroke-width="1.1"/><use href="#i-ore"/></g>
<g transform="translate(1315 435.4)"><circle r="22.3" fill="#bfd9cf" fill-opacity="0.86" stroke="#8ebfad" stroke-width="1.1"/><use href="#i-torch"/></g>
<g transform="translate(1412 459.5)"><circle r="22.3" fill="#aaabab" fill-opacity="0.86" stroke="#686868" stroke-width="1.1"/><use href="#i-ingot"/></g>
<g transform="translate(1483.5 459.5)"><circle r="22.3" fill="#c4dced" fill-opacity="0.86" stroke="#98c4e5" stroke-width="1.1"/><use href="#i-ipick"/></g>
<g transform="translate(1136.7 528.6)"><circle r="22.3" fill="#f1efbf" fill-opacity="0.86" stroke="#ede98d" stroke-width="1.1"/><use href="#i-cobble"/></g>
<g transform="translate(1186.6 507.8)"><circle r="22.3" fill="#bcb4e6" fill-opacity="0.86" stroke="#7f76cf" stroke-width="1.1"/><use href="#i-coal"/></g>
<g transform="translate(1241.1 506.7)"><circle r="22.3" fill="#cff1e7" fill-opacity="0.86" stroke="#adecd9" stroke-width="1.1"/><use href="#i-furnace"/></g>
<g transform="translate(1763.3 536.9)"><circle r="22.3" fill="#d1eaca" fill-opacity="0.86" stroke="#b1dfa2" stroke-width="1.1"/><use href="#i-diamond"/></g>
<g transform="translate(1825.2 551.1)"><circle r="22.3" fill="#e6b8ba" fill-opacity="0.86" stroke="#d78185" stroke-width="1.1"/><use href="#i-dpick"/></g>
<text x="1488.5" y="331" text-anchor="middle" textLength="335" lengthAdjust="spacingAndGlyphs" font-family="'Liberation Sans', sans-serif" font-weight="bold" font-size="25" fill="#454552">RL from Early-Game model</text>
<text x="982" y="328.75" textLength="34.5" lengthAdjust="spacingAndGlyphs" font-family="'Liberation Serif', serif" font-weight="bold" font-size="27.8" fill="#111">(d)</text>
<text x="1848.6" y="540.2" font-family="'DejaVu Sans', 'Liberation Sans', sans-serif" font-size="19" fill="#111">2.5%</text>
<path d="M1885.5 544.5L1893 549.5" stroke="#111" stroke-width="1.8" fill="none"/>
<polygon points="1897.6,552.6 1888.4,551.2 1892.6,545.0" fill="#111"/>
</svg>
</body></html>
